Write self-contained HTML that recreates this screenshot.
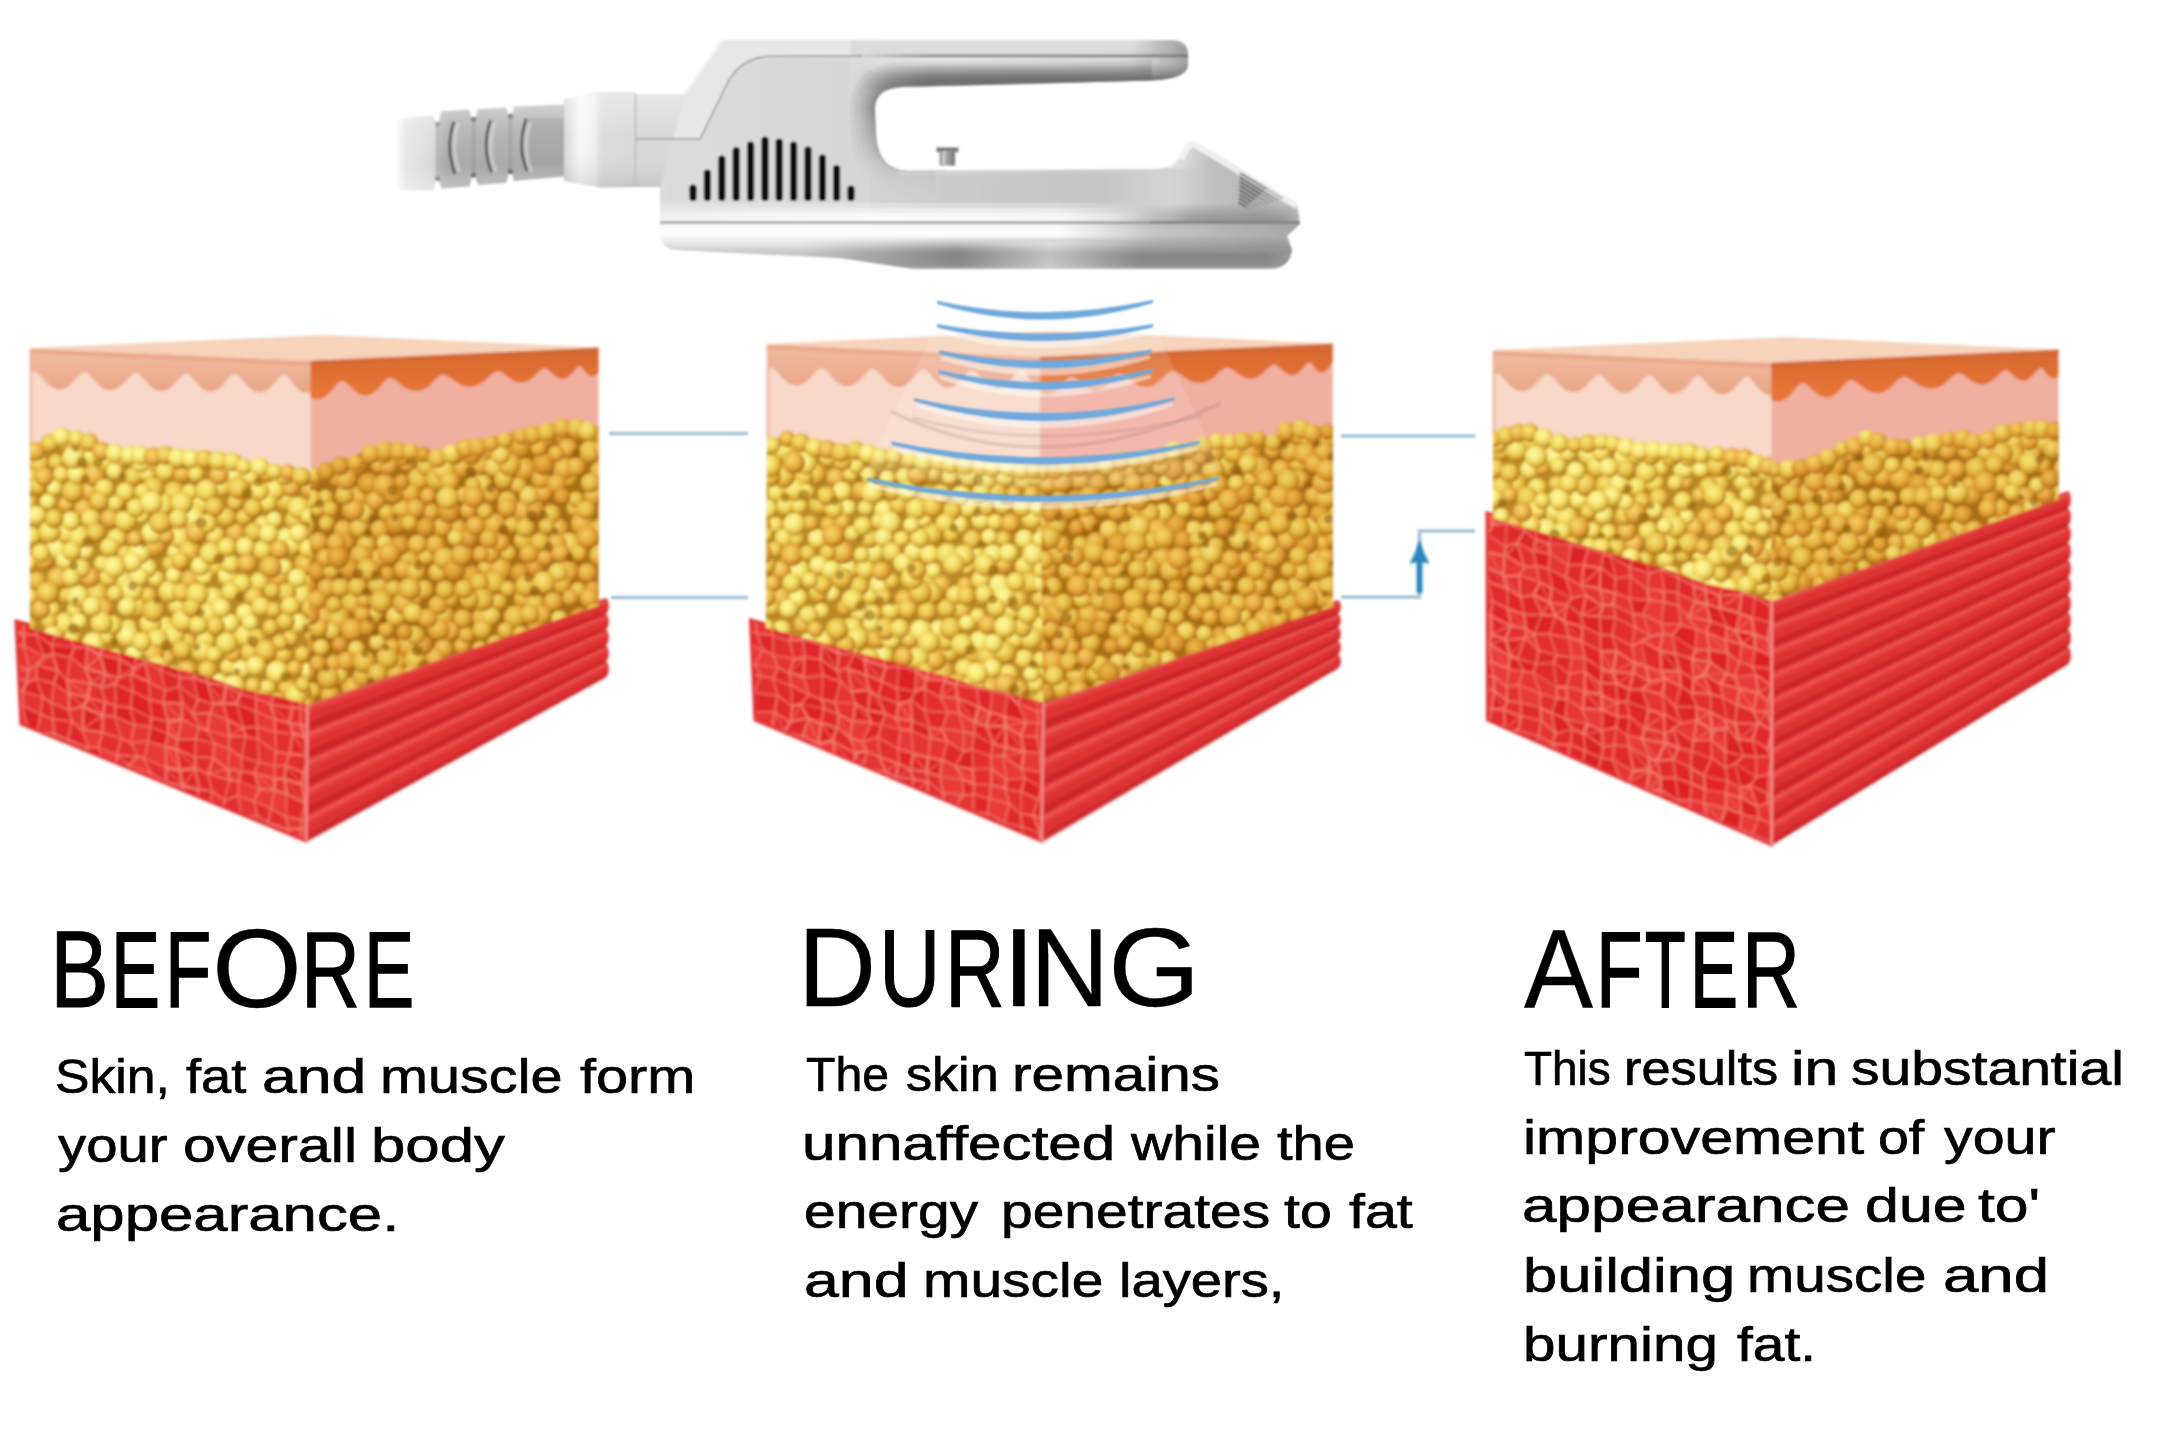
<!DOCTYPE html>
<html><head><meta charset="utf-8"><title>Before During After</title>
<style>
html,body{margin:0;padding:0;background:#fff;}
body{width:2160px;height:1440px;position:relative;overflow:hidden;font-family:"Liberation Sans",sans-serif;color:#000;}
.t{position:absolute;white-space:pre;line-height:1;transform-origin:0 0;margin:0;filter:blur(0.6px);}
.h{font-size:113px;-webkit-text-stroke:0.8px #000;height:113px;width:10px}
.h span{position:absolute;top:0;transform-origin:0 95.68px;}
.b{font-size:50px;-webkit-text-stroke:0.7px #000;height:50px;width:10px}
.b span{position:absolute;top:0;transform-origin:0 42.34px;}
</style></head><body>
<svg width="2160" height="1440" viewBox="0 0 2160 1440" style="position:absolute;left:0;top:0"><defs><radialGradient id="ga" cx="0.4" cy="0.36" r="0.64"><stop offset="0" stop-color="#fbf38e"/><stop offset="0.45" stop-color="#f3dc66"/><stop offset="0.8" stop-color="#dcae3a"/><stop offset="1" stop-color="#a8781a"/></radialGradient><radialGradient id="gb" cx="0.4" cy="0.36" r="0.64"><stop offset="0" stop-color="#f6e476"/><stop offset="0.45" stop-color="#ecc954"/><stop offset="0.8" stop-color="#d29a2c"/><stop offset="1" stop-color="#a06c14"/></radialGradient><radialGradient id="gc" cx="0.4" cy="0.36" r="0.64"><stop offset="0" stop-color="#f7da72"/><stop offset="0.45" stop-color="#ecba4c"/><stop offset="0.8" stop-color="#d4922c"/><stop offset="1" stop-color="#a06414"/></radialGradient><radialGradient id="gd" cx="0.4" cy="0.36" r="0.64"><stop offset="0" stop-color="#fdf9a6"/><stop offset="0.45" stop-color="#f7e878"/><stop offset="0.8" stop-color="#e2bc48"/><stop offset="1" stop-color="#b08420"/></radialGradient><radialGradient id="ge" cx="0.4" cy="0.36" r="0.64"><stop offset="0" stop-color="#f0c458"/><stop offset="0.45" stop-color="#e2a63c"/><stop offset="0.8" stop-color="#c68224"/><stop offset="1" stop-color="#98600f"/></radialGradient><circle id="a0" r="8.2" fill="url(#ga)"/><circle id="a1" r="9.7" fill="url(#ga)"/><circle id="a2" r="11.2" fill="url(#ga)"/><circle id="b0" r="8.2" fill="url(#gb)"/><circle id="b1" r="9.7" fill="url(#gb)"/><circle id="b2" r="11.2" fill="url(#gb)"/><circle id="c0" r="8.2" fill="url(#gc)"/><circle id="c1" r="9.7" fill="url(#gc)"/><circle id="c2" r="11.2" fill="url(#gc)"/><circle id="d0" r="8.2" fill="url(#gd)"/><circle id="d1" r="9.7" fill="url(#gd)"/><circle id="d2" r="11.2" fill="url(#gd)"/><circle id="e0" r="8.2" fill="url(#ge)"/><circle id="e1" r="9.7" fill="url(#ge)"/><circle id="e2" r="11.2" fill="url(#ge)"/>
<linearGradient id="epiR" gradientUnits="userSpaceOnUse" x1="0" y1="346" x2="0" y2="402"><stop offset="0" stop-color="#d2672f"/><stop offset="0.45" stop-color="#df6e33"/><stop offset="1" stop-color="#ea7937"/></linearGradient>
<filter id="soft" x="-2%" y="-2%" width="104%" height="104%"><feGaussianBlur stdDeviation="1.7"/></filter>
<filter id="soft2" x="-5%" y="-5%" width="110%" height="110%"><feGaussianBlur stdDeviation="1.1"/></filter>
<clipPath id="k1"><polygon points="16,621 307.5,701 306,841 21,724"/></clipPath><clipPath id="k2"><polygon points="30,348 310.5,360.5 310.5,423 30,423"/></clipPath><linearGradient id="epiL11" gradientUnits="userSpaceOnUse" x1="0" y1="348" x2="0" y2="394"><stop offset="0" stop-color="#f1c0a6"/><stop offset="0.4" stop-color="#eeb397"/><stop offset="1" stop-color="#e9a383"/></linearGradient><clipPath id="k3"><polygon points="310.5,360.5 598.5,347.5 598.5,423 310.5,423"/></clipPath><linearGradient id="epiR11" gradientUnits="userSpaceOnUse" x1="0" y1="346" x2="0" y2="402"><stop offset="0" stop-color="#d2672f"/><stop offset="0.45" stop-color="#df6e33"/><stop offset="1" stop-color="#ea7937"/></linearGradient><clipPath id="k4"><path d="M30,453C32.5,450.8 39.2,443.5 45,440C50.8,436.5 57.5,432 65,432C72.5,432 82.5,437 90,440C97.5,443 101.7,448 110,450C118.3,452 127.5,451.5 140,452C152.5,452.5 170,452 185,453C200,454 215.8,455.8 230,458C244.2,460.2 256.6,463.3 270,466C283.4,468.7 303.8,472.7 310.5,474 L310.5,705.3 L275,695.6 L245,690 L214,678.8 L185,670.9 L150,661.3 L120,653 L97,646.7 L60,636.6 L30,628.3Z"/></clipPath><clipPath id="k5"><path d="M310.5,474C315.4,472 326.6,467 340,462C353.4,457 374.8,445.5 391,444C407.2,442.5 423.8,453 437,453C450.2,453 459.2,447 470,444C480.8,441 487.3,438.3 502,435C516.7,431.7 541.9,425.5 558,424C574.1,422.5 591.8,425.7 598.5,426 L598.5,605.5 L307.5,705 Z"/></clipPath><clipPath id="k6"><polygon points="30,348 310.5,348 310.5,841 30,841"/></clipPath><clipPath id="k7"><polygon points="310.5,348 598.5,348 598.5,841 310.5,841"/></clipPath><clipPath id="k8"><polygon points="750.5,620 1043.5,699 1041.5,841 755,720"/></clipPath><clipPath id="k9"><polygon points="767,344 1040,356.5 1040,419 767,419"/></clipPath><linearGradient id="epiL22" gradientUnits="userSpaceOnUse" x1="0" y1="344" x2="0" y2="390"><stop offset="0" stop-color="#f1c0a6"/><stop offset="0.4" stop-color="#eeb397"/><stop offset="1" stop-color="#e9a383"/></linearGradient><clipPath id="k10"><polygon points="1040,356.5 1332.7,343.5 1332.7,419 1040,419"/></clipPath><linearGradient id="epiR22" gradientUnits="userSpaceOnUse" x1="0" y1="342" x2="0" y2="398"><stop offset="0" stop-color="#d2672f"/><stop offset="0.45" stop-color="#df6e33"/><stop offset="1" stop-color="#ea7937"/></linearGradient><clipPath id="k11"><path d="M767,444C769.2,442.8 775.4,438.6 780,437C784.6,435.4 789.5,434 794.5,434.5C799.5,435 804.8,438.1 810,440C815.2,441.9 817.2,444.8 826,446C834.8,447.2 850.7,446 863,447.5C875.3,449 885.5,453.1 900,455C914.5,456.9 933.3,457.7 950,459C966.7,460.3 985,461.9 1000,463C1015,464.1 1033.3,465.1 1040,465.5 L1043.5,702.5 L1011,693.7 L981,687 L950,677.3 L921,669.5 L886,660 L856,651.9 L833,645.7 L796,635.8 L766,627.7Z"/></clipPath><clipPath id="k12"><path d="M1040,465.5C1046.7,465.1 1067.8,463.9 1080,463C1092.2,462.1 1102.2,461.3 1113,460C1123.8,458.7 1135.5,456.8 1145,455C1154.5,453.2 1158.7,451.8 1170,449C1181.3,446.2 1198.7,440.3 1213,438C1227.3,435.7 1245.8,434.8 1256,435C1266.2,435.2 1268.2,440.8 1274,439C1279.8,437.2 1284.8,425.8 1291,424C1297.2,422.2 1304,427.7 1311,428C1318,428.3 1329.1,426.3 1332.7,426 L1332.7,606.8 L1043.5,703 Z"/></clipPath><clipPath id="k13"><polygon points="767,344 1040,344 1040,841 767,841"/></clipPath><clipPath id="k14"><polygon points="1040,344 1332.7,344 1332.7,841 1040,841"/></clipPath><clipPath id="k15"><polygon points="1487,513 1771.7,597 1771.7,845 1487.5,720"/></clipPath><clipPath id="k16"><polygon points="1493,350 1771.4,362.5 1771.4,425 1493,425"/></clipPath><linearGradient id="epiL33" gradientUnits="userSpaceOnUse" x1="0" y1="350" x2="0" y2="396"><stop offset="0" stop-color="#f1c0a6"/><stop offset="0.4" stop-color="#eeb397"/><stop offset="1" stop-color="#e9a383"/></linearGradient><clipPath id="k17"><polygon points="1771.4,362.5 2058.4,349.5 2058.4,425 1771.4,425"/></clipPath><linearGradient id="epiR33" gradientUnits="userSpaceOnUse" x1="0" y1="348" x2="0" y2="404"><stop offset="0" stop-color="#d2672f"/><stop offset="0.45" stop-color="#df6e33"/><stop offset="1" stop-color="#ea7937"/></linearGradient><clipPath id="k18"><path d="M1493,437C1495.5,435.7 1502.3,430.8 1508,429C1513.7,427.2 1520.8,425.3 1527,426C1533.2,426.7 1538.8,430.2 1545,433C1551.2,435.8 1555,442.2 1564,443C1573,443.8 1586,437.5 1599,438C1612,438.5 1625.2,444.2 1642,446C1658.8,447.8 1683.7,447.7 1700,449C1716.3,450.3 1728.1,451.6 1740,454C1751.9,456.4 1766.2,461.9 1771.4,463.5 L1771.4,600.4 L1737,590.3 L1707,584 L1676,572.3 L1647,563.7 L1612,553.4 L1583,545 L1560,538 L1520,526.2 L1493,518.3Z"/></clipPath><clipPath id="k19"><path d="M1771.4,463.5C1776.2,463.9 1791.6,467.1 1800,466C1808.4,464.9 1814.8,460.3 1822,457C1829.2,453.7 1835.7,449.7 1843,446C1850.3,442.3 1856.5,435 1866,435C1875.5,435 1887.2,446 1900,446C1912.8,446 1928.7,436.3 1943,435C1957.3,433.7 1974,439.9 1986,438C1998,436.1 2006,425.3 2015,423.5C2024,421.7 2032.8,426.6 2040,427C2047.2,427.4 2055.3,426.2 2058.4,426 L2058.4,499.3 L1771.7,601 Z"/></clipPath><clipPath id="k20"><polygon points="1493,350 1771.4,350 1771.4,845 1493,845"/></clipPath><clipPath id="k21"><polygon points="1771.4,350 2058.4,350 2058.4,845 1771.4,845"/></clipPath>
<linearGradient id="dBody" gradientUnits="userSpaceOnUse" x1="660" y1="0" x2="1300" y2="0"><stop offset="0" stop-color="#dcdcdc"/><stop offset="0.3" stop-color="#d6d6d6"/><stop offset="0.62" stop-color="#dedede"/><stop offset="0.8" stop-color="#e6e6e6"/><stop offset="1" stop-color="#e2e2e2"/></linearGradient>
<linearGradient id="dLow" gradientUnits="userSpaceOnUse" x1="0" y1="223" x2="0" y2="270"><stop offset="0" stop-color="#f4f4f4"/><stop offset="0.22" stop-color="#ffffff"/><stop offset="0.42" stop-color="#ececec"/><stop offset="0.62" stop-color="#d0d0d0"/><stop offset="1" stop-color="#bcbcbc"/></linearGradient>
<linearGradient id="dLowDark" gradientUnits="userSpaceOnUse" x1="0" y1="236" x2="0" y2="270"><stop offset="0" stop-color="#808080" stop-opacity="0"/><stop offset="0.5" stop-color="#787878" stop-opacity="0.85"/><stop offset="0.85" stop-color="#808080" stop-opacity="0.85"/><stop offset="1" stop-color="#989898" stop-opacity="0.5"/></linearGradient>
<linearGradient id="dLowDarkX" gradientUnits="userSpaceOnUse" x1="800" y1="0" x2="1300" y2="0"><stop offset="0" stop-color="#1a1a1a"/><stop offset="0.3" stop-color="#fff"/><stop offset="0.93" stop-color="#fff"/><stop offset="1" stop-color="#999"/></linearGradient>
<mask id="mLow" maskUnits="userSpaceOnUse" x="600" y="200" width="720" height="90"><rect x="600" y="200" width="720" height="90" fill="url(#dLowDarkX)"/></mask>
<linearGradient id="dHandle" gradientUnits="userSpaceOnUse" x1="0" y1="40" x2="0" y2="88"><stop offset="0" stop-color="#e0e0e0"/><stop offset="0.29" stop-color="#d9d9d9"/><stop offset="0.31" stop-color="#8e8e8e"/><stop offset="0.35" stop-color="#8e8e8e"/><stop offset="0.38" stop-color="#ececec"/><stop offset="0.5" stop-color="#dedede"/><stop offset="0.66" stop-color="#acacac"/><stop offset="0.83" stop-color="#747474"/><stop offset="1" stop-color="#828282"/></linearGradient>
<linearGradient id="dHandleL" gradientUnits="userSpaceOnUse" x1="850" y1="0" x2="930" y2="0"><stop offset="0" stop-color="#dcdcdc" stop-opacity="1"/><stop offset="0.3" stop-color="#dcdcdc" stop-opacity="0.75"/><stop offset="1" stop-color="#dcdcdc" stop-opacity="0"/></linearGradient>
<linearGradient id="dHandleR" gradientUnits="userSpaceOnUse" x1="1130" y1="0" x2="1190" y2="0"><stop offset="0" stop-color="#6c6c6c" stop-opacity="0"/><stop offset="0.7" stop-color="#6c6c6c" stop-opacity="0.4"/><stop offset="1" stop-color="#6c6c6c" stop-opacity="0.6"/></linearGradient>
<linearGradient id="dWall" gradientUnits="userSpaceOnUse" x1="850" y1="0" x2="877" y2="0"><stop offset="0" stop-color="#8a8a8a" stop-opacity="0"/><stop offset="0.55" stop-color="#8a8a8a" stop-opacity="0.55"/><stop offset="1" stop-color="#7a7a7a" stop-opacity="0.95"/></linearGradient>
<linearGradient id="dWallV" gradientUnits="userSpaceOnUse" x1="0" y1="60" x2="0" y2="180"><stop offset="0" stop-color="#fff"/><stop offset="0.4" stop-color="#fff"/><stop offset="0.85" stop-color="#555"/><stop offset="1" stop-color="#222"/></linearGradient>
<mask id="mWall" maskUnits="userSpaceOnUse" x="830" y="40" width="380" height="160"><rect x="830" y="40" width="380" height="160" fill="url(#dWallV)"/></mask>
<linearGradient id="dCable" gradientUnits="userSpaceOnUse" x1="0" y1="104" x2="0" y2="192"><stop offset="0" stop-color="#d2d2d2"/><stop offset="0.28" stop-color="#b9b9b9"/><stop offset="0.7" stop-color="#a9a9a9"/><stop offset="1" stop-color="#c4c4c4"/></linearGradient>
<linearGradient id="dCableFade" gradientUnits="userSpaceOnUse" x1="396" y1="0" x2="446" y2="0"><stop offset="0" stop-color="#fff" stop-opacity="0.95"/><stop offset="0.2" stop-color="#fff" stop-opacity="0.7"/><stop offset="0.75" stop-color="#fff" stop-opacity="0.55"/><stop offset="0.85" stop-color="#fff" stop-opacity="0.15"/><stop offset="1" stop-color="#fff" stop-opacity="0"/></linearGradient>
<linearGradient id="dCollar" gradientUnits="userSpaceOnUse" x1="564" y1="0" x2="636" y2="0"><stop offset="0" stop-color="#d6d6d6"/><stop offset="0.22" stop-color="#f8f8f8"/><stop offset="0.42" stop-color="#f0f0f0"/><stop offset="0.52" stop-color="#dcdcdc"/><stop offset="1" stop-color="#d8d8d8"/></linearGradient>
<linearGradient id="dCollarV" gradientUnits="userSpaceOnUse" x1="0" y1="90" x2="0" y2="190"><stop offset="0" stop-color="#fff" stop-opacity="0.4"/><stop offset="0.5" stop-color="#fff" stop-opacity="0"/><stop offset="1" stop-color="#888" stop-opacity="0.28"/></linearGradient>
<radialGradient id="dShine" gradientUnits="userSpaceOnUse" cx="1085" cy="222" r="120" gradientTransform="translate(0,222) scale(1,0.2) translate(0,-222)"><stop offset="0" stop-color="#fff" stop-opacity="0.85"/><stop offset="0.5" stop-color="#fff" stop-opacity="0.3"/><stop offset="1" stop-color="#fff" stop-opacity="0"/></radialGradient>
<linearGradient id="dBandX" gradientUnits="userSpaceOnUse" x1="660" y1="0" x2="1210" y2="0"><stop offset="0" stop-color="#fff" stop-opacity="0.5"/><stop offset="0.4" stop-color="#fff" stop-opacity="0.92"/><stop offset="0.72" stop-color="#fff" stop-opacity="0.92"/><stop offset="0.88" stop-color="#fff" stop-opacity="0.12"/><stop offset="1" stop-color="#fff" stop-opacity="0"/></linearGradient><linearGradient id="dLowR" gradientUnits="userSpaceOnUse" x1="1060" y1="0" x2="1300" y2="0"><stop offset="0" stop-color="#a0a0a0" stop-opacity="0"/><stop offset="0.4" stop-color="#9c9c9c" stop-opacity="0.6"/><stop offset="1" stop-color="#909090" stop-opacity="0.8"/></linearGradient><linearGradient id="dMidLight" gradientUnits="userSpaceOnUse" x1="960" y1="0" x2="1140" y2="0"><stop offset="0" stop-color="#fff" stop-opacity="0"/><stop offset="0.5" stop-color="#fff" stop-opacity="0.5"/><stop offset="1" stop-color="#fff" stop-opacity="0"/></linearGradient><linearGradient id="dUnder" gradientUnits="userSpaceOnUse" x1="870" y1="0" x2="1200" y2="0"><stop offset="0" stop-color="#c2c2c2" stop-opacity="0.2"/><stop offset="0.25" stop-color="#c0c0c0" stop-opacity="0.6"/><stop offset="0.7" stop-color="#b8b8b8" stop-opacity="0.7"/><stop offset="1" stop-color="#c4c4c4" stop-opacity="0.4"/></linearGradient><linearGradient id="dNoseG" gradientUnits="userSpaceOnUse" x1="1170" y1="0" x2="1300" y2="0"><stop offset="0" stop-color="#c8c8c8" stop-opacity="0"/><stop offset="0.3" stop-color="#bcbcbc" stop-opacity="0.9"/><stop offset="0.7" stop-color="#b6b6b6" stop-opacity="1"/><stop offset="1" stop-color="#c8c8c8" stop-opacity="1"/></linearGradient><linearGradient id="dNoseSh" gradientUnits="userSpaceOnUse" x1="0" y1="204" x2="0" y2="222"><stop offset="0" stop-color="#7e7e7e" stop-opacity="0"/><stop offset="0.6" stop-color="#7e7e7e" stop-opacity="0.5"/><stop offset="1" stop-color="#787878" stop-opacity="0.6"/></linearGradient><linearGradient id="dNoseShX" gradientUnits="userSpaceOnUse" x1="1120" y1="0" x2="1300" y2="0"><stop offset="0" stop-color="#000"/><stop offset="0.4" stop-color="#fff"/><stop offset="0.9" stop-color="#fff"/><stop offset="1" stop-color="#777"/></linearGradient><mask id="mNoseSh" maskUnits="userSpaceOnUse" x="1100" y="195" width="220" height="40"><rect x="1100" y="195" width="220" height="40" fill="url(#dNoseShX)"/></mask><linearGradient id="dTopShade" gradientUnits="userSpaceOnUse" x1="0" y1="168" x2="0" y2="224"><stop offset="0" stop-color="#fff" stop-opacity="0.45"/><stop offset="0.4" stop-color="#fff" stop-opacity="0"/><stop offset="1" stop-color="#000" stop-opacity="0.03"/></linearGradient>
<clipPath id="k22"><path d="M722,40 L1172,40 Q1188,41 1188,54 L1188,66 Q1186,79 1152,80.5 L903,87 Q876,88 875,108 L876,135 Q878,170 908,171 L1156,169 Q1176,168 1182,152 Q1186,140 1194,141 L1297,203 L1300,224 L1287,236 L1292,250 Q1290,268 1270,269 L914,269 L840,258 L678,250 Q661,249 660,234 L660,188 L686,92 Z"/></clipPath></defs><g filter="url(#soft)"><polygon points="16,621 307.5,701 306,841 21,724" fill="#f2776c"/><g clip-path="url(#k1)"><polygon points="10,599.7 22.1,605.4 13.8,612.1" fill="#e83a38"/><polygon points="22.7,606.3 23.6,617.1 14.5,612.9" fill="#e83a38"/><polygon points="13.7,615.6 22.8,619.5 10.7,627.8" fill="#e63434"/><polygon points="23.3,620.3 23.3,632.6 11.2,628.6" fill="#e63434"/><polygon points="10.2,631 22.2,634.9 7.9,642" fill="#e12b2d"/><polygon points="22.8,635.6 22.7,644.9 8.5,642.7" fill="#e12b2d"/><polygon points="6.8,644.2 23.5,647 28.4,668.8 10.9,661.9" fill="#e63434"/><polygon points="11.4,664.1 26.4,669.7 7.5,671.7" fill="#e63434"/><polygon points="27.1,670.4 26.1,680.4 8.1,672.5" fill="#e63434"/><polygon points="7.5,674.2 25.5,682.3 21.5,690" fill="#e12b2d"/><polygon points="6.6,674.7 20.7,690.4 6.8,690.9" fill="#e12b2d"/><polygon points="6.1,692.9 22,692.6 21.8,705.1 11.5,701.6" fill="#e32e30"/><polygon points="11.3,703.3 22.1,706.8 26.3,724.8 13.8,726.1" fill="#e83a38"/><polygon points="14.2,727.8 26.2,726.3 26.9,740.4 11.3,738" fill="#e0282a"/><polygon points="24.7,605.6 35.5,607.1 41.7,619.6 25.5,618" fill="#e12b2d"/><polygon points="25.4,619.5 41.7,620.7 35.7,633.6 25.2,633.6" fill="#e0282a"/><polygon points="25.2,635.1 35.8,635.5 43.6,655.4 25.1,645.8" fill="#e12b2d"/><polygon points="24.7,647 43.3,656.4 36,663.9 29.5,668.7" fill="#e83a38"/><polygon points="29.7,670.5 36,665.7 35.7,677.7 28.1,681.2" fill="#e83a38"/><polygon points="28.3,682.9 35.9,679.5 42,696.2 23.7,691.4" fill="#e0282a"/><polygon points="23.5,692.7 41.8,697.3 39.9,713.4 23.5,705.5" fill="#e63434"/><polygon points="23.2,706.7 39.6,714.8 36.7,730.5 27.6,724.8" fill="#dd2426"/><polygon points="27.4,726.5 36.4,732.1 36.2,745 28.4,740.4" fill="#e32e30"/><polygon points="36.9,606.9 52.2,609.5 58.1,627.3 43.3,619.5" fill="#dd2426"/><polygon points="43,621.1 57.8,628.4 51.5,643.8 37.2,634.3" fill="#dd2426"/><polygon points="36.9,635.3 50.9,645.3 52.1,653.2 44.5,655.1" fill="#dd2426"/><polygon points="44.9,657.2 51.3,655.3 38.5,663.8" fill="#e32e30"/><polygon points="51.9,655.9 56.2,669.8 39,664.4" fill="#e32e30"/><polygon points="37.2,665.5 57,671.7 52.9,682.6 37.3,678.1" fill="#e12b2d"/><polygon points="37,679.3 52.9,684.1 51.3,702.1 43.2,695.9" fill="#e12b2d"/><polygon points="43.1,697.9 51,703.9 52.6,718.2 41.3,713.5" fill="#e12b2d"/><polygon points="41.1,715.2 52.3,719.8 53.6,732.8 38,730.8" fill="#e63434"/><polygon points="39.5,733 53.1,734.9 57.8,748.7" fill="#e0282a"/><polygon points="38.8,733.5 57.1,749.2 38.5,745.1" fill="#e0282a"/><polygon points="53.5,609.5 72.2,619.6 67.8,632.5 59.4,627.2" fill="#e63434"/><polygon points="59.2,629 67.5,634.2 73.7,646.9 52.7,644.3" fill="#e32e30"/><polygon points="52.7,645.4 73.5,647.8 69.5,656.6 53.9,653.6" fill="#dd2426"/><polygon points="53.5,654.7 69.5,658 66.4,678.7 58.6,670.6" fill="#e12b2d"/><polygon points="58.4,672.4 65.8,680.1 68.1,692.4 54.7,683.2" fill="#dd2426"/><polygon points="54.1,684.3 67.7,693.8 68.2,709.1 52.6,702.5" fill="#e63434"/><polygon points="52.4,703.8 67.8,710.4 71.1,720.8 54,718.5" fill="#e0282a"/><polygon points="53.9,719.9 71,722 67.5,738.9 55.2,733" fill="#e12b2d"/><polygon points="56,735.3 66.6,740.5 66,748.6" fill="#e0282a"/><polygon points="55.7,735.7 65.7,749 60.1,749.2" fill="#e0282a"/><polygon points="73.9,620.1 85.3,615.5 82.9,631.5 69,632.8" fill="#e32e30"/><polygon points="69.1,634 82.9,633.2 86.3,646 75,646.6" fill="#dd2426"/><polygon points="75.1,648.4 86.4,647.4 84.8,667.6 71.3,657" fill="#e0282a"/><polygon points="70.8,658.2 84.3,669.1 90.1,682.8 67.6,679.1" fill="#e63434"/><polygon points="69.4,681.2 88.9,684.3 86.7,695.6" fill="#e83a38"/><polygon points="68.5,681.6 85.9,696 70.2,692.5" fill="#e83a38"/><polygon points="70.7,694.7 86.3,698.2 82,705.1" fill="#e0282a"/><polygon points="69.9,695.2 81.2,705.6 70.1,708.4" fill="#e0282a"/><polygon points="69.5,710.7 82.6,707.5 81.6,728.9 72.6,720.7" fill="#e63434"/><polygon points="72.3,722.4 81.3,730.7 87.7,746.8 68.9,739.3" fill="#e0282a"/><polygon points="69.5,741.3 85.7,747.5 68.9,749.8" fill="#e83a38"/><polygon points="86.2,748.3 81.2,756.8 69.5,750.5" fill="#e83a38"/><polygon points="86.5,615.6 103.2,625.9 104.1,642.3 84.5,632" fill="#e32e30"/><polygon points="85.7,634.5 102.7,643.3 99.6,653.1" fill="#dd2426"/><polygon points="85.1,634.6 98.9,653.2 88.5,646.1" fill="#dd2426"/><polygon points="88.1,648.8 98.8,656.3 86.7,666.6" fill="#e83a38"/><polygon points="99.5,657.4 104,672.3 87.5,667.7" fill="#e83a38"/><polygon points="87.1,670.1 103.3,674.6 92,681.8" fill="#e12b2d"/><polygon points="104,675.3 100.5,686 92.6,682.6" fill="#e12b2d"/><polygon points="91.5,684.4 100.5,688.3 104.6,701.4 89.2,697.1" fill="#e32e30"/><polygon points="90.2,699.3 103.6,702.8 102,713.3" fill="#e0282a"/><polygon points="89.3,699.5 101.1,713.5 85.2,706.5" fill="#e0282a"/><polygon points="84.5,708.8 100.6,716.1 83.8,727.7" fill="#dd2426"/><polygon points="101.4,717.1 101.3,731.2 84.5,728.8" fill="#dd2426"/><polygon points="82.9,730.6 101.9,733.4 97.6,746.5 88.9,746.7" fill="#e83a38"/><polygon points="89,748.5 97.6,748.2 105.8,766.6 83.1,758.1" fill="#dd2426"/><polygon points="104.8,626.4 112.7,628 116.5,639.7 105.2,642.2" fill="#e63434"/><polygon points="105.4,643.9 116.7,641.2 118.6,658.1 101.5,654.9" fill="#e63434"/><polygon points="101.4,656.2 118.6,659.5 118,677.1 106.3,673.2" fill="#dd2426"/><polygon points="107.1,675.4 116.9,678.4 114.2,683.1" fill="#e12b2d"/><polygon points="106.4,675.8 113.5,683.4 102.8,686.3" fill="#e12b2d"/><polygon points="102,688.3 114.8,685.2 115.1,705.1 105.9,701.3" fill="#e32e30"/><polygon points="105.9,703.1 114.8,706.6 114.1,715.7 104,714.7" fill="#e12b2d"/><polygon points="103.8,716.2 114.3,717.5 120.6,737.6 103.5,732.1" fill="#e32e30"/><polygon points="103.3,733.7 120.3,738.8 116.4,753.9 99.1,747" fill="#e32e30"/><polygon points="98.9,748.1 116.1,755.4 115.3,767.1 106.9,766.4" fill="#e83a38"/><polygon points="107.1,768.2 115.2,768.7 114.2,780.1 105,777.1" fill="#e83a38"/><polygon points="113.9,627.8 129,631.5 135.4,650.4 118.3,639.9" fill="#e32e30"/><polygon points="117.9,641.2 135.1,651.5 134.4,666.4 120.2,658.3" fill="#dd2426"/><polygon points="120.5,660.8 132.7,667.6 119.9,676" fill="#e0282a"/><polygon points="133.1,668.2 129.9,673.7 120.4,676.7" fill="#e0282a"/><polygon points="119.4,678.6 130.3,675.3 131.9,690.6 116.3,684" fill="#e12b2d"/><polygon points="115.8,685.1 131.7,692 129.8,706.7 116.4,705.2" fill="#e0282a"/><polygon points="116.4,706.7 129.6,708.3 133.4,724.1 115.8,716.3" fill="#dd2426"/><polygon points="115.4,717.4 133.3,725.4 130.8,741.8 121.7,737.4" fill="#e63434"/><polygon points="121.7,739.3 130.6,743.6 136.6,755.7 117.8,754.2" fill="#e32e30"/><polygon points="119,755.9 135.3,757.1 128.3,764.2" fill="#e12b2d"/><polygon points="118.2,756.4 127.4,764.7 117.3,766.7" fill="#e12b2d"/><polygon points="116.7,768.6 128.6,766.6 135.6,782.7 115.6,780.4" fill="#e0282a"/><polygon points="131.5,632.2 146.3,633 136.8,648.6" fill="#dd2426"/><polygon points="147.1,633.7 150,648.4 137.7,649.4" fill="#dd2426"/><polygon points="136.8,651.9 150.7,650.4 144.6,661 135.6,666.4" fill="#e32e30"/><polygon points="136,668 143.8,663.4 132.7,673.4" fill="#e0282a"/><polygon points="144.3,664 148.1,680.3 133.2,674" fill="#e0282a"/><polygon points="131.6,675.3 148.8,682.7 149.1,698.8 133.5,690.9" fill="#e0282a"/><polygon points="133.1,692.3 148.8,700.1 150.7,717.5 131.4,707.3" fill="#dd2426"/><polygon points="131.1,708.4 150.3,718.5 149.4,725.9 135,724.2" fill="#e0282a"/><polygon points="134.8,725.7 149.4,727.2 147.5,740.6 132.1,742.1" fill="#e63434"/><polygon points="132.1,743.4 147.5,742.1 143.6,757.4 137.8,755.4" fill="#e63434"/><polygon points="137.8,757.4 143.4,759.2 149.7,772.2 130.1,765.5" fill="#e83a38"/><polygon points="129.8,766.5 149.5,773.4 145.9,787.9 137.1,782.5" fill="#e63434"/><polygon points="152,650.7 166.9,658.9 160.2,668.8 146.2,661.6" fill="#dd2426"/><polygon points="145.8,662.7 159.9,670.6 164.6,689.8 150.4,681.4" fill="#e63434"/><polygon points="150.2,683.1 164.2,691.1 162.3,701.6 150.5,699" fill="#e32e30"/><polygon points="150.3,700.5 162.3,703.3 166.8,720.5 152,717.5" fill="#e0282a"/><polygon points="152.1,719 166.5,721.7 167.3,733.2 151.2,726.4" fill="#e0282a"/><polygon points="150.8,727.4 167.1,734.2 164.7,745.5 149.2,740.9" fill="#dd2426"/><polygon points="148.8,742.2 164.6,746.9 165.4,766.8 145,758" fill="#e83a38"/><polygon points="144.8,759.1 165,767.9 164.7,781.1 151.4,772.5" fill="#e32e30"/><polygon points="150.9,773.9 164.3,782.3 160.9,797.1 147.4,788.5" fill="#e0282a"/><polygon points="168.2,638.3 181.9,644.4 175.4,657.3 168.5,657.9" fill="#dd2426"/><polygon points="168.4,659.7 175.1,659.2 179.3,677.1 161.6,669.4" fill="#dd2426"/><polygon points="161.3,670.5 179,678.3 178.5,685.9 165.7,689.8" fill="#e12b2d"/><polygon points="166,691.3 178.8,687.3 181.5,702.5 163.7,701.8" fill="#e0282a"/><polygon points="165.2,703.8 180.8,704.5 180.7,717.6" fill="#e63434"/><polygon points="164.6,704.6 180.1,718.3 168.5,719.6" fill="#e63434"/><polygon points="169.2,722.7 180.8,721.3 177.4,737.1" fill="#e83a38"/><polygon points="168.6,723.3 176.8,737.7 169.2,733" fill="#e83a38"/><polygon points="168.5,734.9 177,740 175.6,747.9 166.3,745.7" fill="#e83a38"/><polygon points="166.9,748.3 175.5,750.4 178.4,767.8" fill="#e83a38"/><polygon points="166.5,749 178,768.5 167.1,766" fill="#e83a38"/><polygon points="167.9,769.3 178.5,771.7 181.1,784.3" fill="#e0282a"/><polygon points="167.3,769.7 180.6,784.8 166.9,781" fill="#e0282a"/><polygon points="166,782.8 181.7,787 182.8,799.8 162.3,797.6" fill="#e0282a"/><polygon points="183.3,644.8 195.4,649.7 197.5,664.8 176.7,658" fill="#e32e30"/><polygon points="176.4,659 197.2,665.9 192.6,677.2 180.6,677.2" fill="#e83a38"/><polygon points="180.7,678.7 192.6,678.9 197.6,698.8 180.4,686.4" fill="#e32e30"/><polygon points="179.9,687.4 197.1,699.8 192,712.1 183.3,702.7" fill="#e12b2d"/><polygon points="182.8,704.1 191.5,713.8 198.6,726.7 183.2,719.1" fill="#e12b2d"/><polygon points="182.8,720.5 198.3,727.9 195,738.3 178.8,739" fill="#e83a38"/><polygon points="178.8,740.3 194.8,739.7 194.7,756.4 177.2,748.5" fill="#e0282a"/><polygon points="178.4,750.7 193.7,757.8 194.3,766.7" fill="#e12b2d"/><polygon points="177.8,751.2 193.7,767.2 180.8,768.7" fill="#e12b2d"/><polygon points="181.2,771.7 194.2,770.2 183.7,784.3" fill="#e0282a"/><polygon points="195,771 197.8,787.7 184.5,785.1" fill="#e0282a"/><polygon points="184.4,788.2 197.6,790.6 193.5,803.7" fill="#dd2426"/><polygon points="183.8,788.6 192.8,804.2 184.8,799.5" fill="#dd2426"/><polygon points="196.9,650 213.7,658.1 207.9,666.6 198.9,664.8" fill="#e63434"/><polygon points="198.8,667.1 206.6,668.6 195,676.7" fill="#dd2426"/><polygon points="207,669.2 206,680.7 195.3,677.3" fill="#dd2426"/><polygon points="193.9,678.9 206.6,683.3 212.7,703 198.7,698.8" fill="#dd2426"/><polygon points="198.8,700.5 212.4,704.2 209.5,712.5 193.3,712.6" fill="#e32e30"/><polygon points="194.5,714.5 208.7,714.6 206.7,728.4" fill="#e12b2d"/><polygon points="194,715 206.2,728.9 199.8,726.2" fill="#e12b2d"/><polygon points="199.9,728.4 207,731.5 213.6,742.9 196.6,738.6" fill="#e12b2d"/><polygon points="196.4,739.9 213.5,744.1 212.3,757 196.1,756.6" fill="#e32e30"/><polygon points="196.1,758 212.2,758.3 207.2,772.7 196.9,768" fill="#e32e30"/><polygon points="196.5,769.4 207.2,774.5 211.6,790.4 199.8,788.5" fill="#e12b2d"/><polygon points="199.8,790.4 211.4,791.9 208.7,807.7 194.9,805.5" fill="#e0282a"/><polygon points="215.3,658.8 225.5,657.3 224.2,670.7 209.3,667.2" fill="#e32e30"/><polygon points="209.1,668.3 224,672.1 225.5,684.4 208,681.8" fill="#e32e30"/><polygon points="209.2,684.1 224.6,686.5 222.2,701.6" fill="#e12b2d"/><polygon points="208.7,684.8 221.7,702.3 213.9,702" fill="#e12b2d"/><polygon points="214.1,704.7 222.6,704.9 226.6,719 211.3,712.8" fill="#e63434"/><polygon points="210.9,714 226.4,720.3 228.5,735.8 208.6,730.2" fill="#e83a38"/><polygon points="208.5,731.3 228.2,736.9 228.5,747.8 215.3,743" fill="#e63434"/><polygon points="215,744.4 228.4,749.2 227.8,768.2 214.1,757.3" fill="#e83a38"/><polygon points="213.9,759.7 225.8,769 209.7,772.5" fill="#e63434"/><polygon points="226.5,769.9 228,779 210.4,773.4" fill="#e63434"/><polygon points="208.4,774.4 228.8,780.9 223.9,799.1 213,790.6" fill="#e32e30"/><polygon points="212.6,792.2 223.4,800.6 222.9,815.1 210.1,808.1" fill="#e63434"/><polygon points="209.8,809.4 222.4,816.4 228.6,824.7 207.8,824" fill="#e12b2d"/><polygon points="225.6,672.3 243.3,674.8 240.1,692.9 227.2,684.6" fill="#dd2426"/><polygon points="227.7,687.1 238.9,694.2 236.2,701.9" fill="#e32e30"/><polygon points="227,687.5 235.5,702.3 224.7,702.6" fill="#e32e30"/><polygon points="224,704.8 236.6,704.9 242.5,726.8 228,719" fill="#e0282a"/><polygon points="228.7,721.5 241,728 230.5,734.8" fill="#e12b2d"/><polygon points="241.8,728.7 244.2,735.6 231.2,735.5" fill="#e12b2d"/><polygon points="229.9,737.3 245,737.2 241.1,755.8 230.2,748.1" fill="#e32e30"/><polygon points="229.7,749.5 240.7,757.4 241,770.7 228.9,768.3" fill="#e83a38"/><polygon points="229.5,770.4 239.7,772.3 230.8,778.9" fill="#e32e30"/><polygon points="240.1,772.8 237.8,779.5 231.2,779.4" fill="#e32e30"/><polygon points="230,781.5 238,781.5 237.2,794.8 224.9,799.2" fill="#e32e30"/><polygon points="225.1,800.8 237.4,796.6 241.2,815.9 224.1,815.2" fill="#e32e30"/><polygon points="224.3,816.5 241.1,817.2 241.4,828.1 230.4,824.6" fill="#dd2426"/><polygon points="244.5,675.2 252.2,684.9 256,698.1 241.4,693.2" fill="#e0282a"/><polygon points="241.3,694.7 255.7,699.3 254.7,710.6 238.1,703.7" fill="#e0282a"/><polygon points="237.7,704.7 254.6,712.1 256.4,726.3 243.6,726.7" fill="#dd2426"/><polygon points="244.1,728.2 256.4,727.7 257.2,738.2 246.6,735.9" fill="#dd2426"/><polygon points="246.2,737.5 257.3,739.8 258.3,761.4 242.3,756.1" fill="#e12b2d"/><polygon points="242.2,757.6 257.9,762.7 253.5,772.1 242.4,771" fill="#e12b2d"/><polygon points="242.3,772.4 253.3,773.7 258.5,788.6 239.7,780.4" fill="#e0282a"/><polygon points="239.3,781.5 258.2,789.6 253.6,800.4 238.8,795.2" fill="#e83a38"/><polygon points="238.6,796.4 253.4,802 256.4,815.5 242.5,815.8" fill="#e63434"/><polygon points="242.7,817.4 256.5,817.1 260,839 243.1,828.4" fill="#e63434"/><polygon points="261.5,665.1 271.3,671.1 255,682.3" fill="#dd2426"/><polygon points="272,672.2 275.1,687.6 255.7,683.3" fill="#dd2426"/><polygon points="253.8,684.9 276,689.8 269.7,703.2 257.5,698.4" fill="#e83a38"/><polygon points="257.3,699.8 269.4,704.7 274,718.8 256.4,711.1" fill="#e63434"/><polygon points="256.1,712.2 273.7,719.9 274.6,731.1 258.1,726.5" fill="#e83a38"/><polygon points="257.9,727.8 274.5,732.4 275.6,751 259,738.7" fill="#e63434"/><polygon points="258.4,739.8 275.1,752.2 273.7,765 259.6,761.6" fill="#e63434"/><polygon points="259.5,763.1 273.3,766.3 274.2,777.5 255.1,772.6" fill="#e63434"/><polygon points="256.5,774.5 273.2,778.9 273,788.6" fill="#e83a38"/><polygon points="255.9,774.9 272.3,789.1 260.3,788" fill="#e83a38"/><polygon points="259.8,790.2 273.7,791.1 270.5,807.8 255.2,800.9" fill="#e83a38"/><polygon points="254.8,802.1 270.1,809.1 267.5,821.4 258,815.6" fill="#e12b2d"/><polygon points="257.6,817.1 267.6,823.3 273.1,841 261,838.9" fill="#e0282a"/><polygon points="274.1,671 288.6,675.8 287.6,687.9 277.5,688.5" fill="#e32e30"/><polygon points="277.5,690.3 287.7,689.6 291.8,707 271.2,703.6" fill="#e0282a"/><polygon points="272.8,705.7 290.7,708.7 288.5,721.3" fill="#e0282a"/><polygon points="272.1,706.1 287.8,721.8 276,718.5" fill="#e0282a"/><polygon points="275.5,720.3 288.9,724 291.5,732.4 276.3,731.3" fill="#e12b2d"/><polygon points="276,732.7 291.7,733.7 288.6,753.2 276.8,751.1" fill="#e32e30"/><polygon points="276.7,752.8 288.2,754.7 285.2,764.8 275.1,765.1" fill="#e63434"/><polygon points="275,766.6 285,766.4 283.3,777.8 275.6,777.4" fill="#e32e30"/><polygon points="276.3,779.7 283.1,780.2 285.6,792.1" fill="#e12b2d"/><polygon points="276,780.1 285.3,792.5 275.8,789.5" fill="#e12b2d"/><polygon points="275,791.5 286.2,794.9 285.3,815.8 271.9,808.1" fill="#e83a38"/><polygon points="271.6,809.6 284.7,817.1 287.7,828.6 269,822" fill="#e32e30"/><polygon points="270.5,824.4 287,830.3 290.4,844.1" fill="#e63434"/><polygon points="270,824.8 289.8,844.5 275,840.6" fill="#e63434"/><polygon points="290,676.1 303.5,681.5 299,695.7 289.3,688.3" fill="#e63434"/><polygon points="288.8,689.6 298.5,697.4 299.8,707.4 292.9,706.7" fill="#e32e30"/><polygon points="293,708.7 299.8,709.2 299.9,723.1 290.5,722.7" fill="#e32e30"/><polygon points="291.6,724.8 299.6,725.3 303,734.9" fill="#e63434"/><polygon points="291.3,725.1 302.7,735.2 293.6,732.1" fill="#e63434"/><polygon points="294,735 303.6,738.1 306.2,753.8" fill="#e0282a"/><polygon points="293.4,735.7 305.6,754.5 290.7,752.6" fill="#e0282a"/><polygon points="289.8,754.9 306.7,756.8 303.1,771.5 286.8,765.3" fill="#e32e30"/><polygon points="287.8,767.5 302,772.9 301,782.6" fill="#dd2426"/><polygon points="287,767.7 300.2,782.8 285.7,778.1" fill="#dd2426"/><polygon points="286.2,780.7 300.8,785.7 303.3,800.8" fill="#e12b2d"/><polygon points="285.6,781.1 302.7,801.1 288.4,793.4" fill="#e12b2d"/><polygon points="287.4,795.1 304,803.8 301,818.5 286.5,816" fill="#e12b2d"/><polygon points="286.5,817.4 300.6,819.9 300.8,827.8 289.2,828.6" fill="#e83a38"/><polygon points="289.9,830.7 300.2,830 292.9,844.1" fill="#e32e30"/><polygon points="300.7,830.6 300.2,842.7 293.4,844.7" fill="#e32e30"/><polygon points="305.5,682.4 319.1,680.7 301.3,694.9" fill="#e32e30"/><polygon points="319.8,681.6 321.7,701.4 302.1,695.8" fill="#e32e30"/><polygon points="300.1,697.4 322.5,703.7 314.6,715.4 301.4,708.1" fill="#e83a38"/><polygon points="301,709.1 314.1,716.8 317.6,728 301.4,723.5" fill="#e63434"/><polygon points="302.9,725.7 317,729.7 321.4,741.4" fill="#e63434"/><polygon points="302.4,726 320.9,741.7 306,736" fill="#e63434"/><polygon points="305.1,737.5 322.5,744.1 318.8,763.3 308.3,755.6" fill="#e32e30"/><polygon points="308.1,757.2 318.3,764.7 320.3,775.2 304.7,771.9" fill="#e32e30"/><polygon points="304.5,773.1 320.2,776.5 322.7,794.5 303.3,784.3" fill="#e0282a"/><polygon points="302.9,785.4 322.4,795.4 319.2,802.7 305.7,802.7" fill="#dd2426"/><polygon points="305.6,804.2 319.2,804.1 319.5,821.3 302.4,818.7" fill="#dd2426"/><polygon points="302.3,820 319.2,822.4 315.6,832 302.6,828.1" fill="#e83a38"/><polygon points="302.3,829.2 315.5,833.5 318.6,849 302,843.5" fill="#e83a38"/><polygon points="301.7,844.9 318.4,850.4 317.9,869.2 301.1,865.2" fill="#e63434"/><polygon points="321.8,680.1 334.6,687.2 336.4,702.6 324,702.6" fill="#dd2426"/><polygon points="324.1,704.4 336.3,704.1 338.4,722.5 316.1,716" fill="#e12b2d"/><polygon points="317,717.7 336.3,723.4 320,727.7" fill="#dd2426"/><polygon points="337.1,724 335.2,730.6 320.8,728.3" fill="#dd2426"/><polygon points="319,729.6 335.8,732.2 330.7,750.5 324,742.7" fill="#e83a38"/><polygon points="323.7,744.5 330.4,752.4 336.4,765.5 320,763.5" fill="#e83a38"/><polygon points="320,764.9 336.2,766.7 332.5,776.7 321.9,775.3" fill="#e32e30"/><polygon points="321.7,776.8 332.7,778.4 335.6,795.6 323.9,794.4" fill="#e32e30"/><polygon points="324.1,796.1 335.4,797.1 334.8,811.5 321,803.2" fill="#e83a38"/><polygon points="320.5,804.2 334.4,812.8 336.1,823.5 321,821.4" fill="#e12b2d"/><polygon points="320.7,822.9 336,824.8 331.8,844.7 317.3,832.6" fill="#e63434"/><polygon points="316.9,833.6 331.2,846 337.7,861.1 320.3,849.5" fill="#e63434"/><polygon points="321,851.9 336.2,861.7 329.6,865.9" fill="#e32e30"/><polygon points="320.2,852.2 328.8,866.2 319.7,868.4" fill="#e32e30"/></g><polygon points="16,621 307.5,701 306,841 21,724" fill="none" stroke="#e23434" stroke-width="3"/><polygon points="307.5,701 606,598 606,677 306,841" fill="#dd3032"/><ellipse cx="606" cy="605.9" rx="2.8" ry="7.3" fill="#dd3032"/><ellipse cx="606" cy="621.7" rx="2.8" ry="7.3" fill="#dd3032"/><ellipse cx="606" cy="637.5" rx="2.8" ry="7.3" fill="#dd3032"/><ellipse cx="606" cy="653.3" rx="2.8" ry="7.3" fill="#dd3032"/><ellipse cx="606" cy="669.1" rx="2.8" ry="7.3" fill="#dd3032"/><polygon points="307.5,704.4 606,599.9 606,602.7 307.5,709.4" fill="#ee6862" opacity="0.62"/><polygon points="307.5,709.4 606,602.7 606,605.3 307.5,713.9" fill="#e84644" opacity="0.55"/><polygon points="307.5,722.8 606,610.3 606,614.3 307.5,729.8" fill="#c02224" opacity="0.62"/><polygon points="307.5,732.4 606,615.7 606,618.5 307.5,737.4" fill="#ee6862" opacity="0.62"/><polygon points="307.5,737.4 606,618.5 606,621.1 307.5,741.9" fill="#e84644" opacity="0.55"/><polygon points="307.5,750.8 606,626.1 606,630.1 307.5,757.8" fill="#c02224" opacity="0.62"/><polygon points="307.5,760.4 606,631.5 606,634.3 307.5,765.4" fill="#ee6862" opacity="0.62"/><polygon points="307.5,765.4 606,634.3 606,636.9 307.5,769.9" fill="#e84644" opacity="0.55"/><polygon points="307.5,778.8 606,641.9 606,645.9 307.5,785.8" fill="#c02224" opacity="0.62"/><polygon points="307.5,788.4 606,647.3 606,650.1 307.5,793.4" fill="#ee6862" opacity="0.62"/><polygon points="307.5,793.4 606,650.1 606,652.7 307.5,797.9" fill="#e84644" opacity="0.55"/><polygon points="307.5,806.8 606,657.7 606,661.7 307.5,813.8" fill="#c02224" opacity="0.62"/><polygon points="307.5,816.4 606,663.1 606,665.9 307.5,821.4" fill="#ee6862" opacity="0.62"/><polygon points="307.5,821.4 606,665.9 606,668.5 307.5,825.9" fill="#e84644" opacity="0.55"/><polygon points="307.5,834.8 606,673.5 606,677.5 307.5,841.8" fill="#c02224" opacity="0.62"/><line x1="307.5" y1="701" x2="306" y2="841" stroke="#f8908a" stroke-width="2.6"/><polygon points="30,348 310.5,360.5 310.5,480 270,472 230,464 185,459 140,458 110,456 90,446 65,438 45,446 30,459" fill="#f8d8c8"/><polygon points="310.5,360.5 598.5,347.5 598.5,432 558,430 502,441 470,450 437,459 391,450 340,468 310.5,480" fill="#f0ae9f"/><g clip-path="url(#k2)"><path d="M-16,371.5 C-9.5,371.5 -3.5,389 9,389 C21.5,389 27.5,371.5 34,371.5 C40.6,371.5 46.6,389.4 59.3,389.4 C71.9,389.4 78,372.2 84.6,372.2 C91.3,372.2 97.4,390.1 110.3,390.1 C123.2,390.1 129.3,372.8 136,372.8 C142.6,372.8 148.6,390.9 161.2,390.9 C173.9,390.9 179.9,373.5 186.5,373.5 C192.8,373.5 198.6,391.6 210.8,391.6 C222.9,391.6 228.7,374.1 235,374.1 C241.4,374.1 247.2,392.3 259.5,392.3 C271.8,392.3 277.6,374.7 284,374.7 C290,374.7 295.5,393 307,393 C318.5,393 324,375 330,375 C336,375 341.5,393 353,393 C364.5,393 370,375 376,375 L376,341 L-50,328 L-16,371.5 Z" fill="url(#epiL11)"/></g><g clip-path="url(#k3)"><path d="M292.5,383 C298.9,383 304.9,399.4 317.2,399.4 C329.6,399.4 335.6,381 342,381 C348.2,381 354,395.4 366,395.4 C378,395.4 383.8,378 390,378 C396.9,378 403.2,391.2 416.5,391.2 C429.8,391.2 436.1,374.7 443,374.7 C450.1,374.7 456.8,386.7 470.5,386.7 C484.2,386.7 490.9,371.3 498,371.3 C504.1,371.3 509.8,382.4 521.5,382.4 C533.2,382.4 538.9,368.3 545,368.3 C549.5,368.3 553.8,379 562.5,379 C571.2,379 575.5,366.2 580,366.2 C583.2,366.2 586.2,376.5 592.5,376.5 C598.8,376.5 601.8,365 605,365 C608.3,365 611.4,376 617.8,376 C624.1,376 627.2,365 630.5,365 L630.5,326 L230.5,341 L292.5,383 Z" fill="url(#epiR11)"/></g><polygon points="30,348 324.5,335 598.5,347.5 310.5,360.5" fill="#f6d3b9"/><polyline points="30,351 310.5,364" fill="none" stroke="#e6a184" stroke-width="4" opacity="0.75"/><polyline points="310.5,363.5 598.5,349.5" fill="none" stroke="#d2642f" stroke-width="3" opacity="0.75"/><line x1="31" y1="349" x2="31" y2="453" stroke="#ecb39a" stroke-width="3" opacity="0.8"/><path d="M30,453C32.5,450.8 39.2,443.5 45,440C50.8,436.5 57.5,432 65,432C72.5,432 82.5,437 90,440C97.5,443 101.7,448 110,450C118.3,452 127.5,451.5 140,452C152.5,452.5 170,452 185,453C200,454 215.8,455.8 230,458C244.2,460.2 256.6,463.3 270,466C283.4,468.7 303.8,472.7 310.5,474 L310.5,705.3 L275,695.6 L245,690 L214,678.8 L185,670.9 L150,661.3 L120,653 L97,646.7 L60,636.6 L30,628.3Z" fill="#ba8a26"/><path d="M310.5,474C315.4,472 326.6,467 340,462C353.4,457 374.8,445.5 391,444C407.2,442.5 423.8,453 437,453C450.2,453 459.2,447 470,444C480.8,441 487.3,438.3 502,435C516.7,431.7 541.9,425.5 558,424C574.1,422.5 591.8,425.7 598.5,426 L598.5,605.5 L307.5,705 Z" fill="#a26c14"/><g clip-path="url(#k4)"><use href="#a1" x="123.9" y="581.1"/><use href="#b2" x="174.1" y="492.8"/><use href="#b1" x="133.5" y="476.7"/><use href="#a2" x="213.2" y="598.5"/><use href="#b1" x="39.6" y="463.9"/><use href="#c1" x="83.6" y="508.8"/><use href="#d0" x="85.7" y="551.4"/><use href="#d2" x="57.1" y="549"/><use href="#a0" x="105.9" y="637.1"/><use href="#b1" x="215.8" y="566.7"/><use href="#a1" x="165.1" y="626.5"/><use href="#a2" x="201.7" y="502.4"/><use href="#a1" x="259.5" y="581.9"/><use href="#d0" x="121.5" y="457.4"/><use href="#a0" x="141.4" y="516.1"/><use href="#a1" x="262.3" y="550.1"/><use href="#b0" x="188.1" y="641.9"/><use href="#d1" x="286" y="537.5"/><use href="#a1" x="108.5" y="577.1"/><use href="#a0" x="267.5" y="687.6"/><use href="#b1" x="316.4" y="592.7"/><use href="#c1" x="235.8" y="533.2"/><use href="#b2" x="286.7" y="500.8"/><use href="#a1" x="125.4" y="492.1"/><use href="#a0" x="228.4" y="666.9"/><use href="#b2" x="137.3" y="606.8"/><use href="#a0" x="128.8" y="627.6"/><use href="#a1" x="163.2" y="449"/><use href="#b0" x="56.3" y="462.2"/><use href="#a0" x="263.1" y="523.8"/><use href="#a2" x="301.6" y="594.8"/><use href="#d1" x="245.4" y="613.2"/><use href="#a1" x="89.9" y="457.8"/><use href="#b1" x="283.6" y="654.3"/><use href="#c1" x="44.1" y="560.5"/><use href="#c1" x="261.7" y="459.9"/><use href="#d1" x="233.7" y="473.9"/><use href="#c0" x="66.1" y="504.6"/><use href="#c2" x="279.1" y="575.9"/><use href="#a0" x="74.8" y="609.9"/><use href="#b0" x="148.6" y="595.3"/><use href="#a0" x="156.2" y="579"/><use href="#c1" x="190" y="579.9"/><use href="#a1" x="221.6" y="486.9"/><use href="#c2" x="58.1" y="578.4"/><use href="#d1" x="240.9" y="669.3"/><use href="#a1" x="116.7" y="538.2"/><use href="#b1" x="27.7" y="503"/><use href="#a2" x="65.1" y="623.8"/><use href="#a1" x="90.7" y="518.7"/><use href="#a2" x="173.4" y="636.4"/><use href="#d2" x="132.1" y="590.6"/><use href="#b1" x="253.8" y="597"/><use href="#a1" x="31.6" y="536.2"/><use href="#a2" x="162.8" y="504.7"/><use href="#b2" x="97.5" y="594.2"/><use href="#d1" x="298.5" y="623.3"/><use href="#c1" x="90.1" y="491.1"/><use href="#a1" x="261.1" y="606.8"/><use href="#c1" x="211.9" y="460.5"/><use href="#a1" x="109.6" y="547.1"/><use href="#a1" x="315.1" y="625.2"/><use href="#d1" x="177" y="552.5"/><use href="#a2" x="180.2" y="537.8"/><use href="#a2" x="244.8" y="636.2"/><use href="#b1" x="250.1" y="652.7"/><use href="#a1" x="86.9" y="432.8"/><use href="#d1" x="227.6" y="576.3"/><use href="#b1" x="309.1" y="700.9"/><use href="#d0" x="250.1" y="622.6"/><use href="#c1" x="110.3" y="518.6"/><use href="#b0" x="125.4" y="553.8"/><use href="#d2" x="193" y="517.8"/><use href="#a2" x="66.6" y="532.9"/><use href="#d0" x="47.9" y="501.7"/><use href="#a2" x="274.9" y="489.4"/><use href="#d1" x="147.3" y="471.6"/><use href="#d1" x="147.1" y="568.3"/><use href="#c2" x="154.7" y="546"/><use href="#b0" x="31.7" y="476.6"/><use href="#d1" x="65.4" y="560.4"/><use href="#c1" x="90.3" y="577.6"/><use href="#b1" x="294.5" y="520.2"/><use href="#a2" x="125.8" y="520.8"/><use href="#c1" x="290.5" y="487.3"/><use href="#b2" x="72.7" y="491.8"/><use href="#a2" x="150.5" y="624.1"/><use href="#d0" x="316.7" y="532"/><use href="#b0" x="176.5" y="668.3"/><use href="#d2" x="139.7" y="553"/><use href="#a1" x="40.9" y="553.2"/><use href="#d0" x="79.1" y="446.1"/><use href="#b0" x="290.2" y="638.7"/><use href="#a0" x="51.9" y="609.5"/><use href="#a0" x="70.8" y="433.5"/><use href="#d2" x="152.2" y="533.1"/><use href="#c0" x="167" y="658.3"/><use href="#a1" x="292" y="545.6"/><use href="#c2" x="24.5" y="487.3"/><use href="#d0" x="54.3" y="487.9"/><use href="#a0" x="190" y="492.1"/><use href="#c2" x="94.6" y="475.3"/><use href="#d0" x="204.5" y="576.8"/><use href="#b1" x="27.5" y="626.3"/><use href="#c0" x="135.2" y="538.8"/><use href="#c0" x="233.2" y="654.3"/><use href="#a0" x="312.8" y="579.8"/><use href="#a1" x="205.7" y="640.7"/><use href="#d0" x="308.7" y="670.8"/><use href="#c0" x="166.1" y="536.2"/><use href="#c1" x="287.8" y="688.1"/><use href="#a2" x="49.7" y="531.8"/><use href="#a2" x="79.2" y="536.8"/><use href="#a1" x="267.8" y="502.7"/><use href="#b1" x="254" y="532.2"/><use href="#c0" x="312.8" y="636"/><use href="#a2" x="295.8" y="696.3"/><use href="#a2" x="226.9" y="643.3"/><use href="#b1" x="238.7" y="458.3"/><use href="#a1" x="241.9" y="583.4"/><use href="#b0" x="67" y="595.6"/><use href="#d1" x="47.8" y="442.6"/><use href="#a2" x="206.8" y="490.7"/><use href="#b0" x="28.1" y="447.5"/><use href="#b2" x="189.2" y="551.5"/><use href="#a2" x="209" y="613.6"/><use href="#d1" x="229.9" y="623.4"/><use href="#d0" x="284.2" y="567.1"/><use href="#a2" x="157.6" y="640.1"/><use href="#a0" x="61" y="474.5"/><use href="#c0" x="146.9" y="447.5"/><use href="#c2" x="153" y="654.6"/><use href="#a1" x="177.9" y="605.9"/><use href="#b1" x="37.8" y="486"/><use href="#d1" x="70.5" y="521.1"/><use href="#d1" x="245" y="546.7"/><use href="#b1" x="67.3" y="442.2"/><use href="#b1" x="285.4" y="621.1"/><use href="#c1" x="267.3" y="472.7"/><use href="#b2" x="153.6" y="611"/><use href="#a2" x="202.5" y="651.1"/><use href="#b0" x="270.7" y="627.4"/><use href="#b0" x="253.2" y="685.8"/><use href="#b2" x="160.3" y="522.9"/><use href="#a0" x="115.5" y="503.5"/><use href="#a2" x="298.8" y="508.2"/><use href="#c1" x="181.9" y="473.5"/><use href="#b1" x="215.3" y="626.1"/><use href="#b1" x="207.4" y="670.1"/><use href="#a1" x="230.3" y="564.3"/><use href="#a2" x="169.6" y="591.6"/><use href="#d1" x="139.2" y="576.7"/><use href="#c0" x="194.5" y="455.9"/><use href="#d0" x="219.7" y="681.5"/><use href="#a2" x="157.4" y="667.1"/><use href="#a0" x="196.1" y="474"/><use href="#a1" x="214.9" y="535.8"/><use href="#b0" x="273.7" y="610.2"/><use href="#b2" x="153.5" y="488.3"/><use href="#d2" x="233.5" y="686.4"/><use href="#b0" x="280.2" y="642.7"/><use href="#b1" x="286.8" y="592.4"/><use href="#a1" x="29" y="595.7"/><use href="#b1" x="256.6" y="638.3"/><use href="#a1" x="104.6" y="488.6"/><use href="#a0" x="102.1" y="563.8"/><use href="#d1" x="298.9" y="533.6"/><use href="#d1" x="221.4" y="608.1"/><use href="#d1" x="134.6" y="654.4"/><use href="#a1" x="80.9" y="568.8"/><use href="#b1" x="181.6" y="592.5"/><use href="#c2" x="305.7" y="564.4"/><use href="#c2" x="196.2" y="532.6"/><use href="#b0" x="302.6" y="654.4"/><use href="#d2" x="127.7" y="635.8"/><use href="#d1" x="141.1" y="463"/><use href="#a1" x="230.7" y="591.9"/><use href="#a0" x="115" y="593.5"/><use href="#a2" x="104.5" y="460.3"/><use href="#c1" x="219" y="475.4"/><use href="#b0" x="244" y="517.5"/><use href="#b1" x="54" y="518.7"/><use href="#a1" x="112.8" y="625.1"/><use href="#a0" x="142.7" y="491.7"/><use href="#d0" x="114.4" y="471.3"/><use href="#d0" x="114.7" y="657.3"/><use href="#c1" x="43.9" y="477"/><use href="#b1" x="57.8" y="433.1"/><use href="#a1" x="317.1" y="503.7"/><use href="#a2" x="156" y="460.8"/><use href="#b1" x="182.3" y="650.2"/><use href="#a0" x="316.9" y="568"/><use href="#d1" x="76.8" y="474.1"/><use href="#d1" x="200.3" y="566.1"/><use href="#a1" x="142.3" y="665.4"/><use href="#a2" x="182.6" y="620.8"/><use href="#b1" x="226.4" y="517.8"/><use href="#b2" x="266" y="651.1"/><use href="#c2" x="270.6" y="567.1"/><use href="#a1" x="318.1" y="652.7"/><use href="#d2" x="277.3" y="671.9"/><use href="#a0" x="72.2" y="637.9"/><use href="#b0" x="303.4" y="684.7"/><use href="#b2" x="262" y="700.8"/><use href="#c0" x="294.7" y="668.3"/><use href="#a0" x="308.5" y="516.4"/><use href="#a2" x="197.4" y="594.3"/><use href="#a1" x="71.5" y="551.1"/><use href="#a2" x="210.7" y="553.7"/><use href="#c1" x="310.8" y="489.4"/><use href="#b0" x="170.2" y="564.1"/><use href="#b0" x="49.3" y="621.9"/><use href="#b1" x="277.1" y="702.1"/><use href="#d0" x="274.3" y="519.7"/><use href="#b1" x="311.4" y="608.3"/><use href="#d1" x="268.6" y="534"/><use href="#d2" x="73.4" y="457.7"/><use href="#d1" x="36.4" y="515.7"/><use href="#a1" x="135.8" y="507.9"/><use href="#d1" x="297.3" y="578.1"/><use href="#a1" x="290.4" y="606.3"/><use href="#d1" x="255.7" y="665.9"/><use href="#b0" x="272.1" y="590.9"/><use href="#d2" x="77.8" y="596.5"/><use href="#b1" x="191.8" y="607.9"/><use href="#d1" x="132.5" y="562.2"/><use href="#b2" x="304.2" y="474.6"/><use href="#c1" x="103.8" y="608.1"/><use href="#a2" x="101.7" y="623.1"/><use href="#a0" x="98.7" y="651.6"/><use href="#d2" x="226.5" y="456.1"/><use href="#d0" x="173.7" y="575.8"/><use href="#c1" x="187.4" y="670.1"/><use href="#d1" x="52.6" y="635.8"/><use href="#b1" x="180.3" y="560.6"/><use href="#d2" x="93.5" y="643.4"/><use href="#a1" x="198.6" y="625.1"/><use href="#a2" x="284.8" y="474"/><use href="#b1" x="95.8" y="532.6"/><use href="#a1" x="141.8" y="641.8"/><use href="#a1" x="250" y="477.2"/><use href="#a0" x="28.9" y="562.6"/><use href="#a0" x="214.1" y="654.6"/><use href="#b1" x="214.5" y="507"/><use href="#d0" x="79.1" y="621.4"/><use href="#b0" x="235.4" y="502.6"/><use href="#a0" x="97.7" y="441.4"/><use href="#a2" x="182" y="503.3"/><use href="#c1" x="177.1" y="459.9"/><use href="#a1" x="227" y="547.3"/><use href="#d2" x="151.4" y="502.7"/><use href="#a1" x="165.3" y="471.4"/><use href="#c1" x="247.3" y="563.5"/><use href="#b1" x="99.3" y="501.1"/><use href="#b1" x="253" y="508.2"/><use href="#a1" x="71.3" y="577.7"/><use href="#a1" x="308.6" y="548.8"/><use href="#a1" x="207.3" y="523.7"/><use href="#b0" x="220.3" y="449"/><use href="#c1" x="40.9" y="609.4"/><use href="#c1" x="279.7" y="549.1"/><use href="#a1" x="259.3" y="491.4"/><use href="#d2" x="114.3" y="567.2"/><use href="#c1" x="37" y="581.4"/><use href="#b2" x="238.6" y="488.2"/><use href="#d1" x="92" y="606.6"/><use href="#b2" x="48" y="593.2"/><use href="#d1" x="127.3" y="607.1"/><use href="#a1" x="178.4" y="518.8"/><circle cx="132.4" cy="586.1" r="4.6" fill="#96660f" opacity="0.6"/><circle cx="114.4" cy="642.1" r="3.6" fill="#96660f" opacity="0.6"/><circle cx="196.6" cy="646.9" r="3.6" fill="#96660f" opacity="0.6"/><circle cx="236.9" cy="671.9" r="3.6" fill="#96660f" opacity="0.6"/><circle cx="98.4" cy="462.8" r="4.6" fill="#96660f" opacity="0.6"/><circle cx="157.1" cy="600.3" r="3.6" fill="#96660f" opacity="0.6"/><circle cx="73.6" cy="628.8" r="5.6" fill="#96660f" opacity="0.6"/><circle cx="307" cy="628.3" r="4.6" fill="#96660f" opacity="0.6"/><circle cx="253.3" cy="641.2" r="5.6" fill="#96660f" opacity="0.6"/><circle cx="201.5" cy="522.8" r="5.6" fill="#96660f" opacity="0.6"/><circle cx="73.9" cy="565.4" r="4.6" fill="#96660f" opacity="0.6"/><circle cx="185" cy="673.3" r="3.6" fill="#96660f" opacity="0.6"/><circle cx="175.5" cy="663.3" r="3.6" fill="#96660f" opacity="0.6"/><circle cx="143.7" cy="543.8" r="3.6" fill="#96660f" opacity="0.6"/><circle cx="87.7" cy="541.8" r="5.6" fill="#96660f" opacity="0.6"/><circle cx="75.5" cy="600.6" r="3.6" fill="#96660f" opacity="0.6"/><circle cx="166.1" cy="645.1" r="5.6" fill="#96660f" opacity="0.6"/><circle cx="75.8" cy="447.2" r="4.6" fill="#96660f" opacity="0.6"/><circle cx="124" cy="508.5" r="3.6" fill="#96660f" opacity="0.6"/><circle cx="203" cy="460.9" r="3.6" fill="#96660f" opacity="0.6"/><circle cx="288.7" cy="647.7" r="3.6" fill="#96660f" opacity="0.6"/><circle cx="143.1" cy="659.4" r="4.6" fill="#96660f" opacity="0.6"/><circle cx="239.2" cy="596.9" r="4.6" fill="#96660f" opacity="0.6"/><circle cx="122.9" cy="476.3" r="3.6" fill="#96660f" opacity="0.6"/><circle cx="85.3" cy="479.1" r="4.6" fill="#96660f" opacity="0.6"/><circle cx="285.8" cy="676.9" r="5.6" fill="#96660f" opacity="0.6"/><circle cx="219.2" cy="558.7" r="5.6" fill="#96660f" opacity="0.6"/><circle cx="81.9" cy="462.7" r="5.6" fill="#96660f" opacity="0.6"/><circle cx="200.3" cy="612.9" r="4.6" fill="#96660f" opacity="0.6"/><circle cx="195.9" cy="675.1" r="4.6" fill="#96660f" opacity="0.6"/><circle cx="258.5" cy="482.2" r="4.6" fill="#96660f" opacity="0.6"/><circle cx="185.6" cy="464.9" r="4.6" fill="#96660f" opacity="0.6"/><circle cx="317.1" cy="553.8" r="4.6" fill="#96660f" opacity="0.6"/><circle cx="247.1" cy="493.2" r="5.6" fill="#96660f" opacity="0.6"/></g><g clip-path="url(#k5)"><use href="#c2" x="408.8" y="645.5"/><use href="#b1" x="366.3" y="544.5"/><use href="#b0" x="426" y="557.2"/><use href="#c2" x="352.8" y="688.2"/><use href="#c1" x="587.2" y="572.8"/><use href="#a1" x="338.4" y="675"/><use href="#b0" x="574.6" y="508.4"/><use href="#b0" x="374.4" y="615.8"/><use href="#b2" x="443" y="616.1"/><use href="#c1" x="558.8" y="528.5"/><use href="#b0" x="485.7" y="568.4"/><use href="#b1" x="303" y="482.2"/><use href="#c1" x="553.3" y="601.7"/><use href="#c1" x="379.7" y="529.5"/><use href="#a1" x="481.9" y="483.7"/><use href="#c0" x="379.1" y="465.2"/><use href="#e1" x="485.8" y="452.8"/><use href="#c1" x="343.5" y="529.8"/><use href="#c2" x="500.7" y="569.4"/><use href="#b2" x="352.2" y="602.7"/><use href="#a2" x="605.8" y="602"/><use href="#b0" x="386.9" y="512.6"/><use href="#b1" x="448.8" y="598.5"/><use href="#a2" x="569.2" y="543.9"/><use href="#b1" x="305.5" y="672.9"/><use href="#b2" x="600.5" y="555.2"/><use href="#c0" x="397.9" y="661.8"/><use href="#c1" x="523.4" y="599.1"/><use href="#c2" x="494.9" y="524.7"/><use href="#b1" x="551.1" y="514.2"/><use href="#c1" x="379.1" y="558.1"/><use href="#c2" x="324.3" y="617.8"/><use href="#c1" x="605.4" y="426.1"/><use href="#c0" x="458.6" y="528.1"/><use href="#c2" x="357.6" y="498"/><use href="#c1" x="330.1" y="695.3"/><use href="#c1" x="388.4" y="465.2"/><use href="#c2" x="524.6" y="469.3"/><use href="#b0" x="480.3" y="649.1"/><use href="#b0" x="530.2" y="434"/><use href="#c1" x="599.7" y="471"/><use href="#b0" x="576" y="499.8"/><use href="#c0" x="362.2" y="614"/><use href="#b1" x="438.1" y="572.4"/><use href="#b1" x="535" y="603.7"/><use href="#c0" x="407.6" y="463.6"/><use href="#c1" x="327" y="588"/><use href="#b1" x="432.1" y="455.8"/><use href="#b2" x="418.7" y="479.1"/><use href="#c0" x="462" y="646"/><use href="#b0" x="508.4" y="553.5"/><use href="#e1" x="472.1" y="575.2"/><use href="#c1" x="443.5" y="648.8"/><use href="#c0" x="428.1" y="495.8"/><use href="#c1" x="543" y="492.7"/><use href="#b2" x="338.8" y="618.6"/><use href="#b1" x="359.3" y="528.2"/><use href="#c1" x="435.4" y="544.6"/><use href="#c0" x="414.6" y="598.5"/><use href="#c0" x="333.7" y="663"/><use href="#b0" x="333.7" y="604.8"/><use href="#a0" x="384.6" y="543.1"/><use href="#c1" x="490.3" y="553.8"/><use href="#c1" x="409.8" y="560.5"/><use href="#a0" x="332" y="631.1"/><use href="#b2" x="515.1" y="616.9"/><use href="#c2" x="567.6" y="571.6"/><use href="#b1" x="567.3" y="477.9"/><use href="#c1" x="541.6" y="614.9"/><use href="#c0" x="466.5" y="634.7"/><use href="#b2" x="415.3" y="660.3"/><use href="#a0" x="317.9" y="508"/><use href="#b0" x="325.6" y="497.7"/><use href="#c1" x="435.2" y="658.2"/><use href="#b2" x="379" y="584.9"/><use href="#b1" x="418.4" y="452.7"/><use href="#c2" x="352" y="629.7"/><use href="#c2" x="462.1" y="466.8"/><use href="#b0" x="464.2" y="495.2"/><use href="#e1" x="423.1" y="645.4"/><use href="#c1" x="562" y="584.5"/><use href="#b2" x="444.4" y="558.8"/><use href="#c0" x="480.8" y="554.2"/><use href="#b1" x="573.1" y="422.6"/><use href="#a1" x="364" y="513.5"/><use href="#e1" x="399.9" y="545.3"/><use href="#e2" x="454.2" y="570.2"/><use href="#b1" x="533.3" y="422.7"/><use href="#b0" x="393.6" y="588.2"/><use href="#c2" x="461.8" y="555"/><use href="#c2" x="582" y="524"/><use href="#c2" x="523.7" y="511.1"/><use href="#b1" x="507.5" y="500.8"/><use href="#c2" x="599.5" y="530.3"/><use href="#b2" x="494.5" y="582.4"/><use href="#b0" x="518.6" y="485.6"/><use href="#b1" x="383.5" y="454.5"/><use href="#e1" x="534.5" y="568"/><use href="#e1" x="536.3" y="630.6"/><use href="#b0" x="578.3" y="590.1"/><use href="#c1" x="411" y="493.1"/><use href="#e1" x="307.2" y="587"/><use href="#c1" x="438" y="605.4"/><use href="#c2" x="513.1" y="439.7"/><use href="#b0" x="508" y="589"/><use href="#c0" x="321.6" y="468.3"/><use href="#c0" x="337.1" y="478.2"/><use href="#c0" x="468.2" y="510.7"/><use href="#c1" x="450.3" y="630.9"/><use href="#c1" x="499.9" y="542.5"/><use href="#c0" x="363.9" y="599.9"/><use href="#a1" x="395.9" y="616.2"/><use href="#e1" x="520" y="572.8"/><use href="#b1" x="305.5" y="556.9"/><use href="#c2" x="392.4" y="440.3"/><use href="#b0" x="578.9" y="553"/><use href="#e0" x="401.8" y="482.2"/><use href="#c2" x="564.1" y="468.9"/><use href="#b1" x="401.8" y="509.5"/><use href="#a1" x="310.9" y="498.8"/><use href="#e1" x="316.9" y="571.3"/><use href="#b0" x="505.6" y="630.5"/><use href="#b2" x="590.2" y="451.8"/><use href="#b1" x="523.5" y="540.6"/><use href="#c1" x="442" y="527.6"/><use href="#c1" x="557" y="543.1"/><use href="#a0" x="377.5" y="642.4"/><use href="#e0" x="307.4" y="703.7"/><use href="#c0" x="545" y="557.5"/><use href="#c1" x="481.5" y="618.1"/><use href="#b1" x="426.2" y="466.9"/><use href="#b0" x="313.1" y="690.8"/><use href="#a1" x="490.7" y="615.5"/><use href="#e1" x="535.2" y="509.9"/><use href="#e0" x="387.4" y="574"/><use href="#b1" x="529.9" y="614.1"/><use href="#a1" x="304.9" y="525.8"/><use href="#c1" x="346.1" y="661.1"/><use href="#c1" x="396.5" y="673.9"/><use href="#b0" x="512" y="525.3"/><use href="#b0" x="411.6" y="673.1"/><use href="#b1" x="482.2" y="629.6"/><use href="#b1" x="525.3" y="528.3"/><use href="#b1" x="424.2" y="589.7"/><use href="#b2" x="328.5" y="678.1"/><use href="#c0" x="491.3" y="494.7"/><use href="#c1" x="317" y="599.8"/><use href="#b0" x="331.4" y="570.9"/><use href="#e2" x="519.8" y="448.2"/><use href="#b0" x="473.1" y="485.3"/><use href="#c1" x="541" y="479.1"/><use href="#e0" x="593.4" y="589.1"/><use href="#b1" x="318.4" y="627.9"/><use href="#e1" x="559.5" y="435.3"/><use href="#b2" x="526.3" y="586.2"/><use href="#c0" x="570.4" y="597.6"/><use href="#c0" x="431.4" y="511.9"/><use href="#e2" x="580.3" y="619.3"/><use href="#c2" x="545.8" y="436.1"/><use href="#b1" x="340.5" y="587.7"/><use href="#e2" x="543.7" y="464.2"/><use href="#b1" x="401.9" y="456"/><use href="#a1" x="558" y="572.4"/><use href="#c2" x="403.6" y="603.5"/><use href="#c1" x="597.7" y="432.9"/><use href="#c2" x="438.6" y="629.1"/><use href="#c2" x="361.1" y="555.7"/><use href="#b2" x="437.1" y="479.6"/><use href="#c1" x="567.6" y="448.1"/><use href="#e1" x="468.8" y="538.3"/><use href="#c1" x="489" y="538.8"/><use href="#c1" x="480.2" y="465.7"/><use href="#e1" x="310.3" y="615.4"/><use href="#b1" x="445.2" y="590.2"/><use href="#e2" x="368.8" y="483.9"/><use href="#c1" x="593.4" y="495.8"/><use href="#c1" x="589.5" y="598.2"/><use href="#e0" x="339.8" y="644.7"/><use href="#c1" x="556.6" y="483.7"/><use href="#a1" x="412.9" y="613"/><use href="#c2" x="303.7" y="647"/><use href="#c1" x="403.7" y="569.4"/><use href="#e2" x="349.3" y="568.7"/><use href="#e2" x="449.2" y="512"/><use href="#b0" x="498.8" y="601.9"/><use href="#c1" x="318.4" y="542"/><use href="#c0" x="556.2" y="453.4"/><use href="#c1" x="475.5" y="525.6"/><use href="#c1" x="325.4" y="558.1"/><use href="#a1" x="595.1" y="613.8"/><use href="#a1" x="529" y="495.8"/><use href="#e0" x="562.1" y="496.6"/><use href="#c2" x="389" y="553.4"/><use href="#c1" x="507.1" y="507.8"/><use href="#a0" x="321.1" y="647.4"/><use href="#e1" x="425.9" y="527.3"/><use href="#a0" x="356.3" y="648.9"/><use href="#a0" x="455.7" y="537.9"/><use href="#a1" x="494.2" y="467.1"/><use href="#b1" x="490.4" y="437.3"/><use href="#a2" x="443.9" y="470"/><use href="#c2" x="586" y="423.5"/><use href="#b1" x="449.6" y="481.4"/><use href="#c1" x="362.3" y="677.1"/><use href="#b1" x="503.9" y="479.6"/><use href="#c1" x="375.5" y="500.7"/><use href="#b1" x="415.2" y="635.5"/><use href="#b1" x="586" y="510"/><use href="#b1" x="415.9" y="572"/><use href="#c2" x="353.3" y="509.5"/><use href="#b2" x="368" y="570.1"/><use href="#b1" x="479.4" y="582.6"/><use href="#e0" x="577" y="432.9"/><use href="#b2" x="509.7" y="465.1"/><use href="#e0" x="346.9" y="542.5"/><use href="#b0" x="369.9" y="453.6"/><use href="#b1" x="417.7" y="544.4"/><use href="#c1" x="560.7" y="552.8"/><use href="#b2" x="482.7" y="600.1"/><use href="#b2" x="381.1" y="601.7"/><use href="#a1" x="500.6" y="455.1"/><use href="#c0" x="538.8" y="448.1"/><use href="#e1" x="301.5" y="690.9"/><use href="#e1" x="312.1" y="480"/><use href="#c2" x="384.5" y="485.5"/><use href="#b0" x="485.1" y="511.5"/><use href="#b0" x="326.7" y="523.4"/><use href="#c0" x="392" y="646.6"/><use href="#e1" x="471.8" y="455.4"/><use href="#c1" x="415.4" y="508.5"/><use href="#c2" x="473.8" y="496.7"/><use href="#e0" x="366.9" y="627.9"/><use href="#b2" x="409.8" y="588.9"/><use href="#a2" x="447.5" y="498.2"/><use href="#a0" x="559.3" y="618.8"/><use href="#e1" x="393.3" y="494.8"/><use href="#c1" x="427.7" y="618.3"/><use href="#c2" x="587.7" y="537.5"/><use href="#b1" x="540.2" y="542.1"/><use href="#e2" x="396.4" y="523.7"/><use href="#e1" x="357.3" y="465.7"/><use href="#c1" x="529.1" y="553.7"/><use href="#c1" x="462.8" y="618.9"/><use href="#b1" x="469.5" y="599.6"/><use href="#b0" x="495.3" y="643.3"/><use href="#c0" x="317.8" y="663.3"/><use href="#b0" x="409.5" y="523.2"/><use href="#b1" x="464.1" y="589.1"/><use href="#c1" x="576.1" y="466.9"/><use href="#a2" x="544" y="582.6"/><use href="#b0" x="330" y="508.9"/><use href="#c0" x="601.3" y="448.5"/><use href="#b1" x="357.5" y="587.1"/><use href="#c1" x="336.5" y="542.9"/><use href="#b0" x="520.8" y="634.1"/><use href="#c1" x="556.8" y="421"/><use href="#c1" x="454.4" y="455.1"/><use href="#e2" x="337.9" y="557.5"/><use href="#e0" x="404.5" y="632.2"/><use href="#c1" x="351.7" y="450.5"/><use href="#b2" x="364.2" y="662"/><use href="#c0" x="386.5" y="629.4"/><use href="#b2" x="387.7" y="658.2"/><use href="#b0" x="341.2" y="465.1"/><use href="#b1" x="344.6" y="495.1"/><use href="#b2" x="518.3" y="425.8"/><use href="#b0" x="546.7" y="526.4"/><use href="#b1" x="590.4" y="482.9"/><use href="#b1" x="377.5" y="673.2"/><use href="#c2" x="345.9" y="478.8"/><circle cx="417.3" cy="650.5" r="5.6" fill="#86540c" opacity="0.6"/><circle cx="382.9" cy="620.8" r="3.6" fill="#86540c" opacity="0.6"/><circle cx="490.4" cy="488.7" r="4.6" fill="#86540c" opacity="0.6"/><circle cx="395.4" cy="517.6" r="3.6" fill="#86540c" opacity="0.6"/><circle cx="503.4" cy="529.7" r="5.6" fill="#86540c" opacity="0.6"/><circle cx="338.6" cy="700.3" r="4.6" fill="#86540c" opacity="0.6"/><circle cx="370.7" cy="619" r="3.6" fill="#86540c" opacity="0.6"/><circle cx="470.5" cy="651" r="3.6" fill="#86540c" opacity="0.6"/><circle cx="367.8" cy="533.2" r="4.6" fill="#86540c" opacity="0.6"/><circle cx="418.3" cy="565.5" r="4.6" fill="#86540c" opacity="0.6"/><circle cx="423.8" cy="665.3" r="5.6" fill="#86540c" opacity="0.6"/><circle cx="470.6" cy="471.8" r="5.6" fill="#86540c" opacity="0.6"/><circle cx="372.5" cy="518.5" r="4.6" fill="#86540c" opacity="0.6"/><circle cx="532.2" cy="516.1" r="5.6" fill="#86540c" opacity="0.6"/><circle cx="544.8" cy="635.6" r="4.6" fill="#86540c" opacity="0.6"/><circle cx="330.1" cy="473.3" r="3.6" fill="#86540c" opacity="0.6"/><circle cx="528.5" cy="577.8" r="4.6" fill="#86540c" opacity="0.6"/><circle cx="319.4" cy="503.8" r="4.6" fill="#86540c" opacity="0.6"/><circle cx="386" cy="647.4" r="3.6" fill="#86540c" opacity="0.6"/><circle cx="543.7" cy="514.9" r="4.6" fill="#86540c" opacity="0.6"/><circle cx="420.1" cy="678.1" r="3.6" fill="#86540c" opacity="0.6"/><circle cx="339.9" cy="575.9" r="3.6" fill="#86540c" opacity="0.6"/><circle cx="534.8" cy="591.2" r="5.6" fill="#86540c" opacity="0.6"/><circle cx="410.4" cy="461" r="4.6" fill="#86540c" opacity="0.6"/><circle cx="576.1" cy="453.1" r="4.6" fill="#86540c" opacity="0.6"/><circle cx="601.9" cy="500.8" r="4.6" fill="#86540c" opacity="0.6"/><circle cx="357.8" cy="573.7" r="5.6" fill="#86540c" opacity="0.6"/><circle cx="603.6" cy="618.8" r="4.6" fill="#86540c" opacity="0.6"/><circle cx="364.8" cy="653.9" r="3.6" fill="#86540c" opacity="0.6"/><circle cx="370.8" cy="682.1" r="4.6" fill="#86540c" opacity="0.6"/><circle cx="376.5" cy="575.1" r="5.6" fill="#86540c" opacity="0.6"/><circle cx="569.2" cy="557.8" r="4.6" fill="#86540c" opacity="0.6"/><circle cx="393" cy="490.5" r="5.6" fill="#86540c" opacity="0.6"/><circle cx="375.4" cy="632.9" r="3.6" fill="#86540c" opacity="0.6"/><circle cx="548.7" cy="547.1" r="4.6" fill="#86540c" opacity="0.6"/><circle cx="326.3" cy="668.3" r="3.6" fill="#86540c" opacity="0.6"/><circle cx="366" cy="592.1" r="4.6" fill="#86540c" opacity="0.6"/><circle cx="360.2" cy="455.5" r="4.6" fill="#86540c" opacity="0.6"/><circle cx="555.2" cy="531.4" r="3.6" fill="#86540c" opacity="0.6"/></g><g clip-path="url(#k6)"><use href="#c1" x="35.4" y="451.4"/><use href="#b1" x="49.8" y="443.1"/><use href="#d1" x="61.7" y="436.7"/><use href="#a0" x="76.6" y="438.5"/><use href="#b1" x="88.8" y="442.1"/><use href="#c1" x="101.6" y="451"/><use href="#d1" x="115.1" y="453.3"/><use href="#d1" x="129.4" y="455.2"/><use href="#d1" x="140.7" y="455.3"/><use href="#c1" x="153.5" y="456.6"/><use href="#b1" x="165.2" y="455.1"/><use href="#d1" x="177.8" y="457.7"/><use href="#d1" x="190.9" y="458.7"/><use href="#b1" x="204.4" y="459.2"/><use href="#a1" x="218.4" y="460.5"/><use href="#a1" x="232.2" y="461.7"/><use href="#a0" x="243.9" y="466.5"/><use href="#d1" x="259.7" y="466.5"/><use href="#a0" x="274.4" y="471.3"/><use href="#c0" x="287.7" y="472.1"/><use href="#b1" x="301.2" y="476.4"/></g><g clip-path="url(#k7)"><use href="#b0" x="314.1" y="475.3"/><use href="#e1" x="326.1" y="471.6"/><use href="#e1" x="340.2" y="466"/><use href="#c0" x="355.4" y="462.5"/><use href="#c1" x="370.5" y="454.1"/><use href="#c1" x="384.8" y="450.8"/><use href="#c1" x="398.6" y="451.1"/><use href="#b0" x="410.4" y="451.4"/><use href="#e0" x="423" y="454.3"/><use href="#b1" x="437.2" y="458.3"/><use href="#a1" x="451.8" y="453.8"/><use href="#c1" x="465.4" y="448.5"/><use href="#c1" x="477.7" y="447.1"/><use href="#c0" x="490.9" y="443.5"/><use href="#b0" x="505.1" y="440"/><use href="#c0" x="521" y="436.1"/><use href="#c1" x="532.8" y="434.7"/><use href="#b1" x="547.1" y="431.8"/><use href="#c1" x="561.9" y="427.9"/><use href="#b1" x="576.6" y="428.3"/><use href="#a1" x="587.9" y="431.3"/></g><path d="M310.5,474C315.4,472 326.6,467 340,462C353.4,457 374.8,445.5 391,444C407.2,442.5 423.8,453 437,453C450.2,453 459.2,447 470,444C480.8,441 487.3,438.3 502,435C516.7,431.7 541.9,425.5 558,424C574.1,422.5 591.8,425.7 598.5,426 L598.5,605.5 L307.5,705 Z" fill="#d27a1a" opacity="0.13"/></g><g filter="url(#soft)"><polygon points="750.5,620 1043.5,699 1041.5,841 755,720" fill="#f2776c"/><g clip-path="url(#k8)"><polygon points="747.5,595.3 759.4,602.7 755.8,618.8 739.5,614.8" fill="#e83a38"/><polygon points="739.4,616 755.3,620.1 756.1,633 741.1,623.2" fill="#e83a38"/><polygon points="740.7,624 755.9,634.3 762,648.9 745.2,641.3" fill="#e12b2d"/><polygon points="745,642.8 761.7,650 754.9,663.7 747.5,656.4" fill="#e83a38"/><polygon points="747.1,657.9 754.5,665.5 759.3,674.9 747.9,672.7" fill="#e0282a"/><polygon points="747.6,674.4 759.3,676.4 754,691.8 744.6,692.9" fill="#e0282a"/><polygon points="745.3,695.3 753.4,694.5 753.3,709.5" fill="#e12b2d"/><polygon points="744.9,695.9 753,710.1 745.6,708" fill="#e12b2d"/><polygon points="745.4,710.1 753.5,712.7 757.9,724 745.9,716.6" fill="#e83a38"/><polygon points="746,718.9 756.7,725.7 747.5,735.6" fill="#e83a38"/><polygon points="757.3,726.6 756.8,739.7 748,736.6" fill="#e83a38"/><polygon points="760.8,603.1 774.7,606.1 769.8,622.9 757.1,619.1" fill="#e32e30"/><polygon points="757,620.5 769.3,624.5 771.8,634.2 757.6,633.1" fill="#e63434"/><polygon points="757.5,634.5 772,635.7 772.6,654.1 763.2,648.8" fill="#e0282a"/><polygon points="763.1,650.6 772.3,655.7 777.3,667.4 756.2,664.3" fill="#e83a38"/><polygon points="756.1,665.3 777.2,668.4 772.4,677.6 760.9,675.1" fill="#e63434"/><polygon points="760.6,676.6 772.4,679.1 776.9,695.1 755.3,692.3" fill="#e32e30"/><polygon points="755.1,693.6 776.7,696.3 773.7,711.3 755,711.3" fill="#e0282a"/><polygon points="755.1,712.5 773.6,712.7 771.7,726.3 759.3,724.1" fill="#e63434"/><polygon points="759.2,725.7 771.6,727.8 770.4,738.6 758.4,740.6" fill="#dd2426"/><polygon points="777.6,607.3 791.8,610.7 791.3,623.2" fill="#e32e30"/><polygon points="776.7,607.9 790.3,623.8 772.2,622.7" fill="#e32e30"/><polygon points="771.1,624.5 791.8,625.8 789,640.1 773.6,634.4" fill="#dd2426"/><polygon points="773.3,635.7 788.9,641.6 793.3,658.2 773.9,654.4" fill="#e32e30"/><polygon points="773.9,655.7 793.1,659.4 788.7,672.1 779,667.4" fill="#e63434"/><polygon points="778.7,669 788.3,673.5 790.1,684.7 774.1,678.2" fill="#e12b2d"/><polygon points="773.7,679.2 790,686.2 791.6,704.8 778.5,695.2" fill="#e12b2d"/><polygon points="778.1,696.7 791.1,706 790,720.9 775.4,711.7" fill="#e12b2d"/><polygon points="776,714.1 788.6,722 784.4,729.7" fill="#e12b2d"/><polygon points="775.3,714.4 783.7,729.9 773.9,726.2" fill="#e12b2d"/><polygon points="773.1,727.9 784.3,732.5 790,746.6 772.2,739" fill="#e12b2d"/><polygon points="793.8,626.9 806.1,627.8 791.4,639" fill="#e83a38"/><polygon points="806.5,628.3 802.1,638.6 791.8,639.6" fill="#e83a38"/><polygon points="790.5,641.6 802.4,640.9 804,656.1 794.4,658" fill="#e32e30"/><polygon points="794.7,660.4 803.1,658.5 790.9,671.2" fill="#dd2426"/><polygon points="803.5,659.2 802.5,675.1 791.3,671.9" fill="#dd2426"/><polygon points="790,673.8 802.8,677.7 808.2,694 791.8,685.1" fill="#e83a38"/><polygon points="791.4,686.4 807.9,695.1 800.4,703 792.7,704.8" fill="#e0282a"/><polygon points="793.1,707 799.7,705.7 791.6,719.7" fill="#e32e30"/><polygon points="800.3,706.2 806.3,717.3 792.2,720.2" fill="#e32e30"/><polygon points="791.3,722.5 807.4,718.9 801.7,735.5 786,731.4" fill="#e12b2d"/><polygon points="785.8,732.6 801.5,737.1 803.3,753.8 791.5,746.6" fill="#e83a38"/><polygon points="803.1,611 823.1,619.9 816.1,630.8 809.1,625.9" fill="#e12b2d"/><polygon points="808.8,627.6 815.7,632.5 820.7,643.7 803.9,639.5" fill="#e83a38"/><polygon points="803.7,640.7 820.6,645 819.7,658.7 805.5,656.2" fill="#e0282a"/><polygon points="805.4,657.8 819.6,660.3 822.1,674.8 804.3,676.2" fill="#e0282a"/><polygon points="804.3,677.7 822.3,676.3 821.2,698.8 809.5,693.9" fill="#e32e30"/><polygon points="809.5,695.7 820.7,699.9 822.8,708.2 801.8,703.8" fill="#dd2426"/><polygon points="801.6,704.6 822.7,709.2 820.2,721.8 809,717.5" fill="#dd2426"/><polygon points="809.5,720.5 819.5,724.1 818.2,741.5" fill="#e83a38"/><polygon points="808.8,721 817.5,742 804.1,735.4" fill="#e83a38"/><polygon points="803,737.1 818.1,744.7 822.5,752.7 804.7,754" fill="#dd2426"/><polygon points="824.8,621 834.1,620 818.4,630.3" fill="#e83a38"/><polygon points="834.4,620.5 832.7,631.9 818.8,630.8" fill="#e83a38"/><polygon points="818.9,633.4 832.8,634.9 837.3,651" fill="#e12b2d"/><polygon points="818.4,633.8 836.8,651.4 822.8,643.8" fill="#e12b2d"/><polygon points="823.4,646.8 837.4,654.2 836.7,668.7" fill="#dd2426"/><polygon points="822.7,647 835.9,669 822.1,659.1" fill="#dd2426"/><polygon points="821,660.3 836.8,671.5 839.6,681.1 823.9,675" fill="#dd2426"/><polygon points="823.4,676.4 839.5,682.5 834.7,701.3 822.4,698.9" fill="#e0282a"/><polygon points="823.7,701 833.9,703.2 836.8,712.4" fill="#dd2426"/><polygon points="823.3,701.2 836.4,712.7 825.1,708.2" fill="#dd2426"/><polygon points="824.3,709.7 837.5,714.6 836.8,726.8 821.8,722.2" fill="#e12b2d"/><polygon points="822.5,724.4 835.7,728.5 832,738.6" fill="#dd2426"/><polygon points="821.8,725.1 831.2,739.2 820.3,742.5" fill="#dd2426"/><polygon points="821.1,745.2 831.9,742.3 833.5,756.3" fill="#e63434"/><polygon points="820.8,745.7 833.2,756.7 824.4,752.3" fill="#e63434"/><polygon points="824.1,755.2 833.2,759.5 821,771.3" fill="#e0282a"/><polygon points="833.7,760.6 834.9,778.8 821.5,772.5" fill="#e0282a"/><polygon points="836.6,619.7 846.2,629.2 852.6,643.7 835,633.1" fill="#e12b2d"/><polygon points="834.6,634.2 852.2,644.7 853.7,653.2 839.8,652.7" fill="#e32e30"/><polygon points="839.7,654.4 853.7,654.5 847.1,667.2 838.4,670.6" fill="#e32e30"/><polygon points="838.5,672.2 847.2,669.2 851,690.9 841.1,681.2" fill="#e32e30"/><polygon points="840.8,682.9 850.6,692.3 854.5,702.7 836,701.7" fill="#e63434"/><polygon points="836,702.9 854.4,704 852,720.4 839.3,713.6" fill="#e63434"/><polygon points="839.9,716.3 851,722.1 849.2,735.5" fill="#e63434"/><polygon points="839.4,716.6 848.6,735.8 838.9,727.2" fill="#e63434"/><polygon points="837.9,728.6 848.9,738.4 854.9,752.1 833.9,740.5" fill="#e12b2d"/><polygon points="835.4,743.1 853.6,753.3 853.6,766.4" fill="#e12b2d"/><polygon points="834.6,743.3 852.8,766.6 836.6,757.7" fill="#e12b2d"/><polygon points="835.5,759.2 854.2,769.3 852.1,778.8 836.9,780.2" fill="#e83a38"/><polygon points="848,629.2 864.7,626.6 865.7,643 853.7,643.6" fill="#e12b2d"/><polygon points="854,645.2 865.7,644.5 863.6,658.9 855.4,653.3" fill="#e0282a"/><polygon points="854.8,654.8 863.2,660.5 865.6,674 848.5,667.8" fill="#dd2426"/><polygon points="849.8,670.2 864.8,675.9 868,688.7" fill="#e32e30"/><polygon points="849.3,670.9 867.4,689.3 852.7,689.9" fill="#e32e30"/><polygon points="852.4,692.4 869.1,691.6 866.9,710.1 856.1,702.8" fill="#dd2426"/><polygon points="856.9,705.4 866.2,711.7 869.6,721" fill="#dd2426"/><polygon points="856.3,705.8 869.1,721.4 854.3,720" fill="#dd2426"/><polygon points="853.2,722.1 870.3,723.5 862.4,740.4 850.8,737.5" fill="#e83a38"/><polygon points="851.9,739.5 861.8,742.4 865.4,749.9" fill="#e83a38"/><polygon points="851.6,739.9 865.1,750.3 856.2,751.3" fill="#e83a38"/><polygon points="856.9,754.2 865.9,752.8 862.9,764.1" fill="#e0282a"/><polygon points="856.4,754.9 862.5,764.8 856,767.3" fill="#e0282a"/><polygon points="855.9,769.8 863.1,767 864.6,780.3 853.7,778.8" fill="#e32e30"/><polygon points="867.6,645.4 879,649.1 865.7,658.3" fill="#e63434"/><polygon points="879.8,650 884.5,665.1 866.5,659.3" fill="#e63434"/><polygon points="866.4,661.8 884.3,667.5 881,679.4" fill="#e12b2d"/><polygon points="865.6,662.1 880.2,679.7 867.7,674.1" fill="#e12b2d"/><polygon points="866.8,675.7 881.2,682.2 878,695.7 870.6,690.1" fill="#e0282a"/><polygon points="871.3,693 877.9,698.1 883.7,711.6" fill="#dd2426"/><polygon points="870.8,693.6 883.3,712.1 868.9,709.6" fill="#dd2426"/><polygon points="868.2,711.6 884.4,714.4 880.6,723.9 872,722.2" fill="#dd2426"/><polygon points="871.5,723.9 880.4,725.5 877.3,736.7 863.5,740.7" fill="#e0282a"/><polygon points="863.7,742 877.4,738.4 878.7,756 867.9,750.6" fill="#e63434"/><polygon points="867.7,752.2 878.5,757.5 884.3,771 864.5,765.7" fill="#e63434"/><polygon points="865.9,768.1 883.2,772.7 881,787.7" fill="#e12b2d"/><polygon points="865.1,768.4 880.3,788 866.8,780.5" fill="#e12b2d"/><polygon points="883.7,632.3 897.3,642.5 882.7,646.7" fill="#e83a38"/><polygon points="897.8,643.4 895.4,651 883.3,647.6" fill="#e83a38"/><polygon points="881.7,648.9 895.8,653.2 897.8,665.7 886.8,665.9" fill="#dd2426"/><polygon points="886.8,667.8 897.9,667.2 896.7,687.4 883,681.1" fill="#e12b2d"/><polygon points="882.7,682.6 896.2,688.9 897.8,702.6 879.3,696.3" fill="#e0282a"/><polygon points="879.1,697.4 897.6,703.9 895.3,717.7 885.9,713.1" fill="#e0282a"/><polygon points="885.9,714.8 894.9,719.1 899.8,728.8 882.2,724.5" fill="#e63434"/><polygon points="881.9,725.6 899.7,729.9 897.7,747.6 879,737.3" fill="#e32e30"/><polygon points="878.6,738.4 897.3,748.8 898,762.6 880.2,756.3" fill="#e32e30"/><polygon points="881.1,758.4 896.4,763.9 886.1,770.1" fill="#e32e30"/><polygon points="897.1,764.7 894.8,775.9 886.7,770.9" fill="#e32e30"/><polygon points="885.8,773.6 894,778.6 883.7,788.4" fill="#e63434"/><polygon points="894.4,779.6 895.5,793.8 884.1,789.3" fill="#e63434"/><polygon points="901.1,643.5 913.5,640.3 898.3,651.1" fill="#e12b2d"/><polygon points="914.1,640.8 913.1,654.8 898.9,651.6" fill="#e12b2d"/><polygon points="897.3,653.1 913.6,657 915.3,670 899.4,665.9" fill="#e12b2d"/><polygon points="899.1,667.3 915.3,671.4 914.6,690.5 897.9,687.7" fill="#dd2426"/><polygon points="897.9,689.1 914.2,691.8 910.2,699.7 899.2,702.6" fill="#dd2426"/><polygon points="900.2,704.8 910,702.2 911.1,718.7" fill="#e83a38"/><polygon points="899.6,705.5 910.5,719.4 897.4,717.4" fill="#e83a38"/><polygon points="897.9,719.7 910.7,721.7 909.9,728.8" fill="#e0282a"/><polygon points="897.5,720 909.5,729.1 901.5,728.3" fill="#e0282a"/><polygon points="901,730.4 910.8,731.3 912.5,752.7 899,747.8" fill="#e83a38"/><polygon points="898.9,749.4 912.1,754.2 909.9,768.7 899.5,762.8" fill="#e0282a"/><polygon points="899.6,765.1 908.4,770.2 897.2,776.2" fill="#e12b2d"/><polygon points="909,770.8 911.9,777.8 897.8,776.8" fill="#e12b2d"/><polygon points="896.3,778.4 912.8,779.5 909.2,794.4 897.3,794.8" fill="#e0282a"/><polygon points="916.1,658.4 928.2,661.2 925.4,677.4" fill="#e63434"/><polygon points="915.6,658.8 924.9,677.8 917.2,669.9" fill="#e63434"/><polygon points="917.1,672.8 924.7,680.5 923.9,686.7" fill="#e63434"/><polygon points="916.7,673.2 923.5,687.1 916.1,689.5" fill="#e63434"/><polygon points="915.7,692.3 924.3,689.4 924.6,709.6 912,700.1" fill="#dd2426"/><polygon points="911.6,701.3 924.2,711.2 928.7,727.3 913.1,720.3" fill="#e12b2d"/><polygon points="913.1,721.7 928.3,728.3 929.4,737.7 912.3,730.2" fill="#dd2426"/><polygon points="911.9,731.2 929.3,739 927.8,756.2 913.7,752.9" fill="#e63434"/><polygon points="914.7,755.4 926.8,758.2 925.4,770.5" fill="#e0282a"/><polygon points="914,755.9 924.7,771 912,768.5" fill="#e0282a"/><polygon points="911.2,770.2 925.6,773.2 927.3,781.1 914.5,778.4" fill="#e32e30"/><polygon points="914.5,780.5 926.1,782.8 911.6,793.6" fill="#e0282a"/><polygon points="926.6,783.7 926.3,799.8 912.2,794.5" fill="#e0282a"/><polygon points="929.3,649 944.2,648.6 948,670.4 930.7,659.5" fill="#dd2426"/><polygon points="930.8,662 946,671.3 928,678.4" fill="#e83a38"/><polygon points="946.5,672.2 942.8,679.5 928.5,679.2" fill="#e83a38"/><polygon points="926.9,680.8 943.2,681.2 940,696.5 925.9,688.3" fill="#e0282a"/><polygon points="925.5,689.4 939.8,698 946.9,712 925.8,709.9" fill="#e32e30"/><polygon points="925.8,711.2 946.9,713.2 941.9,728 930.1,727.3" fill="#e12b2d"/><polygon points="930.8,729.2 940.9,729.9 931.5,737.1" fill="#e63434"/><polygon points="941.6,730.4 945.5,740.3 932.2,737.7" fill="#e63434"/><polygon points="930.7,739.3 946.4,742.1 942,759.1 929.1,756.4" fill="#e63434"/><polygon points="929.4,758.7 940.5,761.1 928,771" fill="#dd2426"/><polygon points="941,761.9 939.3,774.9 928.5,771.8" fill="#dd2426"/><polygon points="927.3,773.5 939.4,777.2 942.2,792 929.2,781.6" fill="#e32e30"/><polygon points="928.7,782.6 941.8,793.2 943.3,801.9 928.4,801.1" fill="#e32e30"/><polygon points="928.2,802.6 943.3,803.3 939.4,815.8 926.4,819.2" fill="#e12b2d"/><polygon points="945.4,648.6 957.5,656.8 961.4,669.1 949.1,670.3" fill="#e63434"/><polygon points="949.6,672.4 960.1,671 945.9,679.4" fill="#e0282a"/><polygon points="960.3,671.5 955.5,683 946.2,679.9" fill="#e0282a"/><polygon points="944.9,682.4 954.3,685.7 942.1,695.5" fill="#e12b2d"/><polygon points="954.8,686.3 956,696.7 942.7,696.2" fill="#e12b2d"/><polygon points="941.4,698 956.8,698.7 958.2,712.1 948.2,711.7" fill="#e83a38"/><polygon points="948.3,713.6 958.4,713.7 962.9,730.7 943.4,728.2" fill="#e63434"/><polygon points="943.4,729.5 962.8,732.1 963,750.3 948.2,741.1" fill="#e83a38"/><polygon points="947.6,742.5 962.7,751.5 955.2,764.9 943.4,759.6" fill="#e12b2d"/><polygon points="943.1,760.9 954.7,766.6 962,779.4 941.2,776" fill="#e83a38"/><polygon points="941.1,777.2 961.9,780.5 962.7,794.6 943.7,792.3" fill="#e83a38"/><polygon points="944.5,794 961,795.8 945.7,801.5" fill="#e32e30"/><polygon points="961.5,796.2 955,804.2 946.2,802" fill="#e32e30"/><polygon points="944.6,803.6 955,806.4 957.7,827.4 941.1,816.2" fill="#e63434"/><polygon points="963.8,671.5 973.6,672.6 975.5,686" fill="#e12b2d"/><polygon points="963,672 974.8,686.6 958.1,683.7" fill="#e12b2d"/><polygon points="956.9,685.3 976.1,688.8 978.4,705.7 958.4,697.6" fill="#e32e30"/><polygon points="959.7,700.1 977.1,707.1 973.8,720.8" fill="#e0282a"/><polygon points="958.9,700.4 973,721.1 960.5,712.3" fill="#e0282a"/><polygon points="959.6,713.7 973.8,723.7 973.5,733.2 964.3,730.6" fill="#e83a38"/><polygon points="964.1,732.4 973.4,734.9 971.6,748.4 964.1,750.2" fill="#e83a38"/><polygon points="964,752.2 971.5,750.2 972.5,768.3 956.4,765.4" fill="#dd2426"/><polygon points="957.7,767.5 971.6,770.3 972.7,782.5" fill="#e83a38"/><polygon points="957.4,767.9 972.3,782.9 963.6,778.8" fill="#e83a38"/><polygon points="963.4,780.9 973.3,785.3 972.7,793.4 964.2,794.4" fill="#e0282a"/><polygon points="964,796.2 972.7,794.9 973.1,811.8 956.6,805.3" fill="#e63434"/><polygon points="957.1,807.6 971.6,813.7 959.4,826" fill="#e0282a"/><polygon points="972.5,814.6 977.3,826.7 960.4,826.9" fill="#e0282a"/><polygon points="975.3,672.1 986.1,678.4 991,690.2 977.7,687.4" fill="#e12b2d"/><polygon points="977.5,689.1 991.1,691.8 989.8,711.2 979.7,705.6" fill="#e0282a"/><polygon points="979.7,708.3 988.3,712.9 976.4,721.7" fill="#e83a38"/><polygon points="988.6,713.7 985.7,724.5 976.7,722.4" fill="#e83a38"/><polygon points="975.5,724.2 985.8,727 992,743.2 975.1,733.8" fill="#e0282a"/><polygon points="974.7,734.9 991.7,744.1 990.2,755.2 973,749" fill="#e0282a"/><polygon points="972.7,750.1 989.9,756.5 990.4,767.9 973.8,768.4" fill="#e32e30"/><polygon points="973.9,769.8 990.4,769.3 990.4,784.3 974.9,784" fill="#e32e30"/><polygon points="975,785.3 990.2,785.5 988.6,797.5 974.4,793.7" fill="#e32e30"/><polygon points="974.1,795 988.5,798.9 987.2,812.6 974.4,811.9" fill="#e0282a"/><polygon points="974.5,813.4 987.3,814.3 990.7,830.7 979.8,827" fill="#e12b2d"/><polygon points="995.4,662.9 1006.4,669.8 1007.6,682.8 987.8,677.2" fill="#e32e30"/><polygon points="987.7,678.2 1007.2,683.9 1006.5,693.7 992.7,690.4" fill="#e32e30"/><polygon points="992.3,691.9 1006.5,695.1 1004.3,715.4 991,711.4" fill="#e63434"/><polygon points="991.3,713.6 1002.5,717 988.2,724.7" fill="#e0282a"/><polygon points="1003.1,717.5 1003.7,724.7 988.8,725.2" fill="#e0282a"/><polygon points="988.2,727.5 1003.5,727.2 993.5,741.6" fill="#dd2426"/><polygon points="1004.3,728 1004.6,746 994.3,742.5" fill="#dd2426"/><polygon points="993.3,744.8 1004.8,748.3 1002.1,755.2 991.7,755.4" fill="#e63434"/><polygon points="991.5,756.8 1002.3,756.9 1005.9,778.5 992.1,768" fill="#e83a38"/><polygon points="992.9,770.7 1004.8,779.5 1004.3,786.9" fill="#e12b2d"/><polygon points="992.3,770.9 1003.7,787.2 992.6,783.9" fill="#e12b2d"/><polygon points="991.8,785.8 1004.7,789.6 1008.2,803.2 990.3,797.8" fill="#e83a38"/><polygon points="990,799.1 1008,804.4 1004.1,822 988.8,813" fill="#e83a38"/><polygon points="988.5,814.2 1003.8,823.5 1009.1,841.4 992.3,831" fill="#dd2426"/><polygon points="1008.1,670.2 1019.2,674.3 1025.6,685.7 1009.1,682.9" fill="#e0282a"/><polygon points="1009.6,684.9 1024,687 1009,693.3" fill="#e0282a"/><polygon points="1024.4,687.8 1017.7,701.8 1009.4,694.1" fill="#e0282a"/><polygon points="1007.7,695.3 1017.4,704.7 1025.6,721.3 1005.6,715.7" fill="#dd2426"/><polygon points="1006.4,717.6 1023.6,722.2 1007.2,725" fill="#e83a38"/><polygon points="1024.3,723 1020.2,733.9 1007.9,725.8" fill="#e83a38"/><polygon points="1007.3,728 1019.8,736.5 1022.8,749.6" fill="#e12b2d"/><polygon points="1006.7,728.5 1022.2,750 1007.3,746.5" fill="#e12b2d"/><polygon points="1007.1,749.1 1021.8,752.5 1004.8,755.5" fill="#e32e30"/><polygon points="1022.5,753.3 1020.7,767.2 1005.5,756.4" fill="#e32e30"/><polygon points="1003.4,756.8 1020.9,769.5 1023.7,777.8 1007.2,778.7" fill="#e83a38"/><polygon points="1007.4,780 1023.7,779 1020.6,791 1006.4,788.5" fill="#e12b2d"/><polygon points="1006.2,789.7 1020.7,792.5 1020.4,812.9 1009.8,803.3" fill="#e32e30"/><polygon points="1009.4,804.9 1019.9,814.2 1021.2,826.1 1005.5,822.4" fill="#e12b2d"/><polygon points="1005.4,823.6 1021.1,827.6 1023.7,838.5 1010.2,841.3" fill="#e12b2d"/><polygon points="1021.9,675 1039.1,680.1 1027.6,685" fill="#e83a38"/><polygon points="1039.8,680.9 1037,691.5 1028.3,685.8" fill="#e83a38"/><polygon points="1026.7,687.3 1037.1,693.8 1037.3,710.6 1019,703.4" fill="#e63434"/><polygon points="1018.8,704.6 1036.9,711.9 1037.6,722.7 1026.8,721.2" fill="#e83a38"/><polygon points="1026.8,723 1037.6,724.1 1035.9,736.1 1022.1,735.2" fill="#e63434"/><polygon points="1022,736.4 1035.9,737.7 1039.1,752.2 1025.1,751.3" fill="#e12b2d"/><polygon points="1025,752.9 1039.2,753.6 1040.5,771.2 1022.8,768.6" fill="#e83a38"/><polygon points="1022.8,769.9 1040.3,772.5 1041,786.6 1025.6,778.2" fill="#e12b2d"/><polygon points="1025.2,779.3 1040.7,787.6 1037.5,798 1022.4,791.5" fill="#dd2426"/><polygon points="1021.9,792.7 1037.3,799.4 1032.6,814.7 1021.5,813" fill="#e32e30"/><polygon points="1021.6,814.6 1032.5,816.6 1039.1,832.8 1022.8,826.3" fill="#e0282a"/><polygon points="1022.7,827.6 1038.8,833.8 1039.1,842.1 1025.5,838.6" fill="#e0282a"/><polygon points="1025.1,840 1039.1,843.4 1038.6,859.5 1021.5,856.6" fill="#e32e30"/><polygon points="1042,680.7 1051.4,680.2 1048.3,690.6 1038.7,692.4" fill="#e63434"/><polygon points="1038.5,694 1048.4,692.4 1049.6,707 1038.4,710.5" fill="#e12b2d"/><polygon points="1038.7,712 1049.8,708.6 1052.4,721.8 1039.1,722.7" fill="#e12b2d"/><polygon points="1039.1,724.3 1052.4,723.1 1048.6,736.4 1037.3,736.2" fill="#e0282a"/><polygon points="1037.2,737.7 1048.8,738.2 1054.6,761.6 1040.7,752.1" fill="#e63434"/><polygon points="1040.5,753.8 1054.2,762.8 1054.6,773 1042,771.2" fill="#dd2426"/><polygon points="1041.8,772.9 1054.5,774.5 1049.3,789.2 1042.3,786.6" fill="#e0282a"/><polygon points="1042.1,788.4 1048.8,790.9 1048.9,798.5 1039,798.2" fill="#dd2426"/><polygon points="1038.6,799.8 1049,800.1 1052.5,822.1 1034,815.1" fill="#e0282a"/><polygon points="1034.9,817.4 1050.9,823.5 1040.7,831.6" fill="#e12b2d"/><polygon points="1051.6,824.4 1050.3,836.3 1041.4,832.5" fill="#e12b2d"/><polygon points="1040.4,834.4 1050.4,838.6 1051,853.5 1040.9,842.6" fill="#e32e30"/><polygon points="1040.3,843.7 1050.5,854.9 1054.6,869.1 1040.1,859.9" fill="#dd2426"/><polygon points="1052.7,680.4 1064.9,684.3 1068.3,701.1 1049.9,691.3" fill="#e12b2d"/><polygon points="1049.5,692.3 1067.9,702.1 1065.4,714.4 1051.3,707.3" fill="#e63434"/><polygon points="1051,708.5 1065,715.7 1065.8,726.5 1054.1,721.8" fill="#e0282a"/><polygon points="1054.1,724.2 1064.5,728.2 1051,735.9" fill="#e83a38"/><polygon points="1065.1,729.3 1066.7,746.7 1051.6,737" fill="#e83a38"/><polygon points="1049.8,738.1 1067.1,749.3 1068.2,759.8 1055.6,761.5" fill="#e32e30"/><polygon points="1055.9,763.2 1068.2,761.3 1065.4,774.4 1056.1,773.1" fill="#e32e30"/><polygon points="1055.8,774.8 1065.3,776 1066.8,789.6 1050.4,789.6" fill="#e0282a"/><polygon points="1050.5,790.9 1066.7,791 1066,804.5 1050.6,798.9" fill="#dd2426"/><polygon points="1050.2,800.1 1066,806 1066,823.9 1053.6,822" fill="#e63434"/><polygon points="1054.2,824.4 1064.8,826 1052.8,836.2" fill="#e0282a"/><polygon points="1065.4,826.7 1068,839.2 1053.4,836.9" fill="#e0282a"/><polygon points="1052.8,839.4 1067.4,841.8 1053,852.6" fill="#dd2426"/><polygon points="1068.2,842.6 1070.7,855.8 1053.9,853.4" fill="#dd2426"/><polygon points="1052.3,855.1 1071.4,857.8 1064.5,867.6 1055.8,869.2" fill="#e12b2d"/></g><polygon points="750.5,620 1043.5,699 1041.5,841 755,720" fill="none" stroke="#e23434" stroke-width="3"/><polygon points="1043.5,699 1338,600 1338,668 1041.5,841" fill="#dd3032"/><ellipse cx="1338" cy="606.8" rx="2.8" ry="6.3" fill="#dd3032"/><ellipse cx="1338" cy="620.4" rx="2.8" ry="6.3" fill="#dd3032"/><ellipse cx="1338" cy="634" rx="2.8" ry="6.3" fill="#dd3032"/><ellipse cx="1338" cy="647.6" rx="2.8" ry="6.3" fill="#dd3032"/><ellipse cx="1338" cy="661.2" rx="2.8" ry="6.3" fill="#dd3032"/><polygon points="1043.5,702.4 1338,601.6 1338,604.1 1043.5,707.5" fill="#ee6862" opacity="0.62"/><polygon points="1043.5,707.5 1338,604.1 1338,606.3 1043.5,712.1" fill="#e84644" opacity="0.55"/><polygon points="1043.5,721.2 1338,610.6 1338,614 1043.5,728.3" fill="#c02224" opacity="0.62"/><polygon points="1043.5,730.8 1338,615.2 1338,617.7 1043.5,735.9" fill="#ee6862" opacity="0.62"/><polygon points="1043.5,735.9 1338,617.7 1338,619.9 1043.5,740.5" fill="#e84644" opacity="0.55"/><polygon points="1043.5,749.6 1338,624.2 1338,627.6 1043.5,756.7" fill="#c02224" opacity="0.62"/><polygon points="1043.5,759.2 1338,628.8 1338,631.3 1043.5,764.3" fill="#ee6862" opacity="0.62"/><polygon points="1043.5,764.3 1338,631.3 1338,633.5 1043.5,768.9" fill="#e84644" opacity="0.55"/><polygon points="1043.5,778 1338,637.8 1338,641.2 1043.5,785.1" fill="#c02224" opacity="0.62"/><polygon points="1043.5,787.6 1338,642.4 1338,644.9 1043.5,792.7" fill="#ee6862" opacity="0.62"/><polygon points="1043.5,792.7 1338,644.9 1338,647.1 1043.5,797.3" fill="#e84644" opacity="0.55"/><polygon points="1043.5,806.4 1338,651.4 1338,654.8 1043.5,813.5" fill="#c02224" opacity="0.62"/><polygon points="1043.5,816 1338,656 1338,658.5 1043.5,821.1" fill="#ee6862" opacity="0.62"/><polygon points="1043.5,821.1 1338,658.5 1338,660.7 1043.5,825.7" fill="#e84644" opacity="0.55"/><polygon points="1043.5,834.8 1338,665 1338,668.4 1043.5,841.9" fill="#c02224" opacity="0.62"/><line x1="1043.5" y1="699" x2="1041.5" y2="841" stroke="#f8908a" stroke-width="2.6"/><polygon points="767,344 1040,356.5 1040,471.5 1000,469 950,465 900,461 863,453.5 826,452 810,446 794.5,440.5 780,443 767,450" fill="#f8d8c8"/><polygon points="1040,356.5 1332.7,343.5 1332.7,432 1311,434 1291,430 1274,445 1256,441 1213,444 1170,455 1145,461 1113,466 1080,469 1040,471.5" fill="#f0ae9f"/><g clip-path="url(#k9)"><path d="M721,367.5 C727.5,367.5 733.5,385 746,385 C758.5,385 764.5,367.6 771,367.6 C777.6,367.6 783.6,385.4 796.3,385.4 C809,385.4 815,368.2 821.6,368.2 C828.3,368.2 834.5,386.2 847.3,386.2 C860.1,386.2 866.3,368.9 873,368.9 C879.6,368.9 885.6,386.9 898.2,386.9 C910.9,386.9 916.9,369.5 923.5,369.5 C929.8,369.5 935.6,387.6 947.8,387.6 C959.9,387.6 965.7,370.1 972,370.1 C978.4,370.1 984.2,388.4 996.5,388.4 C1008.8,388.4 1014.6,370.8 1021,370.8 C1027,370.8 1032.5,389 1044,389 C1055.5,389 1061,371 1067,371 C1073,371 1078.5,389 1090,389 C1101.5,389 1107,371 1113,371 L1113,337 L687,324 L721,367.5 Z" fill="url(#epiL22)"/></g><g clip-path="url(#k10)"><path d="M1022,379 C1028.4,379 1034.4,395.4 1046.8,395.4 C1059.1,395.4 1065.1,377.1 1071.5,377.1 C1077.7,377.1 1083.5,391.4 1095.5,391.4 C1107.5,391.4 1113.3,374.1 1119.5,374.1 C1126.4,374.1 1132.8,387.3 1146,387.3 C1159.2,387.3 1165.6,370.9 1172.5,370.9 C1179.7,370.9 1186.2,382.9 1200,382.9 C1213.8,382.9 1220.3,367.5 1227.5,367.5 C1233.6,367.5 1239.2,378.7 1251,378.7 C1262.8,378.7 1268.4,364.6 1274.5,364.6 C1279,364.6 1283.2,375.3 1292,375.3 C1300.8,375.3 1305,362.4 1309.5,362.4 C1312.8,362.4 1315.8,372.9 1322,372.9 C1328.2,372.9 1331.2,361 1334.5,361 C1337.8,361 1340.9,372 1347.2,372 C1353.6,372 1356.7,361 1360,361 L1360,322 L960,337 L1022,379 Z" fill="url(#epiR22)"/></g><polygon points="767,344 1054,331 1332.7,343.5 1040,356.5" fill="#f6d3b9"/><polyline points="767,347 1040,360" fill="none" stroke="#e6a184" stroke-width="4" opacity="0.75"/><polyline points="1040,359.5 1332.7,345.5" fill="none" stroke="#d2642f" stroke-width="3" opacity="0.75"/><line x1="768" y1="345" x2="768" y2="444" stroke="#ecb39a" stroke-width="3" opacity="0.8"/><path d="M767,444C769.2,442.8 775.4,438.6 780,437C784.6,435.4 789.5,434 794.5,434.5C799.5,435 804.8,438.1 810,440C815.2,441.9 817.2,444.8 826,446C834.8,447.2 850.7,446 863,447.5C875.3,449 885.5,453.1 900,455C914.5,456.9 933.3,457.7 950,459C966.7,460.3 985,461.9 1000,463C1015,464.1 1033.3,465.1 1040,465.5 L1043.5,702.5 L1011,693.7 L981,687 L950,677.3 L921,669.5 L886,660 L856,651.9 L833,645.7 L796,635.8 L766,627.7Z" fill="#ba8a26"/><path d="M1040,465.5C1046.7,465.1 1067.8,463.9 1080,463C1092.2,462.1 1102.2,461.3 1113,460C1123.8,458.7 1135.5,456.8 1145,455C1154.5,453.2 1158.7,451.8 1170,449C1181.3,446.2 1198.7,440.3 1213,438C1227.3,435.7 1245.8,434.8 1256,435C1266.2,435.2 1268.2,440.8 1274,439C1279.8,437.2 1284.8,425.8 1291,424C1297.2,422.2 1304,427.7 1311,428C1318,428.3 1329.1,426.3 1332.7,426 L1332.7,606.8 L1043.5,703 Z" fill="#a26c14"/><g clip-path="url(#k11)"><use href="#d2" x="861" y="610.4"/><use href="#b0" x="930" y="578.5"/><use href="#b0" x="909.7" y="639.8"/><use href="#d0" x="831.5" y="593.6"/><use href="#c1" x="802.9" y="624.4"/><use href="#b1" x="1041.2" y="598.1"/><use href="#a1" x="1044.4" y="525.6"/><use href="#d2" x="873.6" y="552.1"/><use href="#a1" x="776.5" y="492.8"/><use href="#d1" x="794.6" y="435.8"/><use href="#d0" x="933.2" y="570.6"/><use href="#a1" x="1015.6" y="639.1"/><use href="#d1" x="981.1" y="519.9"/><use href="#b2" x="815.1" y="474.4"/><use href="#b1" x="928.8" y="495.6"/><use href="#d1" x="883.9" y="510.2"/><use href="#a1" x="1041.9" y="625.9"/><use href="#c2" x="943.1" y="672.7"/><use href="#a1" x="785.9" y="506.1"/><use href="#b1" x="804.1" y="477.2"/><use href="#a0" x="1047.7" y="494.1"/><use href="#b1" x="898.8" y="505.2"/><use href="#a2" x="1032.6" y="518.2"/><use href="#b1" x="949.7" y="652.9"/><use href="#d0" x="887.3" y="478.7"/><use href="#d2" x="798.6" y="571.1"/><use href="#d1" x="913.7" y="551.7"/><use href="#a2" x="1010.9" y="609.5"/><use href="#b0" x="986.6" y="508.3"/><use href="#a1" x="1026.1" y="699.8"/><use href="#d2" x="881.9" y="655.6"/><use href="#c0" x="828.6" y="524.9"/><use href="#b2" x="996.3" y="494.7"/><use href="#a1" x="1024.7" y="566.3"/><use href="#a0" x="775.7" y="525.1"/><use href="#d1" x="939.1" y="629.7"/><use href="#c0" x="1014" y="494.2"/><use href="#a0" x="978" y="466.3"/><use href="#d1" x="848" y="569.1"/><use href="#b2" x="932.3" y="534.3"/><use href="#a1" x="871" y="595.2"/><use href="#c0" x="965.3" y="585.3"/><use href="#b1" x="869.3" y="538.9"/><use href="#d1" x="958.6" y="525"/><use href="#c1" x="781.4" y="597.6"/><use href="#d2" x="999.4" y="585.8"/><use href="#c1" x="761" y="525.4"/><use href="#a2" x="852.2" y="629"/><use href="#d1" x="968.7" y="507.9"/><use href="#a0" x="821.6" y="611.1"/><use href="#d1" x="1024.5" y="539.3"/><use href="#b0" x="1003.5" y="539.3"/><use href="#d2" x="880.6" y="585"/><use href="#a0" x="799.1" y="506"/><use href="#c1" x="1003.9" y="564.5"/><use href="#c1" x="835.9" y="477.8"/><use href="#a1" x="1048.4" y="670.4"/><use href="#c1" x="973.8" y="654.9"/><use href="#d2" x="920.8" y="630.7"/><use href="#b0" x="891.2" y="461.7"/><use href="#b0" x="772.3" y="608.3"/><use href="#c2" x="866" y="450.6"/><use href="#b2" x="1044.8" y="639.4"/><use href="#a1" x="865.6" y="569.5"/><use href="#c1" x="920" y="448.7"/><use href="#c1" x="781.4" y="570.2"/><use href="#b2" x="1017.1" y="600.2"/><use href="#a1" x="1008.4" y="674"/><use href="#a0" x="977.9" y="616.2"/><use href="#d1" x="929.5" y="554.5"/><use href="#a1" x="940.8" y="463.2"/><use href="#a1" x="781.8" y="629.7"/><use href="#a2" x="969.5" y="475.6"/><use href="#a2" x="1031.2" y="638"/><use href="#d0" x="923.9" y="519.3"/><use href="#a0" x="879.4" y="521.2"/><use href="#d1" x="842" y="491.3"/><use href="#a1" x="976.8" y="552.9"/><use href="#a1" x="808.7" y="615.1"/><use href="#d1" x="1004.8" y="475.8"/><use href="#a2" x="795.3" y="489.9"/><use href="#b1" x="1024" y="481.3"/><use href="#b1" x="818.4" y="593.3"/><use href="#d0" x="808" y="641"/><use href="#a1" x="980.7" y="580.2"/><use href="#c0" x="1031.5" y="494.4"/><use href="#d1" x="817.5" y="538.7"/><use href="#a0" x="1035.8" y="684.5"/><use href="#d2" x="1004.3" y="596.9"/><use href="#b1" x="961.3" y="610"/><use href="#c1" x="941.6" y="585"/><use href="#a0" x="967" y="566.7"/><use href="#d2" x="980.1" y="642.1"/><use href="#a1" x="784.3" y="538.1"/><use href="#b0" x="774.6" y="550"/><use href="#a0" x="865.8" y="508.3"/><use href="#a0" x="851.2" y="473.7"/><use href="#a1" x="964.4" y="668.8"/><use href="#d1" x="993.1" y="554.1"/><use href="#d1" x="798" y="598.4"/><use href="#a0" x="873.1" y="613"/><use href="#c2" x="876.5" y="638.1"/><use href="#b0" x="891.6" y="581.5"/><use href="#a1" x="960.2" y="461.4"/><use href="#d0" x="868" y="475.4"/><use href="#a2" x="857.5" y="638.2"/><use href="#b0" x="892.7" y="492.2"/><use href="#d2" x="1033.5" y="554.5"/><use href="#b1" x="765.9" y="565.5"/><use href="#c0" x="845.1" y="607.8"/><use href="#b1" x="1022.5" y="627.8"/><use href="#b2" x="820" y="504.1"/><use href="#a0" x="766.7" y="627.3"/><use href="#b2" x="1044.2" y="700.9"/><use href="#d2" x="847.4" y="654.1"/><use href="#b2" x="932.1" y="593.5"/><use href="#c1" x="987.8" y="625.2"/><use href="#d0" x="848" y="508"/><use href="#c1" x="861.6" y="490.6"/><use href="#a1" x="1036.7" y="476.4"/><use href="#c2" x="1017.9" y="690.6"/><use href="#b1" x="946" y="641.3"/><use href="#b2" x="957.1" y="685.3"/><use href="#a2" x="784.4" y="449.8"/><use href="#c2" x="809.6" y="432.9"/><use href="#b2" x="987.5" y="656.5"/><use href="#b2" x="783.6" y="476.8"/><use href="#c0" x="842.6" y="522.2"/><use href="#a1" x="1024.6" y="659.2"/><use href="#b1" x="946.8" y="608.8"/><use href="#c2" x="842.7" y="552.9"/><use href="#a1" x="985.9" y="481"/><use href="#d2" x="889.7" y="522.6"/><use href="#d1" x="999.1" y="462.5"/><use href="#c2" x="990" y="688.2"/><use href="#d1" x="1008.6" y="553.1"/><use href="#a0" x="852.5" y="533.7"/><use href="#d1" x="961.3" y="495.3"/><use href="#a1" x="905.2" y="477.2"/><use href="#a0" x="855.9" y="466.2"/><use href="#b2" x="1005.6" y="652.9"/><use href="#b1" x="859.6" y="586.1"/><use href="#a1" x="834" y="508.6"/><use href="#d0" x="1040.7" y="539.3"/><use href="#a2" x="984.9" y="564.7"/><use href="#b0" x="796.6" y="539.3"/><use href="#b2" x="1031.3" y="583"/><use href="#b1" x="842.2" y="461.3"/><use href="#a2" x="838.2" y="444.6"/><use href="#a2" x="916.7" y="508.9"/><use href="#c1" x="904.3" y="599.3"/><use href="#b0" x="933.9" y="473.8"/><use href="#a0" x="950" y="476.8"/><use href="#c0" x="772.6" y="583.6"/><use href="#d1" x="883.5" y="537.7"/><use href="#b1" x="952" y="510.6"/><use href="#a0" x="861.6" y="554.9"/><use href="#a0" x="901.6" y="539.1"/><use href="#a0" x="801.5" y="450.5"/><use href="#a1" x="879.6" y="459.5"/><use href="#a1" x="945.2" y="523.2"/><use href="#c0" x="1012.2" y="699.7"/><use href="#a1" x="955.6" y="595.1"/><use href="#a1" x="891.1" y="610.6"/><use href="#a2" x="868.9" y="659.4"/><use href="#c0" x="761.3" y="463.7"/><use href="#b2" x="932.8" y="506.7"/><use href="#c0" x="810.5" y="523.1"/><use href="#b1" x="772.9" y="436.6"/><use href="#b2" x="769.5" y="475.9"/><use href="#d2" x="805.3" y="463.4"/><use href="#d1" x="1042.3" y="582.8"/><use href="#b1" x="822.3" y="584.7"/><use href="#b0" x="827.7" y="552.7"/><use href="#d2" x="849.2" y="446.4"/><use href="#d2" x="1005.3" y="627"/><use href="#c2" x="1005.5" y="684.3"/><use href="#b2" x="950.8" y="628.5"/><use href="#b1" x="927.3" y="611.6"/><use href="#d1" x="906.9" y="491.6"/><use href="#a1" x="824.5" y="640.1"/><use href="#d1" x="1003.3" y="504.2"/><use href="#c1" x="881.1" y="571.2"/><use href="#c1" x="845.8" y="644.7"/><use href="#d0" x="871.2" y="623.8"/><use href="#a1" x="862.8" y="526.2"/><use href="#b1" x="907.8" y="609.6"/><use href="#d1" x="992.1" y="668.3"/><use href="#c2" x="917.6" y="474"/><use href="#a2" x="947.4" y="554.5"/><use href="#d1" x="788.7" y="608.7"/><use href="#c2" x="791.8" y="555"/><use href="#b1" x="972.5" y="539.8"/><use href="#a0" x="764.7" y="534.8"/><use href="#d2" x="1050.1" y="611.9"/><use href="#d1" x="993.1" y="643.4"/><use href="#a1" x="1015.3" y="465.5"/><use href="#d1" x="1049.2" y="549.2"/><use href="#d1" x="891" y="639.5"/><use href="#d1" x="767.5" y="508.9"/><use href="#a2" x="852.7" y="600.5"/><use href="#a0" x="1041.1" y="660"/><use href="#a1" x="940.8" y="494.4"/><use href="#a1" x="1027.6" y="614.7"/><use href="#c0" x="815.6" y="629.3"/><use href="#c2" x="934.7" y="659.8"/><use href="#b2" x="837.3" y="629.5"/><use href="#d2" x="974.2" y="684.6"/><use href="#a1" x="984.3" y="594.6"/><use href="#d0" x="967.2" y="623"/><use href="#b1" x="880.8" y="445.5"/><use href="#d0" x="989.4" y="537"/><use href="#b0" x="808" y="553.3"/><use href="#d1" x="818.8" y="565.2"/><use href="#a0" x="827.8" y="458.2"/><use href="#c1" x="816.4" y="444.5"/><use href="#a0" x="1041.2" y="570.2"/><use href="#d0" x="924" y="465.7"/><use href="#a2" x="963.7" y="556"/><use href="#b0" x="908.5" y="671.6"/><use href="#a1" x="791.8" y="583.1"/><use href="#a1" x="759.3" y="489.7"/><use href="#a2" x="1032.4" y="465.1"/><use href="#a1" x="981.5" y="492.7"/><use href="#d1" x="831.2" y="569.9"/><use href="#a2" x="928.7" y="642.3"/><use href="#b1" x="966.5" y="596.1"/><use href="#a0" x="995.2" y="522.3"/><use href="#a2" x="918" y="657.9"/><use href="#b0" x="925.2" y="671.5"/><use href="#c2" x="833.2" y="535.8"/><use href="#d2" x="794.3" y="524.3"/><use href="#a2" x="962.1" y="644.8"/><use href="#b0" x="951.5" y="534.8"/><use href="#a1" x="939.2" y="451.2"/><use href="#a2" x="770.3" y="466"/><use href="#a2" x="953.8" y="564.2"/><use href="#b2" x="884.9" y="629.1"/><use href="#b1" x="764.6" y="444.8"/><use href="#b1" x="765.9" y="597.4"/><use href="#b1" x="826.4" y="496"/><use href="#a1" x="919.8" y="538.4"/><use href="#b2" x="920.5" y="593.1"/><use href="#a1" x="1015.8" y="582"/><use href="#b2" x="841.9" y="578.4"/><use href="#c1" x="903.7" y="656.8"/><use href="#a1" x="1022.4" y="507.2"/><use href="#c1" x="1010.6" y="523.3"/><use href="#b0" x="883.7" y="597.2"/><use href="#d2" x="977" y="673.6"/><use href="#a1" x="996.3" y="607.8"/><use href="#a1" x="892" y="552.3"/><use href="#b2" x="910.1" y="458.6"/><use href="#c1" x="1043" y="463.4"/><use href="#d2" x="872.6" y="492.3"/><use href="#a0" x="809.8" y="580.2"/><use href="#d1" x="903.1" y="563.3"/><use href="#a2" x="912.1" y="578.2"/><use href="#b1" x="916.7" y="570.1"/><use href="#d0" x="1031.5" y="674"/><use href="#d0" x="911.3" y="525.2"/><use href="#c2" x="793.7" y="462.4"/><use href="#d0" x="1037.7" y="508.3"/><use href="#c2" x="761.2" y="553.6"/><use href="#a0" x="806.5" y="491.9"/><use href="#a1" x="899.8" y="628.6"/><circle cx="869.5" cy="615.4" r="5.6" fill="#96660f" opacity="0.6"/><circle cx="785" cy="497.8" r="4.6" fill="#96660f" opacity="0.6"/><circle cx="1050.4" cy="630.9" r="4.6" fill="#96660f" opacity="0.6"/><circle cx="895.8" cy="483.7" r="3.6" fill="#96660f" opacity="0.6"/><circle cx="1004.8" cy="499.7" r="5.6" fill="#96660f" opacity="0.6"/><circle cx="879.5" cy="600.2" r="4.6" fill="#96660f" opacity="0.6"/><circle cx="977.2" cy="512.9" r="4.6" fill="#96660f" opacity="0.6"/><circle cx="1056.9" cy="675.4" r="4.6" fill="#96660f" opacity="0.6"/><circle cx="928.5" cy="453.7" r="4.6" fill="#96660f" opacity="0.6"/><circle cx="978" cy="480.6" r="5.6" fill="#96660f" opacity="0.6"/><circle cx="803.8" cy="494.9" r="5.6" fill="#96660f" opacity="0.6"/><circle cx="1012.8" cy="601.9" r="5.6" fill="#96660f" opacity="0.6"/><circle cx="859.7" cy="478.7" r="3.6" fill="#96660f" opacity="0.6"/><circle cx="876.5" cy="480.4" r="3.6" fill="#96660f" opacity="0.6"/><circle cx="775.2" cy="632.3" r="3.6" fill="#96660f" opacity="0.6"/><circle cx="1026.4" cy="695.6" r="5.6" fill="#96660f" opacity="0.6"/><circle cx="1033.1" cy="664.2" r="4.6" fill="#96660f" opacity="0.6"/><circle cx="861" cy="538.7" r="3.6" fill="#96660f" opacity="0.6"/><circle cx="993.4" cy="569.7" r="5.6" fill="#96660f" opacity="0.6"/><circle cx="958.5" cy="481.8" r="3.6" fill="#96660f" opacity="0.6"/><circle cx="953.7" cy="528.2" r="4.6" fill="#96660f" opacity="0.6"/><circle cx="781.4" cy="441.6" r="4.6" fill="#96660f" opacity="0.6"/><circle cx="1014" cy="689.3" r="5.6" fill="#96660f" opacity="0.6"/><circle cx="879.7" cy="628.8" r="3.6" fill="#96660f" opacity="0.6"/><circle cx="981" cy="544.8" r="4.6" fill="#96660f" opacity="0.6"/><circle cx="861.2" cy="605.5" r="5.6" fill="#96660f" opacity="0.6"/><circle cx="992.8" cy="599.6" r="4.6" fill="#96660f" opacity="0.6"/><circle cx="1049.7" cy="575.2" r="3.6" fill="#96660f" opacity="0.6"/><circle cx="839.7" cy="574.9" r="4.6" fill="#96660f" opacity="0.6"/><circle cx="970.6" cy="649.8" r="5.6" fill="#96660f" opacity="0.6"/><circle cx="834.9" cy="501" r="4.6" fill="#96660f" opacity="0.6"/><circle cx="892.2" cy="602.2" r="3.6" fill="#96660f" opacity="0.6"/><circle cx="911.6" cy="568.3" r="4.6" fill="#96660f" opacity="0.6"/><circle cx="815" cy="496.9" r="3.6" fill="#96660f" opacity="0.6"/></g><g clip-path="url(#k12)"><use href="#b2" x="1227.7" y="464.9"/><use href="#c0" x="1196.5" y="612.3"/><use href="#b1" x="1068.1" y="570.7"/><use href="#c0" x="1059.4" y="498.4"/><use href="#b0" x="1084.8" y="568.5"/><use href="#c1" x="1143.3" y="585.5"/><use href="#c2" x="1161.9" y="558.1"/><use href="#b1" x="1340.7" y="569.3"/><use href="#c2" x="1289.2" y="603.2"/><use href="#c0" x="1199.2" y="510.4"/><use href="#c0" x="1210.5" y="617.7"/><use href="#e0" x="1111.6" y="646.2"/><use href="#b1" x="1124.4" y="496.8"/><use href="#b2" x="1249.8" y="514.8"/><use href="#c1" x="1050.5" y="629.2"/><use href="#c0" x="1230.8" y="440.5"/><use href="#b2" x="1077.1" y="675.1"/><use href="#b1" x="1134.2" y="628.3"/><use href="#b2" x="1233.9" y="452.9"/><use href="#b1" x="1121.4" y="582.5"/><use href="#c0" x="1246" y="439.3"/><use href="#c1" x="1269.2" y="605.7"/><use href="#c1" x="1047.7" y="569.5"/><use href="#b1" x="1065.5" y="635.2"/><use href="#b2" x="1313.2" y="527.8"/><use href="#b0" x="1251.3" y="479.1"/><use href="#c1" x="1042.9" y="523.5"/><use href="#c1" x="1049.3" y="603.2"/><use href="#c0" x="1316.1" y="589"/><use href="#c1" x="1038.1" y="676.3"/><use href="#c2" x="1088.6" y="615.7"/><use href="#e1" x="1076.5" y="499.2"/><use href="#a1" x="1186.2" y="631.5"/><use href="#b1" x="1298.9" y="463.2"/><use href="#b0" x="1080.8" y="544.4"/><use href="#c1" x="1087.8" y="522.9"/><use href="#b1" x="1217.1" y="509.4"/><use href="#c0" x="1099.2" y="574"/><use href="#c1" x="1314.4" y="495.4"/><use href="#b1" x="1210.8" y="642.3"/><use href="#a0" x="1243.2" y="616.1"/><use href="#b1" x="1040.7" y="616.2"/><use href="#a0" x="1118" y="661.6"/><use href="#e0" x="1267.7" y="575.1"/><use href="#c1" x="1068.9" y="510.3"/><use href="#c1" x="1178.9" y="496.9"/><use href="#c2" x="1250.5" y="450.9"/><use href="#c0" x="1322.8" y="543.3"/><use href="#c1" x="1214.7" y="452.7"/><use href="#c1" x="1299.7" y="479.7"/><use href="#c1" x="1095.7" y="542"/><use href="#b1" x="1296.1" y="586.4"/><use href="#b2" x="1326.3" y="497.3"/><use href="#b1" x="1302" y="572.2"/><use href="#c0" x="1180.9" y="481.5"/><use href="#b1" x="1257.8" y="440.1"/><use href="#b2" x="1139.3" y="675.1"/><use href="#c1" x="1324.2" y="598"/><use href="#b1" x="1281.1" y="589"/><use href="#c1" x="1290.5" y="452.3"/><use href="#a0" x="1271.3" y="631.1"/><use href="#c0" x="1245.9" y="559.5"/><use href="#c0" x="1272.5" y="450.5"/><use href="#c2" x="1059" y="553.6"/><use href="#b1" x="1237.6" y="603.7"/><use href="#b1" x="1061.5" y="689"/><use href="#c2" x="1264.8" y="620.4"/><use href="#b2" x="1213.3" y="470.5"/><use href="#e0" x="1220" y="634.9"/><use href="#c1" x="1102" y="507.8"/><use href="#a1" x="1193.9" y="530.5"/><use href="#c0" x="1071.6" y="646.9"/><use href="#c1" x="1116.9" y="511.5"/><use href="#c0" x="1190.1" y="467.5"/><use href="#a1" x="1167.1" y="660.2"/><use href="#a1" x="1082.7" y="598.4"/><use href="#b0" x="1155.9" y="586.9"/><use href="#c1" x="1104.9" y="614.5"/><use href="#a0" x="1166.5" y="483.3"/><use href="#e2" x="1176.1" y="525.1"/><use href="#c1" x="1281.2" y="469.3"/><use href="#b1" x="1143.5" y="464"/><use href="#e1" x="1110.2" y="466.9"/><use href="#b2" x="1207.1" y="438.3"/><use href="#e0" x="1076.9" y="527.5"/><use href="#e2" x="1173.5" y="469.2"/><use href="#c0" x="1154.2" y="599.2"/><use href="#c2" x="1232.2" y="568.1"/><use href="#b2" x="1288" y="480.8"/><use href="#c1" x="1080.5" y="479.7"/><use href="#b0" x="1126.3" y="529.4"/><use href="#c2" x="1057.8" y="612.5"/><use href="#c1" x="1298.6" y="435"/><use href="#b1" x="1136.3" y="509.4"/><use href="#a1" x="1163.3" y="512.9"/><use href="#c1" x="1109.6" y="499.3"/><use href="#b1" x="1327.9" y="585.9"/><use href="#c2" x="1181.3" y="602.4"/><use href="#b0" x="1308.2" y="438.9"/><use href="#c1" x="1208.2" y="492.9"/><use href="#c1" x="1067.1" y="455.9"/><use href="#b1" x="1070.8" y="617.6"/><use href="#e1" x="1243.8" y="530.2"/><use href="#b1" x="1260.3" y="494.1"/><use href="#b2" x="1270.3" y="508.5"/><use href="#c0" x="1061.7" y="544.2"/><use href="#c1" x="1039.4" y="647.6"/><use href="#b1" x="1052.9" y="586.8"/><use href="#b2" x="1094.1" y="552.5"/><use href="#c0" x="1260.1" y="586.9"/><use href="#c1" x="1315.1" y="558.5"/><use href="#c0" x="1297.5" y="615.9"/><use href="#e1" x="1149.5" y="483.1"/><use href="#c1" x="1230.8" y="559.6"/><use href="#c2" x="1052.7" y="661.5"/><use href="#b2" x="1220.7" y="599.8"/><use href="#b1" x="1150.5" y="513.3"/><use href="#c0" x="1301" y="511.3"/><use href="#c2" x="1157.9" y="530.4"/><use href="#b1" x="1069.3" y="662.1"/><use href="#c1" x="1339.8" y="449"/><use href="#b2" x="1133.8" y="599.9"/><use href="#b0" x="1038.4" y="500"/><use href="#b1" x="1264.1" y="529.6"/><use href="#a2" x="1138.9" y="526.8"/><use href="#e1" x="1183" y="539.9"/><use href="#c2" x="1282.9" y="511.2"/><use href="#b2" x="1048.6" y="482.7"/><use href="#c0" x="1122.7" y="616.7"/><use href="#b0" x="1123.8" y="557.5"/><use href="#a1" x="1109" y="529.8"/><use href="#c1" x="1079" y="690.6"/><use href="#e2" x="1166.7" y="634.1"/><use href="#c1" x="1091.5" y="587.2"/><use href="#e0" x="1175.9" y="586.5"/><use href="#b1" x="1306.1" y="425.5"/><use href="#c1" x="1286.8" y="540.6"/><use href="#c2" x="1279.9" y="496.5"/><use href="#e2" x="1196.4" y="649"/><use href="#b2" x="1148.6" y="567.5"/><use href="#c0" x="1225.6" y="586.6"/><use href="#c2" x="1073.3" y="556.4"/><use href="#a2" x="1135.4" y="661.8"/><use href="#a2" x="1235.6" y="634.5"/><use href="#c1" x="1220.8" y="572.5"/><use href="#b1" x="1063.5" y="603.3"/><use href="#c2" x="1323.4" y="482.9"/><use href="#b1" x="1115.7" y="569.4"/><use href="#c0" x="1288.9" y="570.2"/><use href="#c2" x="1078" y="585.8"/><use href="#b1" x="1336.3" y="605.4"/><use href="#c2" x="1305.1" y="453.6"/><use href="#b1" x="1057.5" y="524.9"/><use href="#b2" x="1090.4" y="465.5"/><use href="#c1" x="1279.3" y="619.6"/><use href="#e2" x="1307" y="543"/><use href="#c2" x="1259.5" y="467.5"/><use href="#a0" x="1204.2" y="633.7"/><use href="#b1" x="1153.9" y="541.2"/><use href="#c1" x="1263.7" y="554.7"/><use href="#b1" x="1160.8" y="465.5"/><use href="#e1" x="1223.7" y="527.6"/><use href="#b1" x="1328" y="437.8"/><use href="#c1" x="1158.2" y="492.9"/><use href="#b1" x="1118.3" y="631.2"/><use href="#c1" x="1038.3" y="470.3"/><use href="#c1" x="1235.5" y="508.8"/><use href="#b2" x="1139.3" y="619.2"/><use href="#c1" x="1037.7" y="586.1"/><use href="#c1" x="1122.6" y="677.9"/><use href="#c1" x="1217.9" y="484.6"/><use href="#b1" x="1255.9" y="570.1"/><use href="#c1" x="1314.6" y="619.8"/><use href="#b1" x="1182.5" y="447.7"/><use href="#b0" x="1094.9" y="674.5"/><use href="#c2" x="1201.1" y="453.5"/><use href="#c1" x="1119.9" y="454.6"/><use href="#c2" x="1254.8" y="541.7"/><use href="#a0" x="1208" y="530.2"/><use href="#b1" x="1099.8" y="664.9"/><use href="#b0" x="1216" y="545.5"/><use href="#b1" x="1091.1" y="642.9"/><use href="#e1" x="1195.7" y="498.1"/><use href="#a1" x="1248" y="464.1"/><use href="#b1" x="1222.9" y="643.7"/><use href="#b1" x="1204.3" y="602.3"/><use href="#c1" x="1254.1" y="602.7"/><use href="#c0" x="1164.1" y="452.1"/><use href="#c1" x="1197.6" y="483.4"/><use href="#c0" x="1210.9" y="582.8"/><use href="#c1" x="1181.1" y="569.1"/><use href="#e0" x="1035" y="662.5"/><use href="#b2" x="1101.5" y="600.2"/><use href="#e2" x="1118.5" y="543.6"/><use href="#b0" x="1176.4" y="617.6"/><use href="#b2" x="1171.1" y="570.3"/><use href="#c2" x="1059.5" y="466.3"/><use href="#e2" x="1243.5" y="493.2"/><use href="#e2" x="1109" y="672.7"/><use href="#b1" x="1298.8" y="556.2"/><use href="#e1" x="1098" y="483.4"/><use href="#c1" x="1077" y="467.4"/><use href="#a0" x="1183.7" y="509.7"/><use href="#e1" x="1050.9" y="512.5"/><use href="#b1" x="1246.9" y="586.5"/><use href="#b1" x="1128.9" y="468.6"/><use href="#c0" x="1116.7" y="479"/><use href="#c0" x="1060.2" y="643.9"/><use href="#b0" x="1196.7" y="554.1"/><use href="#e1" x="1175.7" y="643.5"/><use href="#e1" x="1275.1" y="440.2"/><use href="#c1" x="1314.4" y="463.9"/><use href="#a0" x="1236.2" y="483.2"/><use href="#b0" x="1336.9" y="513.8"/><use href="#b1" x="1254.5" y="627.8"/><use href="#c2" x="1229" y="500.2"/><use href="#c2" x="1230.5" y="615.5"/><use href="#b1" x="1196.9" y="584.3"/><use href="#b1" x="1043.8" y="560.2"/><use href="#a0" x="1159" y="615.1"/><use href="#b2" x="1163.9" y="537.6"/><use href="#c0" x="1152.9" y="450.7"/><use href="#c2" x="1178.4" y="558.4"/><use href="#b2" x="1298.8" y="528.5"/><use href="#b0" x="1139.4" y="649.6"/><use href="#e1" x="1085.2" y="627.9"/><use href="#c2" x="1138.7" y="499.6"/><use href="#a2" x="1100" y="453.3"/><use href="#c2" x="1306.6" y="598.1"/><use href="#a1" x="1054.4" y="675.8"/><use href="#e1" x="1045.2" y="692.9"/><use href="#a1" x="1238.9" y="539.6"/><use href="#b1" x="1171.2" y="599"/><use href="#e0" x="1162" y="644.1"/><use href="#c2" x="1274.2" y="556.5"/><use href="#c2" x="1061.4" y="481.4"/><use href="#c0" x="1141.7" y="555.3"/><use href="#b2" x="1280" y="523"/><use href="#e1" x="1319.8" y="514.2"/><use href="#c1" x="1133.5" y="483.4"/><use href="#e2" x="1112.6" y="603.4"/><use href="#b2" x="1049.5" y="538.1"/><use href="#b0" x="1084.6" y="508.4"/><use href="#b0" x="1328.3" y="613.7"/><use href="#e0" x="1100.7" y="627.8"/><use href="#c1" x="1325.7" y="558.2"/><use href="#c0" x="1125.2" y="642.3"/><use href="#e1" x="1294.1" y="498.8"/><use href="#b0" x="1106.8" y="584.2"/><use href="#c1" x="1086.2" y="657.6"/><use href="#a2" x="1211.1" y="553.2"/><use href="#b0" x="1283" y="425.2"/><use href="#c1" x="1336.3" y="537.8"/><use href="#c1" x="1266.3" y="479"/><use href="#b1" x="1101.3" y="689.9"/><use href="#b1" x="1152.5" y="658.7"/><use href="#b2" x="1154.1" y="628"/><use href="#b1" x="1137.5" y="569.4"/><use href="#c2" x="1089.3" y="497.5"/><use href="#c1" x="1324.1" y="451.6"/><use href="#c2" x="1327.2" y="470.1"/><use href="#b2" x="1135.4" y="543.1"/><use href="#b1" x="1035.5" y="543"/><use href="#c1" x="1111.1" y="557.8"/><use href="#b2" x="1328.5" y="523.6"/><use href="#b1" x="1200" y="567.4"/><use href="#b0" x="1197.4" y="539.4"/><use href="#e2" x="1134.6" y="448.8"/><use href="#b2" x="1320.3" y="568.2"/><use href="#a1" x="1267.7" y="544.3"/><circle cx="1236.2" cy="469.9" r="5.6" fill="#86540c" opacity="0.6"/><circle cx="1349.2" cy="574.3" r="4.6" fill="#86540c" opacity="0.6"/><circle cx="1059" cy="634.2" r="4.6" fill="#86540c" opacity="0.6"/><circle cx="1277.7" cy="610.7" r="4.6" fill="#86540c" opacity="0.6"/><circle cx="1324.6" cy="594" r="3.6" fill="#86540c" opacity="0.6"/><circle cx="1096.3" cy="527.9" r="4.6" fill="#86540c" opacity="0.6"/><circle cx="1126.5" cy="666.6" r="3.6" fill="#86540c" opacity="0.6"/><circle cx="1308.2" cy="484.7" r="4.6" fill="#86540c" opacity="0.6"/><circle cx="1147.8" cy="680.1" r="5.6" fill="#86540c" opacity="0.6"/><circle cx="1067.5" cy="558.6" r="5.6" fill="#86540c" opacity="0.6"/><circle cx="1202.4" cy="535.5" r="4.6" fill="#86540c" opacity="0.6"/><circle cx="1113.4" cy="619.5" r="4.6" fill="#86540c" opacity="0.6"/><circle cx="1085.4" cy="532.5" r="3.6" fill="#86540c" opacity="0.6"/><circle cx="1066.3" cy="617.5" r="5.6" fill="#86540c" opacity="0.6"/><circle cx="1316.7" cy="443.9" r="3.6" fill="#86540c" opacity="0.6"/><circle cx="1070.2" cy="549.2" r="3.6" fill="#86540c" opacity="0.6"/><circle cx="1158" cy="488.1" r="4.6" fill="#86540c" opacity="0.6"/><circle cx="1077.8" cy="667.1" r="4.6" fill="#86540c" opacity="0.6"/><circle cx="1291.4" cy="516.2" r="5.6" fill="#86540c" opacity="0.6"/><circle cx="1100" cy="592.2" r="4.6" fill="#86540c" opacity="0.6"/><circle cx="1234.1" cy="591.6" r="3.6" fill="#86540c" opacity="0.6"/><circle cx="1124.2" cy="574.4" r="4.6" fill="#86540c" opacity="0.6"/><circle cx="1287.8" cy="624.6" r="4.6" fill="#86540c" opacity="0.6"/><circle cx="1232.2" cy="532.6" r="4.6" fill="#86540c" opacity="0.6"/><circle cx="1046.2" cy="591.1" r="4.6" fill="#86540c" opacity="0.6"/><circle cx="1209.6" cy="458.5" r="5.6" fill="#86540c" opacity="0.6"/><circle cx="1204.2" cy="503.1" r="4.6" fill="#86540c" opacity="0.6"/><circle cx="1219.4" cy="587.8" r="3.6" fill="#86540c" opacity="0.6"/><circle cx="1068" cy="471.3" r="5.6" fill="#86540c" opacity="0.6"/><circle cx="1059.4" cy="517.5" r="4.6" fill="#86540c" opacity="0.6"/><circle cx="1283.6" cy="445.2" r="4.6" fill="#86540c" opacity="0.6"/><circle cx="1205.4" cy="589.3" r="4.6" fill="#86540c" opacity="0.6"/><circle cx="1147.9" cy="654.6" r="3.6" fill="#86540c" opacity="0.6"/><circle cx="1247.4" cy="544.6" r="4.6" fill="#86540c" opacity="0.6"/><circle cx="1328.3" cy="519.2" r="4.6" fill="#86540c" opacity="0.6"/><circle cx="1334.2" cy="563.2" r="4.6" fill="#86540c" opacity="0.6"/><circle cx="1344.8" cy="542.8" r="4.6" fill="#86540c" opacity="0.6"/><circle cx="1332.6" cy="456.6" r="4.6" fill="#86540c" opacity="0.6"/><circle cx="1205.9" cy="544.4" r="3.6" fill="#86540c" opacity="0.6"/></g><g clip-path="url(#k13)"><use href="#a0" x="772.3" y="445.3"/><use href="#c0" x="787.2" y="438.7"/><use href="#b1" x="800.4" y="442.4"/><use href="#a1" x="814.5" y="447.5"/><use href="#c1" x="827.5" y="449.4"/><use href="#b1" x="840.9" y="452.5"/><use href="#b1" x="855.7" y="450.4"/><use href="#d1" x="868" y="453.5"/><use href="#a1" x="880.1" y="456.6"/><use href="#a0" x="894" y="456.5"/><use href="#a0" x="909.7" y="459.3"/><use href="#d1" x="923.3" y="461.1"/><use href="#a1" x="939.2" y="461.4"/><use href="#a1" x="950.6" y="463.9"/><use href="#a1" x="965.5" y="465.4"/><use href="#a1" x="980.5" y="466.7"/><use href="#a1" x="992.7" y="467.6"/><use href="#d1" x="1008.1" y="467.3"/><use href="#a1" x="1021.7" y="470"/><use href="#b1" x="1034.3" y="469.8"/></g><g clip-path="url(#k14)"><use href="#b1" x="1042.5" y="471.1"/><use href="#c1" x="1054.8" y="469.9"/><use href="#a1" x="1066.5" y="466.6"/><use href="#c1" x="1081.3" y="465.7"/><use href="#b0" x="1092.4" y="466.1"/><use href="#a1" x="1106.5" y="465.2"/><use href="#c1" x="1120.8" y="461.6"/><use href="#b0" x="1135" y="461"/><use href="#b1" x="1146.7" y="459.1"/><use href="#c0" x="1159.5" y="457.1"/><use href="#a1" x="1173.9" y="450.7"/><use href="#c0" x="1189.7" y="449.6"/><use href="#b1" x="1203.4" y="445.5"/><use href="#a0" x="1216.9" y="441.4"/><use href="#a0" x="1229.8" y="442.1"/><use href="#b1" x="1242.4" y="441.2"/><use href="#c0" x="1258" y="438.4"/><use href="#b0" x="1273" y="442.7"/><use href="#c1" x="1286" y="431.1"/><use href="#b1" x="1301.2" y="429.2"/><use href="#c1" x="1312.2" y="433.1"/><use href="#e0" x="1327.5" y="431.6"/></g><path d="M1040,465.5C1046.7,465.1 1067.8,463.9 1080,463C1092.2,462.1 1102.2,461.3 1113,460C1123.8,458.7 1135.5,456.8 1145,455C1154.5,453.2 1158.7,451.8 1170,449C1181.3,446.2 1198.7,440.3 1213,438C1227.3,435.7 1245.8,434.8 1256,435C1266.2,435.2 1268.2,440.8 1274,439C1279.8,437.2 1284.8,425.8 1291,424C1297.2,422.2 1304,427.7 1311,428C1318,428.3 1329.1,426.3 1332.7,426 L1332.7,606.8 L1043.5,703 Z" fill="#d27a1a" opacity="0.13"/></g><g filter="url(#soft)"><polygon points="1487,513 1771.7,597 1771.7,845 1487.5,720" fill="#f2776c"/><g clip-path="url(#k15)"><polygon points="1476.8,490.3 1487.6,489.1 1486.4,509.3 1479.1,501.6" fill="#e32e30"/><polygon points="1479.7,504.6 1486.1,511.5 1491.7,522.7" fill="#e0282a"/><polygon points="1479.4,505.1 1491.3,523.2 1478.3,521.6" fill="#e0282a"/><polygon points="1478.8,524.3 1491.5,525.6 1486.9,533.2" fill="#dd2426"/><polygon points="1478.2,524.6 1486.3,533.5 1480.3,531.9" fill="#dd2426"/><polygon points="1480.3,534.7 1486.7,536.4 1486.7,549.6" fill="#e12b2d"/><polygon points="1479.8,535.3 1486.3,550.3 1478,550" fill="#e12b2d"/><polygon points="1477.8,553.2 1486,553.5 1476.6,567.6" fill="#e32e30"/><polygon points="1486.4,554.1 1485.9,565.6 1477,568.2" fill="#e32e30"/><polygon points="1476.3,570.6 1486.3,567.8 1487.6,581.3 1476.5,579.9" fill="#e32e30"/><polygon points="1476.4,581.5 1487.8,583 1491.8,600.4 1480.1,598.1" fill="#e12b2d"/><polygon points="1480.1,600 1491.5,601.8 1490.1,614.5 1474.7,609.5" fill="#e12b2d"/><polygon points="1475.1,611.4 1488.6,616 1476.9,622.3" fill="#e63434"/><polygon points="1489.4,617 1490.2,632.8 1477.7,623.3" fill="#e63434"/><polygon points="1476,624.4 1490.3,635.1 1488.5,642.4 1477.1,644.7" fill="#e12b2d"/><polygon points="1477.2,646.4 1488.7,644.1 1490.1,661.2 1475.5,660.8" fill="#dd2426"/><polygon points="1475.7,662.2 1490.1,662.8 1492.8,675.2 1480.1,674.9" fill="#e32e30"/><polygon points="1481.3,677.1 1492.3,677.1 1493.1,688.8" fill="#e32e30"/><polygon points="1480.7,677.5 1492.4,689.2 1478.9,685.9" fill="#e32e30"/><polygon points="1477.7,687.5 1493.6,691.4 1490.8,708.4 1472.2,707.7" fill="#e83a38"/><polygon points="1472.3,708.9 1490.5,709.9 1488.7,727.4 1474.5,717.2" fill="#e0282a"/><polygon points="1475,719.6 1487.4,728.7 1479.8,737.2" fill="#e63434"/><polygon points="1488.1,729.5 1491.3,737.1 1480.6,738.1" fill="#e63434"/><polygon points="1488.7,489.1 1505.8,495.8 1509.3,517.2 1487.6,509.8" fill="#e12b2d"/><polygon points="1488.8,511.8 1507.3,518.1 1494.4,523.3" fill="#e83a38"/><polygon points="1508.1,518.6 1505.1,523.1 1495.2,523.9" fill="#e83a38"/><polygon points="1493.8,525.8 1505.6,524.6 1505.1,545.3 1488.6,534.7" fill="#e12b2d"/><polygon points="1488.2,535.8 1504.5,546.4 1504.1,554.4 1488.4,551.5" fill="#e63434"/><polygon points="1489.5,553.9 1503.3,556.5 1502.5,573.2" fill="#e83a38"/><polygon points="1488.8,554.3 1501.8,573.6 1488.5,566.2" fill="#e83a38"/><polygon points="1489.1,569 1502.1,576.3 1505.8,586.5" fill="#e0282a"/><polygon points="1488.5,569.2 1505.3,586.8 1489.9,581.3" fill="#e0282a"/><polygon points="1488.9,582.9 1506.8,589.2 1507.1,607.6 1493.2,600.5" fill="#e12b2d"/><polygon points="1493,602.1 1506.7,609 1510.1,624.7 1491.8,615" fill="#e0282a"/><polygon points="1492.2,617.4 1508.2,625.8 1492.9,633.1" fill="#e0282a"/><polygon points="1508.8,626.8 1505,637.8 1493.5,634.1" fill="#e0282a"/><polygon points="1492.5,636.2 1503.8,639.9 1491,642.8" fill="#dd2426"/><polygon points="1504.6,640.8 1508.7,654.8 1491.8,643.7" fill="#dd2426"/><polygon points="1491.5,645.7 1508.5,656.8 1507.4,666.9" fill="#e83a38"/><polygon points="1490.7,645.9 1506.7,667.1 1492.4,661.1" fill="#e83a38"/><polygon points="1491.5,662.8 1507.9,669.7 1506.1,685.6 1494.6,675.5" fill="#e83a38"/><polygon points="1495.2,678.2 1505.2,687 1506.5,698.6" fill="#e12b2d"/><polygon points="1494.7,678.4 1506.1,698.8 1495.9,690.2" fill="#e12b2d"/><polygon points="1495.7,692.9 1506,701.2 1503.2,707.8" fill="#dd2426"/><polygon points="1495.1,693.2 1502.6,708.1 1492.8,707.9" fill="#dd2426"/><polygon points="1491.9,710.2 1503.4,710.6 1503.8,729 1490,727.5" fill="#e32e30"/><polygon points="1490.9,729.3 1502.6,730.8 1494,736.9" fill="#e12b2d"/><polygon points="1503.3,731.4 1505.7,741.3 1494.7,737.5" fill="#e12b2d"/><polygon points="1507,496 1516.9,505.4 1520.6,520 1510.4,517.1" fill="#e83a38"/><polygon points="1510.7,518.7 1520.2,521.3 1524.1,529.7 1507.4,523.7" fill="#e83a38"/><polygon points="1506.9,524.7 1523.9,530.8 1517.2,541.8 1506.2,545.4" fill="#e12b2d"/><polygon points="1506.8,547.1 1516.4,544.3 1506.4,554" fill="#dd2426"/><polygon points="1517.1,545.1 1522.9,565 1507.2,554.9" fill="#dd2426"/><polygon points="1505.4,556 1523.5,567.4 1518.8,574.3 1504.4,575.2" fill="#e63434"/><polygon points="1505.7,577.4 1518.3,576.8 1519.5,594.6" fill="#e32e30"/><polygon points="1505.2,577.9 1519,595.1 1508.8,587.8" fill="#e32e30"/><polygon points="1508.1,589.5 1520,597.9 1523.6,613.5 1508.4,607.8" fill="#e0282a"/><polygon points="1509.7,610.4 1522.8,615.3 1524.8,627.2" fill="#e32e30"/><polygon points="1509.2,610.8 1524.2,627.7 1512,624.3" fill="#e32e30"/><polygon points="1511.5,626.4 1525.3,629.8 1524.2,637.3 1506.8,638.9" fill="#e32e30"/><polygon points="1507.6,640.8 1523,639.4 1511.3,654.4" fill="#dd2426"/><polygon points="1523.5,640.1 1517.2,656.9 1511.7,655.2" fill="#dd2426"/><polygon points="1511,657.7 1517,659.8 1522.3,670.4 1509.6,668.5" fill="#dd2426"/><polygon points="1509.4,670.1 1522.3,671.7 1518,684.4 1507.3,685.7" fill="#e83a38"/><polygon points="1507.3,687.3 1518,686.2 1519.9,702 1508.3,700.3" fill="#e32e30"/><polygon points="1508.4,701.9 1519.6,703.4 1520.8,715.2 1505,709.5" fill="#e32e30"/><polygon points="1505.3,711.7 1519.3,716.8 1505.7,727.8" fill="#e0282a"/><polygon points="1519.8,717.6 1517.2,729 1506.3,728.6" fill="#e0282a"/><polygon points="1505.2,730.6 1517.4,731.2 1517.9,744.3 1507.9,741.9" fill="#e32e30"/><polygon points="1518.3,505.2 1533,504.6 1535.4,518.6 1521.8,520.1" fill="#e12b2d"/><polygon points="1522,521.6 1535.6,520.1 1535.2,539 1525.8,529.8" fill="#e12b2d"/><polygon points="1525.2,531.4 1534.7,540.1 1532.5,550.2 1518.8,542.5" fill="#e0282a"/><polygon points="1518.4,543.5 1532.3,551.9 1535.7,565.3 1524.9,566.3" fill="#e32e30"/><polygon points="1525.3,568 1535.7,566.8 1538.8,581.2 1520.5,574.8" fill="#e83a38"/><polygon points="1520.1,575.9 1538.6,582.4 1532.7,594.1 1521.4,596.4" fill="#e32e30"/><polygon points="1521.6,597.9 1533,596 1541.1,614.1 1524.8,613.5" fill="#e0282a"/><polygon points="1524.9,615.2 1541.1,615.4 1533.7,632.7 1527,628.6" fill="#dd2426"/><polygon points="1527.1,630.9 1532.8,634.5 1526.5,637.3" fill="#e83a38"/><polygon points="1533.3,635.3 1537.5,648.4 1527,638.2" fill="#e83a38"/><polygon points="1525.4,638.8 1537.8,650.7 1535.4,662.9 1518.4,658.3" fill="#e12b2d"/><polygon points="1518.3,659.5 1535,664.1 1532.6,672.5 1523.8,670.3" fill="#dd2426"/><polygon points="1523.6,672 1532.7,674.1 1539.5,692.6 1519.5,684.8" fill="#e63434"/><polygon points="1519.3,686 1539.2,693.7 1539.4,706.9 1521.4,702.3" fill="#e83a38"/><polygon points="1521.3,703.5 1539.2,708.1 1540.2,719.8 1522.5,715.5" fill="#e12b2d"/><polygon points="1522.2,716.8 1540,721 1538,735.6 1519.1,730.1" fill="#e32e30"/><polygon points="1518.8,731.3 1537.7,736.9 1534.3,756.2 1519.6,744.8" fill="#dd2426"/><polygon points="1534.3,504.5 1556.1,515 1551.8,524.6 1537.2,518.9" fill="#dd2426"/><polygon points="1536.7,520.2 1551.6,526 1548.8,542.4 1536.5,539.2" fill="#e0282a"/><polygon points="1536.8,541.3 1547.2,544 1534.7,549.9" fill="#e12b2d"/><polygon points="1547.8,544.5 1548.4,552.7 1535.2,550.5" fill="#e12b2d"/><polygon points="1533.7,551.8 1549,554.6 1548.1,567.8 1537.1,565.3" fill="#dd2426"/><polygon points="1537.1,566.9 1548.2,569.5 1551.4,587.1 1540.2,581.2" fill="#e32e30"/><polygon points="1540.9,584 1550.4,588.7 1549.1,600.1" fill="#dd2426"/><polygon points="1540.1,584.3 1548.4,600.4 1535.2,594.5" fill="#dd2426"/><polygon points="1535,596.9 1548.3,603.3 1542.3,612.6" fill="#e12b2d"/><polygon points="1549.2,604.1 1553.8,615.1 1543.1,613.4" fill="#e12b2d"/><polygon points="1542.2,615.8 1554.6,617.1 1549.2,633.2 1534.8,633" fill="#dd2426"/><polygon points="1534.8,634.4 1549.2,635.1 1556,654.7 1539.5,649.7" fill="#e32e30"/><polygon points="1539.6,651.2 1555.7,655.7 1552.7,661.9 1536.9,663.3" fill="#e0282a"/><polygon points="1536.7,664.5 1552.9,663.2 1555.8,686.2 1534.3,673.1" fill="#e12b2d"/><polygon points="1534,674 1555.4,687.1 1555.9,697.6 1541,692.7" fill="#e63434"/><polygon points="1540.8,694.2 1555.7,698.8 1551.5,712 1541,707.1" fill="#e32e30"/><polygon points="1541.8,709.8 1551,714.3 1554.4,730.6" fill="#e32e30"/><polygon points="1541.4,710.1 1554,730.8 1542.5,720.2" fill="#e32e30"/><polygon points="1541.4,721.5 1554.6,733.3 1552.4,742.6 1539.6,736" fill="#e63434"/><polygon points="1539.1,737.3 1552.1,744.1 1550.7,758 1535.5,756.4" fill="#e83a38"/><polygon points="1557.7,515.9 1566,518.8 1571.8,534.9 1553.5,525.2" fill="#dd2426"/><polygon points="1553.1,526.2 1571.4,535.8 1570.5,543.9 1550.2,542.9" fill="#e0282a"/><polygon points="1550.1,544 1570.4,545.1 1567.5,564 1550.9,553.7" fill="#e83a38"/><polygon points="1550.4,554.8 1567,565 1565.6,576.9 1549.7,568.4" fill="#e63434"/><polygon points="1549.3,569.5 1565.3,578.5 1571.2,597.2 1552.8,587.4" fill="#dd2426"/><polygon points="1552.6,588.8 1570.9,598.1 1566.4,603.9 1551,602" fill="#e32e30"/><polygon points="1551.7,603.8 1565.2,605.7 1556.2,614.6" fill="#e63434"/><polygon points="1565.8,606.4 1563.5,619.3 1556.8,615.4" fill="#e63434"/><polygon points="1555.7,617.4 1563.6,621.9 1568.2,636.9 1550.5,633.6" fill="#e12b2d"/><polygon points="1550.4,634.9 1568.3,638.5 1570.8,656.5 1557.2,654.5" fill="#e32e30"/><polygon points="1557.4,656.2 1570.6,657.8 1569.1,673 1554.7,662.4" fill="#e0282a"/><polygon points="1554.1,663.3 1568.7,674.3 1566.4,686 1556.9,686.1" fill="#e12b2d"/><polygon points="1557.6,688.2 1565.5,688.2 1557.8,696.7" fill="#e32e30"/><polygon points="1565.9,688.6 1566,697.9 1558.2,697.2" fill="#e32e30"/><polygon points="1557.1,699.3 1566.4,700 1564.5,717.7 1552.8,712.4" fill="#dd2426"/><polygon points="1552.6,713.7 1564.3,719.5 1571.3,728.8 1556.2,732.4" fill="#dd2426"/><polygon points="1556.6,733.9 1571.4,730 1569.7,743.9 1553.8,743" fill="#e12b2d"/><polygon points="1554.9,745.1 1568.9,745.9 1566.6,759.4" fill="#e0282a"/><polygon points="1554.2,745.6 1565.9,760 1552.8,757.7" fill="#e0282a"/><polygon points="1567.5,518.7 1583.6,523.1 1584.7,533.2 1573,534.8" fill="#dd2426"/><polygon points="1573.3,536.3 1584.9,534.6 1587.7,547.9 1572.2,544.1" fill="#e63434"/><polygon points="1571.8,545.5 1587.6,549.2 1582.8,564 1568.8,564.2" fill="#dd2426"/><polygon points="1568.7,565.7 1582.6,565.6 1580.6,584.6 1567.1,577.3" fill="#e12b2d"/><polygon points="1566.9,578.6 1580.2,586.1 1585.1,594.3 1572.4,597.1" fill="#e63434"/><polygon points="1572.6,598.8 1585.2,595.5 1580.7,614.1 1568.2,604.5" fill="#e0282a"/><polygon points="1567.6,605.6 1580,615.3 1582.1,625.7 1565.1,620.7" fill="#e0282a"/><polygon points="1566.4,622.9 1581.2,627.4 1580.8,639.7" fill="#e0282a"/><polygon points="1565.8,623.3 1580.3,640.1 1570,636.4" fill="#e0282a"/><polygon points="1569.5,638.5 1581.5,642.8 1584.1,657.3 1572,656.4" fill="#e83a38"/><polygon points="1572.1,658.1 1584.1,658.9 1584.1,670.7 1570.3,673.1" fill="#e83a38"/><polygon points="1570.3,674.6 1584.2,672.1 1583.7,690.6 1567.8,686.4" fill="#e63434"/><polygon points="1567.6,687.8 1583.4,692 1581.8,708.1 1568.1,698.9" fill="#e63434"/><polygon points="1567.7,700.1 1581.4,709.5 1587.2,723.5 1565.9,718.1" fill="#e63434"/><polygon points="1567.5,720 1585.8,724.6 1582,732" fill="#dd2426"/><polygon points="1566.9,720.2 1581.4,732.2 1573.2,728.6" fill="#dd2426"/><polygon points="1572.7,730.2 1582.5,734.6 1584.6,750.1 1571.4,744" fill="#e0282a"/><polygon points="1570.9,745.6 1584.2,751.5 1580.5,766.5 1568.6,761.1" fill="#e0282a"/><polygon points="1568.3,762.5 1580.2,768.3 1580.8,783.2 1572.7,778.6" fill="#e32e30"/><polygon points="1585.3,523.1 1602.9,524.8 1601.2,538.7 1586.5,533.4" fill="#e63434"/><polygon points="1586.3,534.6 1601,540 1602.9,553.1 1589.3,548" fill="#e12b2d"/><polygon points="1589,549.5 1602.6,554.4 1600.4,567 1584.3,564.4" fill="#e32e30"/><polygon points="1584.6,566.7 1598.7,569.1 1582.7,583.3" fill="#e0282a"/><polygon points="1599.4,570.1 1598.7,587.2 1583.4,584.3" fill="#e0282a"/><polygon points="1581.9,586.1 1599.2,589.7 1602.6,605 1587,594.7" fill="#e63434"/><polygon points="1586.9,597 1600.7,605.9 1583,613.4" fill="#e0282a"/><polygon points="1601.3,606.8 1598.7,615.6 1583.6,614.2" fill="#e0282a"/><polygon points="1581.8,615.8 1599.1,617.5 1600,634.1 1583.8,626.1" fill="#dd2426"/><polygon points="1583.4,627.3 1599.7,635.3 1599.9,650.1 1583.1,641.6" fill="#e32e30"/><polygon points="1582.8,642.8 1599.6,651.4 1601.2,668 1585.8,657.7" fill="#e0282a"/><polygon points="1585.4,659 1600.7,669.1 1600.1,682.6 1585.9,671.2" fill="#dd2426"/><polygon points="1586.7,673.7 1599,683.7 1600.3,692.6" fill="#e0282a"/><polygon points="1586,674 1599.6,692.9 1585.9,690.2" fill="#e0282a"/><polygon points="1586.4,693.2 1600.2,695.8 1600.8,708.2" fill="#e12b2d"/><polygon points="1585.6,693.7 1600,708.8 1584.1,707.7" fill="#e12b2d"/><polygon points="1583.1,709.7 1601.5,711 1601.9,729.7 1588.7,723.5" fill="#e83a38"/><polygon points="1588.9,725.7 1600.2,730.8 1585.2,733.3" fill="#dd2426"/><polygon points="1600.8,731.7 1601.7,744.5 1585.8,734.2" fill="#dd2426"/><polygon points="1583.8,734.6 1602.1,746.6 1600.6,756.9 1586.1,750.6" fill="#dd2426"/><polygon points="1585.6,751.9 1600.3,758.1 1597,772.5 1581.9,767" fill="#dd2426"/><polygon points="1581.6,768.3 1596.7,774 1602.3,787.3 1582.1,783.5" fill="#dd2426"/><polygon points="1604.2,525.2 1614.5,532.9 1612.3,545.8 1602.8,539" fill="#dd2426"/><polygon points="1602.4,540.4 1611.7,547.2 1610.4,555.4 1604.2,553.1" fill="#e63434"/><polygon points="1603.9,554.9 1610.4,557.3 1614.9,577.3 1601.9,567.3" fill="#dd2426"/><polygon points="1601.5,568.7 1614.5,578.7 1614.4,592.1 1600.8,588.4" fill="#e0282a"/><polygon points="1601.9,590.7 1613.5,593.9 1612.6,603.3" fill="#e63434"/><polygon points="1601.4,591.2 1612.1,603.8 1604.1,604.2" fill="#e63434"/><polygon points="1604,606.6 1613,606 1614.4,617 1600.8,616.3" fill="#e32e30"/><polygon points="1600.6,617.7 1614.5,618.5 1611.7,634.7 1601.3,634.1" fill="#dd2426"/><polygon points="1601.4,635.7 1611.7,636.5 1615.6,650.2 1601.2,650.2" fill="#e0282a"/><polygon points="1602.3,652.7 1615,652.6 1611.9,669.9" fill="#e63434"/><polygon points="1601.7,653.4 1611.3,670.6 1602.8,667.5" fill="#e63434"/><polygon points="1603.4,670.5 1611.6,673.6 1614.8,682.2" fill="#dd2426"/><polygon points="1602.9,670.9 1614.4,682.6 1602.1,682.2" fill="#dd2426"/><polygon points="1601.4,684.2 1615.6,684.6 1617,701.7 1602.7,694.3" fill="#e0282a"/><polygon points="1603,696.5 1615.4,702.9 1603.7,708.9" fill="#e83a38"/><polygon points="1616.1,703.8 1616.6,715 1604.4,709.7" fill="#e83a38"/><polygon points="1602.9,711.1 1617,717.2 1615.3,726.6 1603.2,729.7" fill="#dd2426"/><polygon points="1603.2,731.3 1615.5,728.2 1613.7,744.2 1603.7,745.7" fill="#e32e30"/><polygon points="1603.8,747.4 1613.6,745.9 1612.2,759 1602.1,757" fill="#e32e30"/><polygon points="1601.9,758.6 1612.1,760.7 1617.7,775.1 1598.4,772.8" fill="#dd2426"/><polygon points="1598.4,774.1 1617.6,776.3 1611,789.2 1603.7,787.1" fill="#dd2426"/><polygon points="1616.5,533.9 1625.9,534.2 1614.3,545.2" fill="#e32e30"/><polygon points="1626.7,535.2 1632.7,552.9 1615.1,546.1" fill="#e32e30"/><polygon points="1613.4,547.5 1633.5,555.1 1629,566.3 1611.9,556.4" fill="#e0282a"/><polygon points="1611.5,557.2 1628.6,567.5 1629.6,575.8 1616,577.4" fill="#e32e30"/><polygon points="1616.1,579.1 1629.8,577.3 1629.1,597.5 1615.7,592.3" fill="#e12b2d"/><polygon points="1615.6,593.8 1628.7,599 1632.4,613.4 1614.7,605" fill="#e63434"/><polygon points="1614.4,606 1632,614.4 1634.3,626.3 1616.2,617.5" fill="#e32e30"/><polygon points="1615.7,618.6 1634,627.5 1631.8,644.9 1613.2,635.2" fill="#e32e30"/><polygon points="1612.9,636.4 1631.4,646.2 1633.8,661.6 1617.4,650.6" fill="#e32e30"/><polygon points="1617.5,653.2 1631.8,662.6 1614.5,670.7" fill="#e32e30"/><polygon points="1632.5,663.5 1632.3,671.8 1615.2,671.6" fill="#e32e30"/><polygon points="1614.5,673.6 1631.5,673.9 1617.8,682.4" fill="#e0282a"/><polygon points="1632.2,674.5 1628.5,687.8 1618.5,683.1" fill="#e0282a"/><polygon points="1616.9,684.8 1628.5,690.2 1626.5,700.6 1618.2,701.6" fill="#dd2426"/><polygon points="1618.2,703.3 1626.5,702.5 1628.6,716 1618.5,715.8" fill="#e12b2d"/><polygon points="1618.5,717.6 1628.6,717.6 1627.2,734.9 1617,726.9" fill="#dd2426"/><polygon points="1616.5,728.3 1626.7,736.3 1628,745.5 1615.1,744.4" fill="#e32e30"/><polygon points="1615,745.9 1628.2,747.1 1632.6,770.4 1613.7,759.4" fill="#e12b2d"/><polygon points="1613.4,760.7 1632.2,771.4 1627.5,781.8 1619.4,775.1" fill="#e63434"/><polygon points="1618.8,776.8 1627,783.2 1626.1,792.8 1612.4,789.7" fill="#e32e30"/><polygon points="1629.4,534.7 1647,540.9 1635.3,552.5" fill="#e63434"/><polygon points="1647.6,541.5 1642.7,549.1 1635.9,553.2" fill="#e63434"/><polygon points="1635.2,555.8 1643.1,551 1648.6,572.5 1630.5,566.6" fill="#dd2426"/><polygon points="1630.3,567.9 1648.3,573.7 1646.8,588.6 1631.5,576.5" fill="#e63434"/><polygon points="1631,577.4 1646.3,589.7 1648.1,599.6 1630.4,597.8" fill="#e32e30"/><polygon points="1630.4,599.1 1648,600.9 1642.6,613.5 1633.7,613.3" fill="#dd2426"/><polygon points="1633.7,615 1642.8,615.4 1649.2,635.3 1635.8,626.4" fill="#e83a38"/><polygon points="1635.4,628 1648.8,636.3 1641,640.1 1633.1,645" fill="#e63434"/><polygon points="1633,646.7 1641.2,642.1 1645,665.1 1634.9,661.4" fill="#e83a38"/><polygon points="1636.1,664.2 1644.5,667.3 1648.1,679.8" fill="#e32e30"/><polygon points="1635.6,664.4 1647.6,680.1 1635.5,672.6" fill="#e32e30"/><polygon points="1634.4,673.8 1648.4,682.2 1641.5,688.6 1630.3,689" fill="#e12b2d"/><polygon points="1630.1,690.4 1641.5,690.4 1647.8,708.4 1628,701.1" fill="#dd2426"/><polygon points="1627.7,702.3 1647.6,709.5 1643.9,727.2 1630.3,716.4" fill="#e0282a"/><polygon points="1629.8,717.7 1643.3,728.4 1641,737.6 1628.4,735.3" fill="#e12b2d"/><polygon points="1628.4,736.6 1640.9,739.3 1648.8,757.5 1629.8,746.1" fill="#e83a38"/><polygon points="1631.1,748.5 1647.7,758.6 1647.9,767.8" fill="#e12b2d"/><polygon points="1630.4,749.1 1647.3,768.3 1634.3,769.3" fill="#e12b2d"/><polygon points="1634.3,772.5 1647.3,771.1 1630,781.5" fill="#e32e30"/><polygon points="1647.8,771.9 1645.4,788.9 1630.5,782.3" fill="#e32e30"/><polygon points="1628.7,783.6 1645.5,791.1 1642,799.5 1627.7,793.4" fill="#e32e30"/><polygon points="1650.1,541 1663.3,541.1 1665.4,562.5 1644.5,549.9" fill="#e12b2d"/><polygon points="1644.1,550.9 1665,563.4 1660.5,568.9 1649.8,572.4" fill="#e0282a"/><polygon points="1650,574.1 1660.8,570.5 1663.4,590.2 1648.1,588.7" fill="#e63434"/><polygon points="1648.9,590.6 1662,591.9 1650.2,599" fill="#e63434"/><polygon points="1662.6,592.3 1662.4,600.7 1650.9,599.5" fill="#e63434"/><polygon points="1649.4,601.3 1663,602.5 1660.8,622.3 1644.1,614" fill="#e83a38"/><polygon points="1643.8,615.2 1660.4,623.8 1662.8,633 1650.3,635.2" fill="#e83a38"/><polygon points="1650.7,637 1661.3,634.6 1643.7,640.5" fill="#e63434"/><polygon points="1661.7,635.2 1658.8,648.7 1644.1,641.1" fill="#e63434"/><polygon points="1642,641.9 1659.1,651.3 1660.6,670.5 1646.1,665.2" fill="#e12b2d"/><polygon points="1647.7,667.5 1659.8,672 1663.6,677.8" fill="#e83a38"/><polygon points="1647.3,667.9 1663.1,678.2 1650.6,680.5" fill="#e83a38"/><polygon points="1650.6,682.9 1663.1,680.2 1644.3,688.6" fill="#e32e30"/><polygon points="1663.6,680.7 1661.2,693.3 1644.8,689.1" fill="#e32e30"/><polygon points="1642.8,690.3 1661.8,695.7 1664.2,713.9 1649.2,708.3" fill="#e63434"/><polygon points="1649.5,711 1662.5,715.7 1646.2,726.3" fill="#e32e30"/><polygon points="1663.2,716.6 1663.7,732 1646.9,727.3" fill="#e32e30"/><polygon points="1646.8,729.6 1663.3,734.1 1663.7,741.2" fill="#e12b2d"/><polygon points="1645.9,729.8 1662.8,741.3 1643.7,738" fill="#e12b2d"/><polygon points="1643.9,740.3 1663.3,743.7 1656.8,758.7" fill="#e63434"/><polygon points="1643.3,740.9 1656.2,759.3 1650,756.7" fill="#e63434"/><polygon points="1650.4,759.8 1656.4,762.4 1650.7,768.6" fill="#e32e30"/><polygon points="1656.9,763.2 1660,776.1 1651.2,769.3" fill="#e32e30"/><polygon points="1650.3,772 1659.3,778.7 1647.9,788.9" fill="#e83a38"/><polygon points="1659.7,779.5 1659.7,788.8 1648.4,789.7" fill="#e83a38"/><polygon points="1647.8,792 1658.9,791.2 1644.5,799.2" fill="#e32e30"/><polygon points="1659.6,791.8 1661.9,804.4 1645.2,799.8" fill="#e32e30"/><polygon points="1665.2,542.7 1676.7,552.2 1667,561.1" fill="#e12b2d"/><polygon points="1677.2,553.3 1675.1,565.2 1667.5,562.2" fill="#e12b2d"/><polygon points="1666.8,564.6 1674,567.4 1663.1,569.3" fill="#dd2426"/><polygon points="1674.5,567.9 1677.3,576.5 1663.6,569.8" fill="#dd2426"/><polygon points="1661.9,570.5 1678,578.6 1677,592.1 1664.8,590.2" fill="#e12b2d"/><polygon points="1664.9,591.8 1676.7,593.6 1677.7,604.8 1664.7,601.3" fill="#e32e30"/><polygon points="1664.3,602.7 1677.7,606.4 1680,624.1 1662.1,622.5" fill="#e32e30"/><polygon points="1662.2,623.9 1679.7,625.2 1672,634.5 1664.4,633" fill="#e83a38"/><polygon points="1664,634.6 1672,636.3 1674.9,652.6 1660.7,649.9" fill="#e83a38"/><polygon points="1662,652.4 1674.5,654.9 1678.3,669.1" fill="#dd2426"/><polygon points="1661.5,653.1 1677.7,669.8 1662.5,669.7" fill="#dd2426"/><polygon points="1663,672.2 1677.9,672.2 1666.8,678.2" fill="#e83a38"/><polygon points="1678.7,672.8 1679.5,684.5 1667.6,678.7" fill="#e83a38"/><polygon points="1665.9,680 1679.9,686.7 1675.3,705.3 1663.6,694.6" fill="#e32e30"/><polygon points="1663.1,695.9 1674.7,706.9 1679.7,722.2 1665.7,714.1" fill="#e12b2d"/><polygon points="1665.4,715.6 1679.3,723.3 1672.8,727.7 1665.7,733" fill="#e0282a"/><polygon points="1666.3,734.6 1672.6,730.3 1666.6,741.1" fill="#e0282a"/><polygon points="1673.1,730.9 1677.4,746.3 1667.1,741.6" fill="#e0282a"/><polygon points="1666.6,744.5 1677.1,748.8 1672.7,757.8" fill="#e32e30"/><polygon points="1665.8,745 1671.9,758.3 1659.3,759.9" fill="#e32e30"/><polygon points="1658.3,762 1672.8,760.6 1674.6,777.1 1661.8,777.1" fill="#e12b2d"/><polygon points="1661.9,778.7 1674.8,778.7 1677.9,799.6 1661.9,789.6" fill="#dd2426"/><polygon points="1661.6,790.9 1677.5,800.7 1673.5,811.9 1664.5,805.3" fill="#e83a38"/><polygon points="1680.3,553.3 1693.3,553.1 1687.7,566.5" fill="#e12b2d"/><polygon points="1679.6,553.9 1686.9,567.1 1677.2,565.8" fill="#e12b2d"/><polygon points="1676.6,567.7 1687.6,569.6 1693,585.1 1679.8,577.5" fill="#e0282a"/><polygon points="1679.4,578.9 1692.7,586.3 1694.2,600.6 1678.5,592.6" fill="#e0282a"/><polygon points="1678.1,593.8 1693.8,601.8 1688,615.9 1679.4,605.4" fill="#e63434"/><polygon points="1678.9,606.5 1687.6,617.7 1695.9,628.8 1681.4,624.1" fill="#e83a38"/><polygon points="1681.2,625.8 1695.8,630 1694.6,649 1673.6,635.4" fill="#dd2426"/><polygon points="1673.2,636.2 1694.1,649.9 1691.2,658.1 1676.5,653" fill="#e12b2d"/><polygon points="1676.2,654.3 1691.1,659.7 1692.9,678.1 1680.8,670.6" fill="#e0282a"/><polygon points="1680.6,672.2 1692.5,679.5 1691.2,692.3 1681.7,685.6" fill="#dd2426"/><polygon points="1681.3,687.1 1690.9,693.9 1695.9,706.5 1676.4,705.7" fill="#dd2426"/><polygon points="1676.4,706.9 1695.8,707.8 1695.4,719.8 1680.9,722.2" fill="#e0282a"/><polygon points="1681.1,723.8 1695.4,721.1 1692.8,740.5 1674.5,728.5" fill="#e83a38"/><polygon points="1674.1,729.4 1692.3,741.6 1691,750.6 1679.5,747.3" fill="#e0282a"/><polygon points="1679.3,749 1690.7,752 1689.9,766.4 1674.4,759.4" fill="#e32e30"/><polygon points="1674,760.6 1689.6,767.8 1690.9,782.7 1676.2,777.2" fill="#e0282a"/><polygon points="1676,778.7 1690.7,784.3 1689.6,799.4 1679,799.6" fill="#dd2426"/><polygon points="1679.1,801.3 1689.4,801 1689.2,812 1674.8,812.3" fill="#e83a38"/><polygon points="1695.3,552.8 1703.6,560.5 1704.6,571.8 1689.1,568.3" fill="#e32e30"/><polygon points="1688.9,569.5 1704.5,573.3 1705,589.1 1694.3,585" fill="#e83a38"/><polygon points="1694.8,587.5 1704,591 1695.9,599.7" fill="#e12b2d"/><polygon points="1704.5,591.7 1705.7,602.6 1696.4,600.4" fill="#e12b2d"/><polygon points="1695.6,603.1 1704.9,605.2 1690.2,615.4" fill="#e83a38"/><polygon points="1705.5,606 1708.9,619.8 1690.9,616.2" fill="#e83a38"/><polygon points="1689.2,617.5 1709.7,621.7 1705.6,631.1 1697.4,628.7" fill="#e83a38"/><polygon points="1697.1,630.5 1705.8,632.8 1708.1,649.3 1695.7,649.1" fill="#e83a38"/><polygon points="1697,651.1 1707.4,651.2 1708.5,660.3" fill="#e12b2d"/><polygon points="1696.4,651.4 1707.9,660.6 1693.7,658.3" fill="#e12b2d"/><polygon points="1693.7,660.5 1708.1,662.8 1703.2,672.9" fill="#e83a38"/><polygon points="1693.1,661.2 1702.5,673.6 1694.3,677.1" fill="#e83a38"/><polygon points="1695.3,680.1 1703.5,676.8 1709,692" fill="#e63434"/><polygon points="1694.8,680.9 1708.5,692.7 1693.3,692" fill="#e63434"/><polygon points="1692.5,693.9 1710,694.7 1709.7,711.2 1697.4,706.5" fill="#e32e30"/><polygon points="1697.8,708.8 1708.5,712.8 1697.8,719.2" fill="#e83a38"/><polygon points="1709.1,713.7 1710.9,727.7 1698.4,720.1" fill="#e83a38"/><polygon points="1697.3,722.6 1709.8,730.1 1695,739.5" fill="#e63434"/><polygon points="1710.4,730.9 1709.7,738.9 1695.6,740.2" fill="#e63434"/><polygon points="1694.2,742.1 1710.4,740.6 1710.9,757.4 1692.6,751" fill="#e12b2d"/><polygon points="1692.2,752.3 1710.6,758.6 1703.4,774.8 1691.4,766.8" fill="#e0282a"/><polygon points="1692.1,769.4 1702.4,776.5 1704.2,787.6" fill="#dd2426"/><polygon points="1691.7,769.7 1703.8,787.9 1692.8,782.6" fill="#dd2426"/><polygon points="1692,784.4 1704.6,790.4 1703,802 1691,799.6" fill="#e32e30"/><polygon points="1690.8,801.1 1702.8,803.6 1707,818.9 1690.9,812.2" fill="#e63434"/><polygon points="1691.4,814.7 1705.5,820.6 1693.4,832.5" fill="#e63434"/><polygon points="1706.4,821.5 1709.3,833.4 1694.2,833.4" fill="#e63434"/><polygon points="1705.3,560.7 1724.2,566.1 1724.4,579.8 1706.3,572.3" fill="#e0282a"/><polygon points="1705.9,573.5 1724.2,580.9 1719.2,594.5 1706.5,589.4" fill="#e63434"/><polygon points="1706.8,591.6 1717.8,596.1 1708.1,602.5" fill="#dd2426"/><polygon points="1718.3,596.8 1718.2,606.6 1708.6,603.2" fill="#dd2426"/><polygon points="1707.5,604.9 1718.8,609.1 1725.8,625.8 1711.4,620.6" fill="#dd2426"/><polygon points="1711.4,622.2 1725.5,627 1724.9,639.6 1707.3,631.7" fill="#e0282a"/><polygon points="1708.6,633.8 1724,640.9 1726.2,651" fill="#e83a38"/><polygon points="1708,634.2 1725.5,651.4 1710.2,648.9" fill="#e83a38"/><polygon points="1709.5,650.9 1727.1,653.7 1726.7,672.8 1711,661.6" fill="#dd2426"/><polygon points="1710.9,663.8 1724.6,673.3 1706.2,674.3" fill="#e83a38"/><polygon points="1725,674.2 1719.8,682.4 1706.6,675.1" fill="#e83a38"/><polygon points="1704.7,675.8 1719.8,684.6 1722.2,696.6 1711.3,693.1" fill="#e0282a"/><polygon points="1711.3,694.9 1722.4,698.3 1726.2,719.6 1711.1,711.3" fill="#e12b2d"/><polygon points="1711.7,713.9 1724.5,720.8 1713.4,727.9" fill="#e32e30"/><polygon points="1725.1,721.4 1724.5,727.3 1714,728.5" fill="#e32e30"/><polygon points="1713.9,731.3 1724.6,730 1724.6,749.1" fill="#e63434"/><polygon points="1713.4,731.8 1724.1,749.5 1712.8,739.7" fill="#e63434"/><polygon points="1711.7,740.9 1724.6,752.2 1725,766.4 1712.5,757.7" fill="#e63434"/><polygon points="1712,759.1 1724.5,767.7 1727,780.6 1704.8,775.4" fill="#e0282a"/><polygon points="1704.6,776.4 1726.7,781.7 1724.9,792 1706.5,789.4" fill="#e0282a"/><polygon points="1706.3,790.6 1724.8,793.1 1725.2,807.6 1704.5,802.5" fill="#e63434"/><polygon points="1705.9,804.6 1724,809.1 1720.2,820.4" fill="#e83a38"/><polygon points="1705.2,805 1719.5,820.8 1708.8,818.4" fill="#e83a38"/><polygon points="1708.4,820.4 1720.6,823.3 1721.1,834.7 1711.6,833.8" fill="#dd2426"/><polygon points="1725.8,566.5 1740.3,570 1736.9,582 1726,579.8" fill="#e83a38"/><polygon points="1725.8,581.3 1736.7,583.5 1741.4,593.1 1720.6,594.9" fill="#e0282a"/><polygon points="1721.5,596.5 1739.7,594.8 1721.2,606.6" fill="#e32e30"/><polygon points="1740.5,595.5 1738.3,611.6 1722,607.3" fill="#e32e30"/><polygon points="1720,608.9 1738.8,614 1735.5,629.7 1727,625.7" fill="#dd2426"/><polygon points="1727.4,628.2 1734.6,631.7 1726.9,638.9" fill="#e63434"/><polygon points="1735.2,632.4 1740.2,643.1 1727.5,639.6" fill="#e63434"/><polygon points="1726.3,641.2 1740.9,645.1 1738.9,661.1 1728.9,652.6" fill="#e12b2d"/><polygon points="1728.3,654.1 1738.4,662.6 1734.7,675.6 1727.9,672.8" fill="#e83a38"/><polygon points="1727.7,675.2 1733.3,677.5 1722.5,683.1" fill="#dd2426"/><polygon points="1733.8,678 1737.5,686.8 1722.9,683.6" fill="#dd2426"/><polygon points="1721.4,684.9 1738.3,688.7 1736.2,704.2 1723.8,696.9" fill="#e83a38"/><polygon points="1723.4,698.3 1736,705.8 1734.9,721.8 1727.1,719.5" fill="#e12b2d"/><polygon points="1727.6,721.8 1734,723.7 1727.2,727.6" fill="#e63434"/><polygon points="1734.5,724.5 1737.1,737.7 1727.7,728.4" fill="#e63434"/><polygon points="1726.3,729.1 1737.4,740.4 1742.5,755 1726.3,751.1" fill="#dd2426"/><polygon points="1726.3,752.6 1742.2,756.1 1734.8,763.1 1726.2,766.6" fill="#dd2426"/><polygon points="1726.2,768.1 1735.1,764.9 1739.6,786.4 1728.3,780.5" fill="#e0282a"/><polygon points="1728.3,782.3 1739.2,787.6 1739.5,796.6 1726.7,792.2" fill="#e63434"/><polygon points="1727.6,794.5 1738.9,798.6 1740.5,812" fill="#e63434"/><polygon points="1727,795 1739.9,812.4 1727.5,807.3" fill="#e63434"/><polygon points="1726.5,809.2 1740.9,814.8 1739.2,828.3 1722.3,822.2" fill="#dd2426"/><polygon points="1722.8,824.1 1737.5,829.6 1723.4,834.5" fill="#dd2426"/><polygon points="1738.4,830.6 1741.5,845.1 1724.3,835.5" fill="#dd2426"/><polygon points="1741.9,570.2 1753.8,569.1 1757.8,583.9 1738.3,582.3" fill="#dd2426"/><polygon points="1739.9,584 1756.7,585.4 1753.7,595.2" fill="#e0282a"/><polygon points="1739.3,584.4 1753.1,595.5 1743.5,592.7" fill="#e0282a"/><polygon points="1742.8,594.5 1754.2,597.8 1752.3,616.8 1740.4,612.6" fill="#e12b2d"/><polygon points="1740.6,615.2 1750.7,618.8 1737.6,628.9" fill="#e83a38"/><polygon points="1751.3,619.6 1753,632.4 1738.2,629.7" fill="#e83a38"/><polygon points="1737.8,632 1752.4,634.8 1742.8,642.8" fill="#dd2426"/><polygon points="1753.2,635.5 1753.9,647.6 1743.6,643.6" fill="#dd2426"/><polygon points="1742.3,645.5 1754.4,649.8 1751.8,665.7 1740.1,661.3" fill="#e83a38"/><polygon points="1740,662.8 1751.3,667.1 1754.9,674.5 1735.8,676.1" fill="#e32e30"/><polygon points="1735.9,677.1 1755.1,675.7 1756.8,691.6 1740.1,687.5" fill="#e83a38"/><polygon points="1741.1,690.1 1755.8,693.4 1752.8,708.5" fill="#e83a38"/><polygon points="1740.3,690.6 1751.9,709 1738.5,704.1" fill="#e83a38"/><polygon points="1737.5,705.9 1752.8,711.6 1757.3,722.9 1736.2,722.2" fill="#e12b2d"/><polygon points="1737.2,724.1 1755.6,724.7 1739.6,737.7" fill="#e12b2d"/><polygon points="1756.3,725.4 1751.7,739 1740.3,738.4" fill="#e12b2d"/><polygon points="1738.9,740.5 1752,741.4 1755.4,755.8 1743.7,754.9" fill="#dd2426"/><polygon points="1743.7,756.7 1755.4,757.2 1755.8,776.1 1736.4,763.9" fill="#e12b2d"/><polygon points="1736,764.8 1755.4,777.1 1749.9,784.5 1740.7,786.4" fill="#dd2426"/><polygon points="1741.3,788.3 1749.3,786.9 1741.5,796.1" fill="#e83a38"/><polygon points="1750,787.6 1755.6,804.5 1742.2,796.9" fill="#e83a38"/><polygon points="1740.8,798.2 1756.2,806.9 1757.9,817.4 1742.7,813.8" fill="#dd2426"/><polygon points="1742.4,815.2 1757.8,818.7 1751.8,833.8 1740.7,828.6" fill="#e83a38"/><polygon points="1740.4,830 1751.6,835.7 1756.9,852.2 1743.8,846.3" fill="#e32e30"/><polygon points="1759.1,585.5 1767.8,589.6 1769.9,604.7 1755.9,596.6" fill="#dd2426"/><polygon points="1755.4,597.9 1769.5,606.2 1769.5,621.9 1753.5,617.2" fill="#e0282a"/><polygon points="1753.3,618.6 1769.2,623.3 1766.6,638 1755.3,633.2" fill="#e12b2d"/><polygon points="1756.3,635.9 1766.1,640.1 1770,653.5" fill="#e63434"/><polygon points="1755.8,636.2 1769.6,653.9 1756.6,648.3" fill="#e63434"/><polygon points="1755.8,650.1 1770.6,656.3 1769.9,667.8 1753.1,666.1" fill="#dd2426"/><polygon points="1753.1,667.3 1769.7,669.2 1772.4,685.1 1756.9,674.8" fill="#e0282a"/><polygon points="1757.2,677 1770.8,686 1759,690.8" fill="#e32e30"/><polygon points="1771.3,687.1 1767.3,699.7 1759.5,691.9" fill="#e32e30"/><polygon points="1757.9,693.3 1766.9,702.1 1766.5,710.8 1754.5,710.4" fill="#e83a38"/><polygon points="1755.2,712.3 1765.8,712.9 1759.1,721.9" fill="#e32e30"/><polygon points="1766.6,713.7 1771.5,728.6 1759.9,722.6" fill="#e32e30"/><polygon points="1758.5,724.5 1772.1,730.9 1766.5,747.2 1753.6,740.1" fill="#e12b2d"/><polygon points="1753.3,741.3 1765.8,748.6 1770,756.2 1756.9,755.8" fill="#dd2426"/><polygon points="1756.8,757.4 1770.2,757.6 1768,773.8 1757,776.1" fill="#e32e30"/><polygon points="1757.1,777.8 1767.8,775.4 1767.4,792.6 1751.5,785.1" fill="#dd2426"/><polygon points="1751.2,786.2 1767,793.9 1766.7,802.2 1757.6,805.6" fill="#e0282a"/><polygon points="1758,807.3 1767.2,803.9 1772.7,823.8 1759.5,817.4" fill="#e63434"/><polygon points="1759.1,819.1 1772.4,825.2 1769.3,841.1 1753.2,834.4" fill="#e32e30"/><polygon points="1752.9,835.6 1768.9,842.6 1771,856.9 1758.2,852.3" fill="#e12b2d"/><polygon points="1766.3,570 1785.3,577.6 1785.6,598.4 1769.4,588.3" fill="#e0282a"/><polygon points="1769.2,589.7 1785.1,599.4 1786.9,606.1 1771.3,605" fill="#e12b2d"/><polygon points="1772.4,607.3 1786.2,608.2 1784.3,624.6" fill="#e0282a"/><polygon points="1771.7,608 1783.6,625.3 1771.5,621.6" fill="#e0282a"/><polygon points="1771.7,624.7 1783.7,628.3 1780.7,642.4" fill="#e12b2d"/><polygon points="1770.9,625.2 1779.9,642.8 1768.7,638" fill="#e12b2d"/><polygon points="1767.8,639.7 1780.7,645.6 1787.3,657.7 1772.3,655" fill="#e63434"/><polygon points="1772.3,656.6 1787.3,659 1785.1,673 1771.5,668.1" fill="#dd2426"/><polygon points="1772.4,670.4 1784.2,674.8 1783.4,686.3" fill="#e32e30"/><polygon points="1771.9,670.9 1783,686.7 1774.1,684.5" fill="#e32e30"/><polygon points="1773.6,686.8 1783.8,689.2 1784.8,701.4 1768.7,701.1" fill="#e63434"/><polygon points="1768.7,702.3 1784.7,702.7 1784.4,714.3 1768.1,711.2" fill="#dd2426"/><polygon points="1767.9,712.3 1784.5,715.7 1785.8,731.7 1773.6,729.6" fill="#dd2426"/><polygon points="1773.7,732.2 1784.4,733.6 1768.6,746.2" fill="#e63434"/><polygon points="1784.8,734.2 1782.1,745 1769,746.8" fill="#e63434"/><polygon points="1767.7,748.7 1782.7,747.1 1787.1,765.1 1771.9,756.4" fill="#e12b2d"/><polygon points="1772,758.8 1785.4,766.2 1770.3,773.1" fill="#e12b2d"/><polygon points="1786,767.2 1785,779.6 1771,774.1" fill="#e12b2d"/><polygon points="1769.2,775.5 1785.3,781.9 1785.6,794.8 1768.8,792.8" fill="#e12b2d"/><polygon points="1770.1,795.1 1784.6,796.7 1782.3,811.4" fill="#dd2426"/><polygon points="1769.3,795.4 1781.5,811.7 1769.2,802.8" fill="#dd2426"/><polygon points="1768.1,803.8 1782.4,814.4 1786.8,824.3 1773.8,823.8" fill="#e32e30"/><polygon points="1773.8,825.6 1786.8,825.7 1781.7,839.8 1770.5,841.2" fill="#e63434"/><polygon points="1770.6,842.7 1781.7,841.7 1787.4,857 1772.3,856.9" fill="#e63434"/><polygon points="1786.7,577.9 1798.8,583.6 1804.8,602.5 1786.8,598.5" fill="#dd2426"/><polygon points="1786.9,599.9 1804.4,603.6 1798,613.5 1788.8,606.6" fill="#e32e30"/><polygon points="1788.1,607.7 1797.7,615.2 1797.4,633.1 1786,626.5" fill="#e32e30"/><polygon points="1785.7,628.2 1796.9,634.7 1798.2,648.6 1782.3,644.3" fill="#e63434"/><polygon points="1782.2,645.5 1797.8,649.9 1797.6,657.7 1788.7,657.5" fill="#e83a38"/><polygon points="1788.7,659.3 1797.8,659.2 1798.9,674.3 1786.4,673.1" fill="#e0282a"/><polygon points="1786.3,674.7 1798.8,675.9 1798.9,690.4 1785.4,687.8" fill="#e32e30"/><polygon points="1785.3,689.2 1798.7,691.9 1799.4,703.6 1786.4,701.5" fill="#e83a38"/><polygon points="1786.2,703 1799.4,705.1 1801.6,724.9 1786.2,714.6" fill="#dd2426"/><polygon points="1785.8,715.8 1801.1,725.9 1797.9,734.2 1787.3,731.8" fill="#e63434"/><polygon points="1787,733.4 1797.7,735.7 1796.2,749.6 1784.2,745.7" fill="#e83a38"/><polygon points="1784,747.1 1796.2,751.4 1800.6,770.5 1788.3,764.9" fill="#e83a38"/><polygon points="1788.8,767.6 1799.3,772.2 1787.8,779.9" fill="#e12b2d"/><polygon points="1800,773.2 1803.5,787.9 1788.5,780.9" fill="#e12b2d"/><polygon points="1786.9,782.2 1804,789.9 1797.3,797.1 1787.2,795" fill="#e83a38"/><polygon points="1787.7,797.2 1796.7,799.2 1797,809.9" fill="#dd2426"/><polygon points="1787.1,797.8 1796.4,810.6 1784.7,812.3" fill="#dd2426"/><polygon points="1784.1,814.5 1797.6,812.7 1796.2,830.3 1788.3,824.2" fill="#e83a38"/><polygon points="1788.1,826.9 1795.2,832.2 1784,839.5" fill="#e12b2d"/><polygon points="1795.9,833.4 1803.3,851 1784.7,840.6" fill="#e12b2d"/><polygon points="1784.1,842.7 1802.6,852.9 1789.4,856.1" fill="#e32e30"/><polygon points="1803.1,853.6 1796.2,858.3 1789.9,856.8" fill="#e32e30"/><polygon points="1788.6,858.6 1796.1,860.5 1799.1,880.6 1783.9,872.2" fill="#e63434"/></g><polygon points="1487,513 1771.7,597 1771.7,845 1487.5,720" fill="none" stroke="#e23434" stroke-width="3"/><polygon points="1771.7,597 2068,491 2068,664 1771.7,845" fill="#dd3032"/><ellipse cx="2068" cy="499.6" rx="2.8" ry="8" fill="#dd3032"/><ellipse cx="2068" cy="517" rx="2.8" ry="8" fill="#dd3032"/><ellipse cx="2068" cy="534.2" rx="2.8" ry="8" fill="#dd3032"/><ellipse cx="2068" cy="551.5" rx="2.8" ry="8" fill="#dd3032"/><ellipse cx="2068" cy="568.9" rx="2.8" ry="8" fill="#dd3032"/><ellipse cx="2068" cy="586.1" rx="2.8" ry="8" fill="#dd3032"/><ellipse cx="2068" cy="603.5" rx="2.8" ry="8" fill="#dd3032"/><ellipse cx="2068" cy="620.8" rx="2.8" ry="8" fill="#dd3032"/><ellipse cx="2068" cy="638" rx="2.8" ry="8" fill="#dd3032"/><ellipse cx="2068" cy="655.4" rx="2.8" ry="8" fill="#dd3032"/><polygon points="1771.7,600 2068,493.1 2068,496.2 1771.7,604.4" fill="#ee6862" opacity="0.62"/><polygon points="1771.7,604.4 2068,496.2 2068,499 1771.7,608.4" fill="#e84644" opacity="0.55"/><polygon points="1771.7,616.3 2068,504.5 2068,508.8 1771.7,622.5" fill="#c02224" opacity="0.62"/><polygon points="1771.7,624.8 2068,510.4 2068,513.5 1771.7,629.2" fill="#ee6862" opacity="0.62"/><polygon points="1771.7,629.2 2068,513.5 2068,516.3 1771.7,633.2" fill="#e84644" opacity="0.55"/><polygon points="1771.7,641.1 2068,521.8 2068,526.1 1771.7,647.3" fill="#c02224" opacity="0.62"/><polygon points="1771.7,649.6 2068,527.7 2068,530.8 1771.7,654" fill="#ee6862" opacity="0.62"/><polygon points="1771.7,654 2068,530.8 2068,533.6 1771.7,658" fill="#e84644" opacity="0.55"/><polygon points="1771.7,665.9 2068,539.1 2068,543.4 1771.7,672.1" fill="#c02224" opacity="0.62"/><polygon points="1771.7,674.4 2068,545 2068,548.1 1771.7,678.8" fill="#ee6862" opacity="0.62"/><polygon points="1771.7,678.8 2068,548.1 2068,550.9 1771.7,682.8" fill="#e84644" opacity="0.55"/><polygon points="1771.7,690.7 2068,556.4 2068,560.7 1771.7,696.9" fill="#c02224" opacity="0.62"/><polygon points="1771.7,699.2 2068,562.3 2068,565.4 1771.7,703.6" fill="#ee6862" opacity="0.62"/><polygon points="1771.7,703.6 2068,565.4 2068,568.2 1771.7,707.6" fill="#e84644" opacity="0.55"/><polygon points="1771.7,715.5 2068,573.7 2068,578 1771.7,721.7" fill="#c02224" opacity="0.62"/><polygon points="1771.7,724 2068,579.6 2068,582.7 1771.7,728.4" fill="#ee6862" opacity="0.62"/><polygon points="1771.7,728.4 2068,582.7 2068,585.5 1771.7,732.4" fill="#e84644" opacity="0.55"/><polygon points="1771.7,740.3 2068,591 2068,595.3 1771.7,746.5" fill="#c02224" opacity="0.62"/><polygon points="1771.7,748.8 2068,596.9 2068,600 1771.7,753.2" fill="#ee6862" opacity="0.62"/><polygon points="1771.7,753.2 2068,600 2068,602.8 1771.7,757.2" fill="#e84644" opacity="0.55"/><polygon points="1771.7,765.1 2068,608.3 2068,612.6 1771.7,771.3" fill="#c02224" opacity="0.62"/><polygon points="1771.7,773.6 2068,614.2 2068,617.3 1771.7,778" fill="#ee6862" opacity="0.62"/><polygon points="1771.7,778 2068,617.3 2068,620.1 1771.7,782" fill="#e84644" opacity="0.55"/><polygon points="1771.7,789.9 2068,625.6 2068,629.9 1771.7,796.1" fill="#c02224" opacity="0.62"/><polygon points="1771.7,798.4 2068,631.5 2068,634.6 1771.7,802.8" fill="#ee6862" opacity="0.62"/><polygon points="1771.7,802.8 2068,634.6 2068,637.4 1771.7,806.8" fill="#e84644" opacity="0.55"/><polygon points="1771.7,814.7 2068,642.9 2068,647.2 1771.7,820.9" fill="#c02224" opacity="0.62"/><polygon points="1771.7,823.2 2068,648.8 2068,651.9 1771.7,827.6" fill="#ee6862" opacity="0.62"/><polygon points="1771.7,827.6 2068,651.9 2068,654.7 1771.7,831.6" fill="#e84644" opacity="0.55"/><polygon points="1771.7,839.5 2068,660.2 2068,664.5 1771.7,845.7" fill="#c02224" opacity="0.62"/><line x1="1771.7" y1="597" x2="1771.7" y2="845" stroke="#f8908a" stroke-width="2.6"/><polygon points="1493,350 1771.4,362.5 1771.4,469.5 1740,460 1700,455 1642,452 1599,444 1564,449 1545,439 1527,432 1508,435 1493,443" fill="#f8d8c8"/><polygon points="1771.4,362.5 2058.4,349.5 2058.4,432 2040,433 2015,429.5 1986,444 1943,441 1900,452 1866,441 1843,452 1822,463 1800,472 1771.4,469.5" fill="#f0ae9f"/><g clip-path="url(#k16)"><path d="M1447,373.5 C1453.5,373.5 1459.5,391 1472,391 C1484.5,391 1490.5,373.6 1497,373.6 C1503.6,373.6 1509.7,391.4 1522.3,391.4 C1534.9,391.4 1541,374.2 1547.6,374.2 C1554.3,374.2 1560.4,392.2 1573.3,392.2 C1586.2,392.2 1592.3,374.8 1599,374.8 C1605.6,374.8 1611.6,392.9 1624.2,392.9 C1636.9,392.9 1642.9,375.5 1649.5,375.5 C1655.8,375.5 1661.6,393.6 1673.8,393.6 C1685.9,393.6 1691.7,376.1 1698,376.1 C1704.4,376.1 1710.2,394.3 1722.5,394.3 C1734.8,394.3 1740.6,376.7 1747,376.7 C1753,376.7 1758.5,395 1770,395 C1781.5,395 1787,377 1793,377 C1799,377 1804.5,395 1816,395 C1827.5,395 1833,377 1839,377 L1839,343 L1413,330 L1447,373.5 Z" fill="url(#epiL33)"/></g><g clip-path="url(#k17)"><path d="M1753.4,385 C1759.8,385 1765.8,401.4 1778.2,401.4 C1790.5,401.4 1796.5,383 1802.9,383 C1809.1,383 1814.9,397.4 1826.9,397.4 C1838.9,397.4 1844.7,380 1850.9,380 C1857.8,380 1864.2,393.1 1877.4,393.1 C1890.7,393.1 1897,376.7 1903.9,376.7 C1911.1,376.7 1917.7,388.6 1931.4,388.6 C1945.2,388.6 1951.8,373.2 1958.9,373.2 C1965,373.2 1970.7,384.4 1982.4,384.4 C1994.2,384.4 1999.8,370.3 2005.9,370.3 C2010.5,370.3 2014.7,380.9 2023.4,380.9 C2032.2,380.9 2036.4,368.1 2040.9,368.1 C2044.2,368.1 2047.2,378.4 2053.4,378.4 C2059.7,378.4 2062.7,367 2065.9,367 C2069.2,367 2072.3,378 2078.7,378 C2085,378 2088.1,367 2091.4,367 L2091.4,328 L1691.4,343 L1753.4,385 Z" fill="url(#epiR33)"/></g><polygon points="1493,350 1785.4,337 2058.4,349.5 1771.4,362.5" fill="#f6d3b9"/><polyline points="1493,353 1771.4,366" fill="none" stroke="#e6a184" stroke-width="4" opacity="0.75"/><polyline points="1771.4,365.5 2058.4,351.5" fill="none" stroke="#d2642f" stroke-width="3" opacity="0.75"/><line x1="1494" y1="351" x2="1494" y2="437" stroke="#ecb39a" stroke-width="3" opacity="0.8"/><path d="M1493,437C1495.5,435.7 1502.3,430.8 1508,429C1513.7,427.2 1520.8,425.3 1527,426C1533.2,426.7 1538.8,430.2 1545,433C1551.2,435.8 1555,442.2 1564,443C1573,443.8 1586,437.5 1599,438C1612,438.5 1625.2,444.2 1642,446C1658.8,447.8 1683.7,447.7 1700,449C1716.3,450.3 1728.1,451.6 1740,454C1751.9,456.4 1766.2,461.9 1771.4,463.5 L1771.4,600.4 L1737,590.3 L1707,584 L1676,572.3 L1647,563.7 L1612,553.4 L1583,545 L1560,538 L1520,526.2 L1493,518.3Z" fill="#ba8a26"/><path d="M1771.4,463.5C1776.2,463.9 1791.6,467.1 1800,466C1808.4,464.9 1814.8,460.3 1822,457C1829.2,453.7 1835.7,449.7 1843,446C1850.3,442.3 1856.5,435 1866,435C1875.5,435 1887.2,446 1900,446C1912.8,446 1928.7,436.3 1943,435C1957.3,433.7 1974,439.9 1986,438C1998,436.1 2006,425.3 2015,423.5C2024,421.7 2032.8,426.6 2040,427C2047.2,427.4 2055.3,426.2 2058.4,426 L2058.4,499.3 L1771.7,601 Z" fill="#a26c14"/><g clip-path="url(#k18)"><use href="#a0" x="1778.3" y="556.6"/><use href="#c1" x="1695.5" y="527.3"/><use href="#d1" x="1579" y="499.8"/><use href="#c0" x="1685.5" y="481.9"/><use href="#d2" x="1555.4" y="510.5"/><use href="#a0" x="1700.5" y="555.7"/><use href="#a0" x="1773.1" y="456.5"/><use href="#b2" x="1585.8" y="485"/><use href="#b1" x="1593.7" y="555.9"/><use href="#b2" x="1516.2" y="485"/><use href="#d0" x="1541.7" y="442.9"/><use href="#a0" x="1575.8" y="437.5"/><use href="#d2" x="1778.5" y="589"/><use href="#a1" x="1761.7" y="585.3"/><use href="#c1" x="1707.2" y="517.5"/><use href="#b0" x="1683" y="555"/><use href="#a0" x="1608.7" y="532.1"/><use href="#a1" x="1775.3" y="570.7"/><use href="#a1" x="1727.7" y="500.6"/><use href="#c0" x="1738.7" y="577.3"/><use href="#d2" x="1684.1" y="468.3"/><use href="#a1" x="1666.2" y="559.3"/><use href="#d1" x="1670.5" y="575.2"/><use href="#d0" x="1686.2" y="516.9"/><use href="#a0" x="1754.9" y="454"/><use href="#d0" x="1700.8" y="469.4"/><use href="#b0" x="1507.9" y="440.4"/><use href="#b1" x="1752.4" y="480.9"/><use href="#d0" x="1749.3" y="559.6"/><use href="#a1" x="1743" y="481.7"/><use href="#a1" x="1720.3" y="453.2"/><use href="#b0" x="1770" y="602.7"/><use href="#d2" x="1546.1" y="529.6"/><use href="#a1" x="1749.6" y="524.8"/><use href="#d1" x="1623.6" y="456.9"/><use href="#a1" x="1654.8" y="482.6"/><use href="#c1" x="1514" y="525.5"/><use href="#b0" x="1645" y="559.9"/><use href="#b2" x="1501.9" y="487.6"/><use href="#d2" x="1714.6" y="585.4"/><use href="#a1" x="1682.9" y="501.5"/><use href="#c1" x="1763.3" y="554.7"/><use href="#b1" x="1498" y="427.7"/><use href="#a2" x="1737.4" y="510.3"/><use href="#c2" x="1614.4" y="559.7"/><use href="#a1" x="1660.3" y="467.4"/><use href="#d2" x="1729.7" y="469.4"/><use href="#a2" x="1566.6" y="517.7"/><use href="#b2" x="1723.1" y="546.5"/><use href="#b2" x="1689.1" y="543.6"/><use href="#d2" x="1555.1" y="456.7"/><use href="#b2" x="1606.5" y="485.5"/><use href="#d2" x="1589.3" y="453.4"/><use href="#b0" x="1556.7" y="484"/><use href="#b1" x="1517" y="422"/><use href="#b2" x="1500.5" y="450.2"/><use href="#a2" x="1758.6" y="574.1"/><use href="#a1" x="1734" y="530.1"/><use href="#d1" x="1603.7" y="515.1"/><use href="#a0" x="1747.9" y="494.9"/><use href="#d1" x="1766.2" y="471.4"/><use href="#d1" x="1575.9" y="471.1"/><use href="#c1" x="1754" y="547.6"/><use href="#c1" x="1714.2" y="528.7"/><use href="#a1" x="1669" y="544.5"/><use href="#b1" x="1616.8" y="547.8"/><use href="#a1" x="1700.5" y="442.8"/><use href="#d2" x="1636.5" y="452.5"/><use href="#d1" x="1753.2" y="515.8"/><use href="#c1" x="1723.9" y="512.8"/><use href="#a2" x="1598" y="465.9"/><use href="#a1" x="1648.3" y="531"/><use href="#a1" x="1746.8" y="468.4"/><use href="#d1" x="1690.4" y="571.1"/><use href="#a2" x="1646.6" y="472.1"/><use href="#a2" x="1688" y="455.4"/><use href="#b1" x="1720.2" y="484.2"/><use href="#d0" x="1501.3" y="516.3"/><use href="#a2" x="1532" y="420.2"/><use href="#c0" x="1562.3" y="435.9"/><use href="#d1" x="1619.5" y="483.6"/><use href="#a1" x="1637.3" y="487"/><use href="#d1" x="1729.1" y="587.9"/><use href="#c1" x="1634.3" y="543.9"/><use href="#a1" x="1715.9" y="558"/><use href="#a1" x="1601.6" y="452.7"/><use href="#a2" x="1516.9" y="449.7"/><use href="#d1" x="1568.1" y="451.7"/><use href="#b0" x="1642.3" y="501"/><use href="#d1" x="1529.9" y="469.4"/><use href="#a1" x="1537.4" y="487.7"/><use href="#c1" x="1608.4" y="438.5"/><use href="#b0" x="1720.7" y="574.1"/><use href="#b2" x="1527.3" y="497.9"/><use href="#c1" x="1626.8" y="531.4"/><use href="#a1" x="1530.9" y="440.2"/><use href="#d1" x="1630.9" y="557.9"/><use href="#b1" x="1495.2" y="468.8"/><use href="#a1" x="1537.6" y="509.6"/><use href="#c0" x="1509.6" y="494.9"/><use href="#b1" x="1626.3" y="469.3"/><use href="#a1" x="1773.8" y="547"/><use href="#a1" x="1531.2" y="525.3"/><use href="#b1" x="1670.7" y="457.4"/><use href="#a0" x="1677" y="442.4"/><use href="#c0" x="1703.4" y="546.8"/><use href="#b1" x="1773.2" y="487.1"/><use href="#a0" x="1675.6" y="482.9"/><use href="#a0" x="1589.5" y="545.9"/><use href="#b1" x="1659" y="498"/><use href="#a1" x="1746.9" y="585.3"/><use href="#b1" x="1671" y="516.1"/><use href="#b2" x="1717.7" y="465.9"/><use href="#a0" x="1762.8" y="529"/><use href="#c0" x="1699.9" y="495.2"/><use href="#b1" x="1624.4" y="516.2"/><use href="#d0" x="1705.1" y="452.4"/><use href="#a1" x="1736.4" y="453.6"/><use href="#d0" x="1654.7" y="510.6"/><use href="#b2" x="1656.5" y="543.6"/><use href="#a0" x="1593" y="530.5"/><use href="#b1" x="1651.5" y="455.7"/><use href="#d1" x="1771.3" y="510.3"/><use href="#a2" x="1497" y="442.1"/><use href="#c2" x="1578.4" y="527.6"/><use href="#d2" x="1559.2" y="499.7"/><use href="#c1" x="1522.3" y="512.2"/><use href="#a1" x="1562.4" y="531.2"/><use href="#a1" x="1601.6" y="547.5"/><use href="#d0" x="1492" y="525.2"/><use href="#b1" x="1709" y="486.8"/><use href="#a1" x="1569.1" y="483.5"/><use href="#b1" x="1509.7" y="472.9"/><use href="#a2" x="1715" y="494.9"/><use href="#c0" x="1768.5" y="501.4"/><use href="#a2" x="1675.9" y="526.9"/><use href="#d1" x="1740.9" y="544"/><use href="#a1" x="1598.4" y="438.7"/><use href="#b0" x="1588.4" y="511.8"/><use href="#c1" x="1630.6" y="437.8"/><use href="#a0" x="1542.3" y="500.9"/><use href="#c0" x="1542.1" y="467.3"/><use href="#a1" x="1729.7" y="555.5"/><use href="#d2" x="1536" y="456.8"/><use href="#c2" x="1634.9" y="512.8"/><use href="#d0" x="1665.2" y="526.2"/><use href="#a0" x="1558.3" y="466"/><use href="#d2" x="1703.7" y="570.2"/><use href="#d2" x="1694" y="585.3"/><use href="#a0" x="1571.3" y="545.3"/><use href="#a0" x="1647.7" y="442.4"/><use href="#d1" x="1608.8" y="467.6"/><use href="#d1" x="1493.3" y="498.1"/><use href="#d0" x="1625.8" y="502.3"/><use href="#d1" x="1612.7" y="496.1"/><use href="#d2" x="1598" y="501.4"/><circle cx="1786.8" cy="561.6" r="3.6" fill="#96660f" opacity="0.6"/><circle cx="1602.2" cy="560.9" r="4.6" fill="#96660f" opacity="0.6"/><circle cx="1617.2" cy="537.1" r="3.6" fill="#96660f" opacity="0.6"/><circle cx="1763.4" cy="459" r="3.6" fill="#96660f" opacity="0.6"/><circle cx="1554.6" cy="534.6" r="5.6" fill="#96660f" opacity="0.6"/><circle cx="1691.4" cy="506.5" r="4.6" fill="#96660f" opacity="0.6"/><circle cx="1731.6" cy="551.5" r="5.6" fill="#96660f" opacity="0.6"/><circle cx="1767.1" cy="579.1" r="5.6" fill="#96660f" opacity="0.6"/><circle cx="1677.5" cy="549.5" r="4.6" fill="#96660f" opacity="0.6"/><circle cx="1755.3" cy="473.4" r="4.6" fill="#96660f" opacity="0.6"/><circle cx="1628" cy="488.6" r="4.6" fill="#96660f" opacity="0.6"/><circle cx="1650.8" cy="506" r="3.6" fill="#96660f" opacity="0.6"/><circle cx="1639.4" cy="562.9" r="4.6" fill="#96660f" opacity="0.6"/><circle cx="1685.5" cy="447.4" r="3.6" fill="#96660f" opacity="0.6"/><circle cx="1726.2" cy="470.9" r="5.6" fill="#96660f" opacity="0.6"/><circle cx="1601.5" cy="535.5" r="3.6" fill="#96660f" opacity="0.6"/><circle cx="1610.1" cy="552.5" r="4.6" fill="#96660f" opacity="0.6"/><circle cx="1749.4" cy="549" r="4.6" fill="#96660f" opacity="0.6"/><circle cx="1643.4" cy="517.8" r="5.6" fill="#96660f" opacity="0.6"/><circle cx="1501.8" cy="503.1" r="4.6" fill="#96660f" opacity="0.6"/></g><g clip-path="url(#k19)"><use href="#b1" x="1910.9" y="465.5"/><use href="#c1" x="1882.7" y="477.1"/><use href="#c0" x="1777.4" y="543.6"/><use href="#b1" x="1958.9" y="529.2"/><use href="#c0" x="2042.7" y="465.4"/><use href="#c1" x="1808.2" y="464.3"/><use href="#a1" x="1986.1" y="451"/><use href="#a1" x="1929.7" y="540.9"/><use href="#b1" x="1880.4" y="514.9"/><use href="#a2" x="2044" y="440.3"/><use href="#c0" x="1896.4" y="448.8"/><use href="#c0" x="1970" y="484.4"/><use href="#b2" x="2061.3" y="434.5"/><use href="#c1" x="1795.9" y="600.4"/><use href="#b1" x="2031.5" y="454.3"/><use href="#e2" x="1802" y="582.1"/><use href="#b2" x="2061.4" y="495.9"/><use href="#c2" x="1876.9" y="552"/><use href="#b0" x="1793.2" y="573.4"/><use href="#e1" x="1998.6" y="423.6"/><use href="#b1" x="1929.8" y="448.8"/><use href="#b0" x="1876.9" y="495.9"/><use href="#b0" x="1863.4" y="568.1"/><use href="#c0" x="1792.8" y="482.6"/><use href="#c2" x="1900.9" y="478.4"/><use href="#c1" x="1947.8" y="450.2"/><use href="#b1" x="1857.1" y="433.4"/><use href="#b1" x="1781.9" y="477.3"/><use href="#b2" x="1871.9" y="527.9"/><use href="#a0" x="1944.1" y="433.5"/><use href="#e1" x="2011.1" y="464.4"/><use href="#e1" x="1972.6" y="496.1"/><use href="#b0" x="1881.8" y="454.3"/><use href="#c2" x="1835.2" y="465.4"/><use href="#c0" x="2054.3" y="421.1"/><use href="#c1" x="1769.3" y="556.8"/><use href="#b0" x="1866.7" y="450.5"/><use href="#b1" x="2002.4" y="484.1"/><use href="#a1" x="1910.8" y="438.8"/><use href="#c1" x="2052" y="509.1"/><use href="#b1" x="1946.4" y="512.3"/><use href="#c2" x="1788" y="469.8"/><use href="#e1" x="1917.7" y="452.1"/><use href="#a1" x="2017.7" y="479.5"/><use href="#c0" x="1996.6" y="433.9"/><use href="#b2" x="1912" y="542"/><use href="#b2" x="1922.1" y="527.7"/><use href="#b1" x="2034.5" y="424"/><use href="#b1" x="1830.8" y="511"/><use href="#c2" x="1808.8" y="493.8"/><use href="#a0" x="1769.9" y="500"/><use href="#e0" x="1785.9" y="553"/><use href="#e2" x="1918.9" y="484.3"/><use href="#c0" x="1819" y="523.7"/><use href="#c0" x="1896.1" y="542"/><use href="#c1" x="2017.3" y="513.6"/><use href="#e1" x="1848.4" y="567.6"/><use href="#e1" x="1863.3" y="512.4"/><use href="#a2" x="1773.5" y="585.9"/><use href="#c1" x="1774.2" y="464"/><use href="#a2" x="2013.6" y="439.7"/><use href="#a1" x="1846.2" y="510.7"/><use href="#a1" x="1832.3" y="453.2"/><use href="#c1" x="1822.5" y="556.9"/><use href="#b0" x="1995.7" y="523.1"/><use href="#c2" x="1841" y="553.3"/><use href="#b0" x="1771.2" y="526.6"/><use href="#c1" x="1855.3" y="552.8"/><use href="#e1" x="1963" y="515"/><use href="#a1" x="1795" y="541.6"/><use href="#c1" x="1861" y="539.3"/><use href="#b2" x="2014.1" y="455.4"/><use href="#a0" x="1892.3" y="465.4"/><use href="#b2" x="1814.1" y="539.4"/><use href="#e1" x="2045.5" y="494.6"/><use href="#b1" x="1909" y="496.7"/><use href="#c2" x="1857.7" y="525"/><use href="#a0" x="2012.1" y="492.4"/><use href="#e0" x="1879.7" y="544.5"/><use href="#b2" x="2001.8" y="453.3"/><use href="#e0" x="1893.6" y="522.7"/><use href="#c1" x="1766.3" y="541"/><use href="#b1" x="1811.6" y="511.7"/><use href="#b2" x="1794.5" y="514.6"/><use href="#c1" x="1974" y="530.3"/><use href="#c0" x="1788.6" y="530.3"/><use href="#b1" x="1926.1" y="466.6"/><use href="#b0" x="1934" y="483.9"/><use href="#a1" x="1845" y="484.7"/><use href="#b1" x="1858.8" y="499"/><use href="#c1" x="2000" y="508.6"/><use href="#c2" x="1849.7" y="451.5"/><use href="#c1" x="1764.6" y="481.9"/><use href="#b1" x="1923.3" y="496.9"/><use href="#c1" x="1814.9" y="572"/><use href="#c1" x="2063.4" y="468.8"/><use href="#e0" x="1943.7" y="530.2"/><use href="#b2" x="1877" y="435.3"/><use href="#e1" x="1947.4" y="537.7"/><use href="#e1" x="1803.4" y="528"/><use href="#c0" x="1912.5" y="515.2"/><use href="#a0" x="2036.9" y="485.5"/><use href="#c1" x="1821.8" y="584.1"/><use href="#e0" x="1990.3" y="497.5"/><use href="#b2" x="1976.2" y="468.2"/><use href="#c1" x="1838.6" y="523.7"/><use href="#a0" x="1938.6" y="493.6"/><use href="#b2" x="1801.9" y="558.1"/><use href="#e1" x="2050" y="478.9"/><use href="#c1" x="1988" y="508.6"/><use href="#e2" x="1824.2" y="462.4"/><use href="#c2" x="1815" y="481.2"/><use href="#c1" x="2025.2" y="496.6"/><use href="#e1" x="1857" y="469.3"/><use href="#b1" x="1972.9" y="437.7"/><use href="#b2" x="1788.4" y="582.5"/><use href="#c1" x="1956" y="469.4"/><use href="#c2" x="1830.1" y="571.5"/><use href="#e1" x="1835.6" y="494.1"/><use href="#c0" x="1945.9" y="479.5"/><use href="#c1" x="1865.6" y="477.3"/><use href="#b1" x="1905.1" y="558.7"/><use href="#c0" x="1830.8" y="538.3"/><use href="#b2" x="1872.5" y="464.7"/><use href="#c1" x="1967.2" y="450.5"/><use href="#b1" x="1790.2" y="493.4"/><use href="#a1" x="1776.2" y="603.5"/><use href="#b1" x="2052.5" y="449.1"/><use href="#b2" x="1962.6" y="438"/><use href="#b1" x="1938.2" y="470.1"/><use href="#a2" x="1957.7" y="492.7"/><use href="#b1" x="1905.1" y="525.2"/><use href="#e1" x="1935.4" y="508.1"/><use href="#c1" x="1778.8" y="508"/><use href="#a1" x="2032.9" y="508.4"/><use href="#c0" x="1900.9" y="512.7"/><use href="#c1" x="2028.8" y="440.6"/><use href="#c2" x="1985.1" y="482.6"/><use href="#b2" x="2018.2" y="423.2"/><use href="#b1" x="2005.9" y="524.5"/><use href="#c1" x="1833.7" y="482"/><use href="#b1" x="1994.9" y="464.5"/><use href="#a2" x="2030.1" y="462.9"/><use href="#b0" x="1926.2" y="439.8"/><use href="#b2" x="1777.1" y="570.4"/><use href="#a0" x="1893.7" y="553.7"/><use href="#b2" x="1848.6" y="543.5"/><use href="#b0" x="1889.1" y="499"/><use href="#c0" x="1823.9" y="496.9"/><circle cx="1919.4" cy="470.5" r="4.6" fill="#86540c" opacity="0.6"/><circle cx="1938.2" cy="545.9" r="4.6" fill="#86540c" opacity="0.6"/><circle cx="2040" cy="459.3" r="4.6" fill="#86540c" opacity="0.6"/><circle cx="1885.4" cy="500.9" r="3.6" fill="#86540c" opacity="0.6"/><circle cx="1880.4" cy="532.9" r="5.6" fill="#86540c" opacity="0.6"/><circle cx="1777.8" cy="561.8" r="4.6" fill="#86540c" opacity="0.6"/><circle cx="1926.2" cy="457.1" r="4.6" fill="#86540c" opacity="0.6"/><circle cx="1817.3" cy="498.8" r="5.6" fill="#86540c" opacity="0.6"/><circle cx="1856.9" cy="572.6" r="4.6" fill="#86540c" opacity="0.6"/><circle cx="1831" cy="561.9" r="4.6" fill="#86540c" opacity="0.6"/><circle cx="1869.5" cy="544.3" r="4.6" fill="#86540c" opacity="0.6"/><circle cx="2020.6" cy="497.4" r="3.6" fill="#86540c" opacity="0.6"/><circle cx="1982.5" cy="535.3" r="4.6" fill="#86540c" opacity="0.6"/><circle cx="1858.2" cy="456.5" r="5.6" fill="#86540c" opacity="0.6"/><circle cx="1955.9" cy="542.7" r="4.6" fill="#86540c" opacity="0.6"/><circle cx="1847.1" cy="528.7" r="4.6" fill="#86540c" opacity="0.6"/><circle cx="2033.7" cy="501.6" r="4.6" fill="#86540c" opacity="0.6"/><circle cx="1954.4" cy="484.5" r="3.6" fill="#86540c" opacity="0.6"/><circle cx="1784.7" cy="608.5" r="4.6" fill="#86540c" opacity="0.6"/><circle cx="1787.3" cy="513" r="4.6" fill="#86540c" opacity="0.6"/><circle cx="1842.2" cy="487" r="4.6" fill="#86540c" opacity="0.6"/><circle cx="1897.6" cy="504" r="3.6" fill="#86540c" opacity="0.6"/></g><g clip-path="url(#k20)"><use href="#b0" x="1493.3" y="439.3"/><use href="#b1" x="1505.9" y="436"/><use href="#c1" x="1518.3" y="432.9"/><use href="#b1" x="1529.6" y="432.5"/><use href="#d1" x="1543.7" y="437.7"/><use href="#a1" x="1559.4" y="443.3"/><use href="#b0" x="1574.5" y="444.7"/><use href="#b1" x="1587.8" y="443.5"/><use href="#a0" x="1601.3" y="441.9"/><use href="#a0" x="1613.1" y="443.6"/><use href="#d1" x="1626.3" y="447.4"/><use href="#d1" x="1639.8" y="450.7"/><use href="#d1" x="1654.1" y="450"/><use href="#d0" x="1665.6" y="450.6"/><use href="#a1" x="1676.7" y="452.7"/><use href="#a1" x="1689.1" y="452.1"/><use href="#a0" x="1701.6" y="455.2"/><use href="#a0" x="1717.2" y="453.7"/><use href="#c1" x="1732.1" y="457.2"/><use href="#c1" x="1744.3" y="458.1"/><use href="#a1" x="1756.1" y="463.4"/><use href="#c1" x="1767.9" y="466.3"/></g><g clip-path="url(#k21)"><use href="#b0" x="1773.9" y="469.5"/><use href="#a1" x="1788.6" y="469.4"/><use href="#e1" x="1801.3" y="468.4"/><use href="#c1" x="1814.8" y="463.8"/><use href="#b1" x="1828.4" y="458"/><use href="#b0" x="1842.1" y="449.3"/><use href="#c1" x="1854.4" y="446.3"/><use href="#a0" x="1866.1" y="437.9"/><use href="#c1" x="1877.6" y="441.9"/><use href="#c1" x="1892.6" y="446.9"/><use href="#e0" x="1904.6" y="447.5"/><use href="#a0" x="1918.9" y="444.7"/><use href="#a1" x="1933.5" y="443.2"/><use href="#c0" x="1948" y="439.2"/><use href="#c1" x="1962.3" y="439"/><use href="#c1" x="1973.5" y="442.7"/><use href="#c1" x="1988.3" y="439.8"/><use href="#b1" x="2002.9" y="433.2"/><use href="#c0" x="2017" y="429.6"/><use href="#b1" x="2030.6" y="429.6"/><use href="#b1" x="2042.2" y="429.6"/><use href="#e1" x="2054.2" y="430.8"/></g><path d="M1771.4,463.5C1776.2,463.9 1791.6,467.1 1800,466C1808.4,464.9 1814.8,460.3 1822,457C1829.2,453.7 1835.7,449.7 1843,446C1850.3,442.3 1856.5,435 1866,435C1875.5,435 1887.2,446 1900,446C1912.8,446 1928.7,436.3 1943,435C1957.3,433.7 1974,439.9 1986,438C1998,436.1 2006,425.3 2015,423.5C2024,421.7 2032.8,426.6 2040,427C2047.2,427.4 2055.3,426.2 2058.4,426 L2058.4,499.3 L1771.7,601 Z" fill="#d27a1a" opacity="0.13"/></g><g filter="url(#soft2)" fill="none" stroke="#a6c3d7" stroke-width="3.6" stroke-linecap="butt"><path d="M609,433.5 H748"/><path d="M611,597.5 H748"/><path d="M1341,436 H1475.5"/><path d="M1341,597 H1419.5 V531 H1475"/></g><g filter="url(#soft)"><path d="M1419.5,540 Q1423,552 1429.5,563.5 L1422.3,562.5 V593 H1416.7 V562.5 L1409.5,563.5 Q1416,552 1419.5,540 Z" fill="#2987bd"/></g><g filter="url(#soft2)"><path d="M398,121 L410,117.5 L433,115.5 L436,123.5 L438.5,123.5 L441,111.5 L469,109.5 L472,118.5 L475,118.5 L478,109 L506,107.5 L509,115.5 L512,115.5 L514,106.5 L564,104.5 L564,176.5 L514,181 L511.5,172.5 L509,172.5 L506,183 L478,185 L475,176 L472.5,176 L469.5,186.5 L441,188.5 L438.5,179.5 L436,179.5 L433.5,190 L410,190.5 L398,190 Z" fill="url(#dCable)"/><rect x="527" y="118" width="37" height="48" fill="#9c9c9c" opacity="0.35"/><path d="M454,121.5 Q445,147 455,174" fill="none" stroke="#4c4c4c" stroke-width="2.8" opacity="0.85"/><path d="M458.5,123 Q449.5,147 459.5,172" fill="none" stroke="#dcdcdc" stroke-width="4" opacity="0.55"/><path d="M490.5,120.1 Q481.5,147 491.5,172.6" fill="none" stroke="#4c4c4c" stroke-width="2.8" opacity="0.85"/><path d="M495,123 Q486,147 496,172" fill="none" stroke="#dcdcdc" stroke-width="4" opacity="0.55"/><path d="M526,118.6 Q517,147 527,171.1" fill="none" stroke="#4c4c4c" stroke-width="2.8" opacity="0.85"/><path d="M530.5,123 Q521.5,147 531.5,172" fill="none" stroke="#dcdcdc" stroke-width="4" opacity="0.55"/><circle cx="437.2" cy="124" r="2.6" fill="#6a6a6a" opacity="0.8"/><circle cx="437.2" cy="178.5" r="2.6" fill="#555" opacity="0.85"/><rect x="435.5" y="124" width="3.4" height="54.5" fill="#8a8a8a" opacity="0.3"/><circle cx="473.6" cy="119" r="2.6" fill="#6a6a6a" opacity="0.8"/><circle cx="473.6" cy="175" r="2.6" fill="#555" opacity="0.85"/><rect x="471.9" y="119" width="3.4" height="56" fill="#8a8a8a" opacity="0.3"/><circle cx="510.4" cy="116" r="2.6" fill="#6a6a6a" opacity="0.8"/><circle cx="510.4" cy="171.5" r="2.6" fill="#555" opacity="0.85"/><rect x="508.7" y="116" width="3.4" height="55.5" fill="#8a8a8a" opacity="0.3"/><rect x="392" y="100" width="60" height="100" fill="url(#dCableFade)"/><path d="M564,99.5 L592,92 L636,92 L636,187 L600,187.5 L564,181 Z" fill="url(#dCollar)"/><path d="M564,99.5 L592,92 L636,92 L636,187 L600,187.5 L564,181 Z" fill="url(#dCollarV)"/><path d="M635,94 L690,94 L664,187 L635,187 Z" fill="#d8d8d8"/><path d="M635,94 L690,94 L664,187 L635,187 Z" fill="url(#dCollarV)"/><line x1="635.5" y1="94" x2="635.5" y2="187" stroke="#bdbdbd" stroke-width="1.5"/><path d="M722,40 L1172,40 Q1188,41 1188,54 L1188,66 Q1186,79 1152,80.5 L903,87 Q876,88 875,108 L876,135 Q878,170 908,171 L1156,169 Q1176,168 1182,152 Q1186,140 1194,141 L1297,203 L1300,224 L1287,236 L1292,250 Q1290,268 1270,269 L914,269 L840,258 L678,250 Q661,249 660,234 L660,188 L686,92 Z" fill="url(#dBody)"/><g clip-path="url(#k22)"><path d="M660,188 L686,92 L722,40 L900,40 L900,56 L770,56 Q742,58 729,80 L700,139 L672,139 Z" fill="#e7e7e7"/><path d="M900,173 L1160,171" fill="none" stroke="#f2f2f2" stroke-width="5" opacity="0.7"/><rect x="850" y="38" width="345" height="52" fill="url(#dHandle)"/><rect x="850" y="38" width="80" height="52" fill="url(#dHandleL)"/><rect x="1130" y="38" width="62" height="52" fill="url(#dHandleR)"/><g mask="url(#mWall)"><path d="M1152,80.5 L903,87 Q876,88 875,108 L876,135 Q878,170 908,171 L935,170.8" fill="none" stroke="#707070" stroke-width="50" opacity="0.1" stroke-linejoin="round"/><path d="M1152,80.5 L903,87 Q876,88 875,108 L876,135 Q878,170 908,171 L935,170.8" fill="none" stroke="#707070" stroke-width="40" opacity="0.13" stroke-linejoin="round"/><path d="M1152,80.5 L903,87 Q876,88 875,108 L876,135 Q878,170 908,171 L935,170.8" fill="none" stroke="#707070" stroke-width="30" opacity="0.16" stroke-linejoin="round"/><path d="M1152,80.5 L903,87 Q876,88 875,108 L876,135 Q878,170 908,171 L935,170.8" fill="none" stroke="#707070" stroke-width="21" opacity="0.2" stroke-linejoin="round"/><path d="M1152,80.5 L903,87 Q876,88 875,108 L876,135 Q878,170 908,171 L935,170.8" fill="none" stroke="#707070" stroke-width="13" opacity="0.24" stroke-linejoin="round"/><path d="M1152,80.5 L903,87 Q876,88 875,108 L876,135 Q878,170 908,171 L935,170.8" fill="none" stroke="#707070" stroke-width="6" opacity="0.3" stroke-linejoin="round"/></g><path d="M876,120 L876,135 Q878,170 908,171 L945,170.6" fill="none" stroke="#8a8a8a" stroke-width="1.8" opacity="0.75"/><rect x="640" y="223" width="700" height="60" fill="url(#dLow)"/><g mask="url(#mLow)"><rect x="640" y="223" width="700" height="60" fill="url(#dLowDark)"/></g><rect x="870" y="168" width="330" height="56" fill="url(#dUnder)"/><rect x="660" y="203" width="550" height="19" fill="url(#dBandX)" opacity="0.35"/><rect x="660" y="208" width="550" height="14" fill="url(#dBandX)" opacity="0.5"/><rect x="660" y="213" width="550" height="9" fill="url(#dBandX)" opacity="0.7"/><rect x="1060" y="223" width="245" height="30" fill="url(#dLowR)"/><rect x="960" y="242" width="180" height="30" fill="url(#dMidLight)"/><line x1="660" y1="222.5" x2="1302" y2="222.5" stroke="#8e8e8e" stroke-width="2"/><path d="M1170,168 L1182,152 Q1186,140 1194,141 L1297,203 L1300,222 L1170,222 Z" fill="url(#dNoseG)"/><path d="M1178,158 Q1186,138 1196,141.5 L1299,203.5" fill="none" stroke="#f6f6f6" stroke-width="13" opacity="0.85"/><g mask="url(#mNoseSh)"><rect x="1100" y="204" width="210" height="18" fill="url(#dNoseSh)"/></g><path d="M1219,156 L1226,151 L1254,168 L1246,172 Z" fill="#a8a8a8"/><line x1="1240" y1="173" x2="1266.6" y2="189" stroke="#505050" stroke-width="2" opacity="0.9"/><line x1="1266.6" y1="189" x2="1282.8" y2="198.8" stroke="#8c8c8c" stroke-width="1.8" opacity="0.7"/><line x1="1239.8" y1="177.2" x2="1263.6" y2="191.5" stroke="#505050" stroke-width="2" opacity="0.9"/><line x1="1263.6" y1="191.5" x2="1278.2" y2="200.3" stroke="#8c8c8c" stroke-width="1.8" opacity="0.7"/><line x1="1239.6" y1="181.4" x2="1260.7" y2="194.1" stroke="#505050" stroke-width="2" opacity="0.9"/><line x1="1260.7" y1="194.1" x2="1273.5" y2="201.8" stroke="#8c8c8c" stroke-width="1.8" opacity="0.7"/><line x1="1239.4" y1="185.6" x2="1257.7" y2="196.6" stroke="#505050" stroke-width="2" opacity="0.9"/><line x1="1257.7" y1="196.6" x2="1268.9" y2="203.4" stroke="#8c8c8c" stroke-width="1.8" opacity="0.7"/><line x1="1239.2" y1="189.8" x2="1254.7" y2="199.2" stroke="#505050" stroke-width="2" opacity="0.9"/><line x1="1254.7" y1="199.2" x2="1264.2" y2="204.9" stroke="#8c8c8c" stroke-width="1.8" opacity="0.7"/><line x1="1239" y1="194" x2="1251.8" y2="201.7" stroke="#505050" stroke-width="2" opacity="0.9"/><line x1="1251.8" y1="201.7" x2="1259.6" y2="206.4" stroke="#8c8c8c" stroke-width="1.8" opacity="0.7"/><line x1="1238.8" y1="198.2" x2="1248.8" y2="204.2" stroke="#505050" stroke-width="2" opacity="0.9"/><line x1="1248.8" y1="204.2" x2="1254.9" y2="207.9" stroke="#8c8c8c" stroke-width="1.8" opacity="0.7"/><line x1="1238.6" y1="202.4" x2="1245.9" y2="206.8" stroke="#505050" stroke-width="2" opacity="0.9"/><line x1="1245.9" y1="206.8" x2="1250.3" y2="209.4" stroke="#8c8c8c" stroke-width="1.8" opacity="0.7"/><line x1="1150" y1="222.5" x2="1302" y2="222.5" stroke="#7c7c7c" stroke-width="2.2"/></g><path d="M636,139 L700,139 L729,80 Q742,58 770,56 L862,56" fill="none" stroke="#9c9c9c" stroke-width="1.6"/><path d="M686,92 L722,40" stroke="#f4f4f4" stroke-width="3" fill="none"/><rect x="689.4" y="184.5" width="7.2" height="16.5" rx="3.6" fill="#0a0a0a"/><rect x="703.8" y="169.5" width="7.2" height="31.5" rx="3.6" fill="#0a0a0a"/><rect x="718.2" y="155.5" width="7.2" height="45.5" rx="3.6" fill="#0a0a0a"/><rect x="732.6" y="147" width="7.2" height="54" rx="3.6" fill="#0a0a0a"/><rect x="747" y="141.5" width="7.2" height="59.5" rx="3.6" fill="#0a0a0a"/><rect x="761.4" y="136.5" width="7.2" height="64.5" rx="3.6" fill="#0a0a0a"/><rect x="775.6" y="138.5" width="7.2" height="62.5" rx="3.6" fill="#0a0a0a"/><rect x="790" y="141.5" width="7.2" height="59.5" rx="3.6" fill="#0a0a0a"/><rect x="804.4" y="146.5" width="7.2" height="54.5" rx="3.6" fill="#0a0a0a"/><rect x="818.8" y="154.5" width="7.2" height="46.5" rx="3.6" fill="#0a0a0a"/><rect x="833" y="165" width="7.2" height="36" rx="3.6" fill="#0a0a0a"/><rect x="847.4" y="185.5" width="7.2" height="15.5" rx="3.6" fill="#0a0a0a"/><rect x="936.5" y="147.5" width="22" height="4.5" fill="#787878"/><rect x="939.5" y="151" width="16" height="14.5" fill="#9c9c9c"/><rect x="942" y="151" width="4" height="14.5" fill="#c4c4c4"/><rect x="950.5" y="151" width="3.5" height="14.5" fill="#808080"/></g><g filter="url(#soft2)" stroke-linecap="round"><path d="M930,338 L1160,338 L1222,470 Q1044,505 866,470 Z" fill="#fff" opacity="0.13"/><path d="M892,412 Q1044,486 1219,404" fill="none" stroke="#8a6a78" stroke-width="4" opacity="0.2"/><path d="M914,418 Q1044,455 1200,416" fill="none" stroke="#8a6a78" stroke-width="3.5" opacity="0.16"/><path d="M939,306.7 Q1043,330.3 1151,305.7 L1151,309.1 Q1043,343.9 939,310.1 Z" fill="#ffffff" opacity="0.5"/><path d="M937,300.7 Q1043,324.2 1153,299.7 L1153,303.1 Q1043,336 937,304.1 Z" fill="#6fa9dd" opacity="1.0"/><path d="M939,330 Q1043,349.3 1151,330 L1151,333.4 Q1043,362.9 939,333.4 Z" fill="#ffffff" opacity="0.5"/><path d="M937,324 Q1043,343.2 1153,324 L1153,327.4 Q1043,355 937,327.4 Z" fill="#6fa9dd" opacity="1.0"/><path d="M941,356.3 Q1042.5,377.5 1150,355.3 L1150,358.7 Q1042.5,391.9 941,359.7 Z" fill="#ffffff" opacity="0.5"/><path d="M939,350.3 Q1042.5,371.4 1152,349.3 L1152,352.7 Q1042.5,384 939,353.7 Z" fill="#6fa9dd" opacity="1.0"/><path d="M940,375.7 Q1042.5,400.9 1151,374.7 L1151,378.1 Q1042.5,415.3 940,379.1 Z" fill="#ffffff" opacity="0.5"/><path d="M938,369.7 Q1042.5,394.8 1153,368.7 L1153,372.1 Q1042.5,407.4 938,373.1 Z" fill="#6fa9dd" opacity="1.0"/><path d="M916,403.9 Q1043.8,434.3 1172.4,402.9 L1172.4,406.3 Q1043.8,449.5 916,407.3 Z" fill="#ffffff" opacity="0.5"/><path d="M914,397.9 Q1043.8,428.2 1174.4,396.9 L1174.4,400.3 Q1043.8,441.6 914,401.3 Z" fill="#6fa9dd" opacity="1.0"/><path d="M893.5,447.6 Q1042.4,479 1197.7,446.7 L1197.7,450.1 Q1042.4,492.6 893.5,451 Z" fill="#ffffff" opacity="0.5"/><path d="M891.5,441.6 Q1042.4,472.9 1199.7,440.7 L1199.7,444.1 Q1042.4,484.7 891.5,445 Z" fill="#6fa9dd" opacity="1.0"/><path d="M869,483.6 Q1045,520 1217,482.6 L1217,486 Q1045,531.6 869,487 Z" fill="#ffffff" opacity="0.5"/><path d="M867,477.6 Q1045,513.9 1219,476.6 L1219,480 Q1045,523.7 867,481 Z" fill="#6fa9dd" opacity="1.0"/></g></svg>
<div class="t h" style="left:0;top:911.6px"><span style="left:49.8px;transform:scale(0.7824,0.9677);-webkit-text-stroke-width:1.04px">B</span><span style="left:110.8px;transform:scale(0.6496,0.9473);-webkit-text-stroke-width:1.90px">E</span><span style="left:165.2px;transform:scale(0.6704,0.9510);-webkit-text-stroke-width:1.74px">F</span><span style="left:212.2px;transform:scale(1.0221,0.9860);-webkit-text-stroke-width:0.30px">O</span><span style="left:300.6px;transform:scale(0.7229,0.9594);-webkit-text-stroke-width:1.38px">R</span><span style="left:364.2px;transform:scale(0.6663,0.9503);-webkit-text-stroke-width:1.77px">E</span></div>
<div class="t h" style="left:0;top:911.3px"><span style="left:798.0px;transform:scale(0.9582,0.9860);-webkit-text-stroke-width:0.30px">D</span><span style="left:878.6px;transform:scale(0.7539,0.9639);-webkit-text-stroke-width:1.20px">U</span><span style="left:945.2px;transform:scale(0.7312,0.9606);-webkit-text-stroke-width:1.33px">R</span><span style="left:1002.4px;transform:scale(1.0700,0.9860);-webkit-text-stroke-width:0.30px">I</span><span style="left:1029.7px;transform:scale(0.9714,0.9860);-webkit-text-stroke-width:0.30px">N</span><span style="left:1107.9px;transform:scale(1.0514,0.9860);-webkit-text-stroke-width:0.30px">G</span></div>
<div class="t h" style="left:0;top:911.9px"><span style="left:1524.3px;transform:scale(0.9158,0.9828);-webkit-text-stroke-width:0.43px">A</span><span style="left:1596.3px;transform:scale(0.6725,0.9514);-webkit-text-stroke-width:1.72px">F</span><span style="left:1644.9px;transform:scale(0.5875,0.9449);-webkit-text-stroke-width:2.00px">T</span><span style="left:1689.7px;transform:scale(0.6367,0.9450);-webkit-text-stroke-width:2.00px">E</span><span style="left:1741.6px;transform:scale(0.7112,0.9576);-webkit-text-stroke-width:1.46px">R</span></div>
<div class="t b" style="left:0;top:1050.6px"><span style="left:55.2px;transform:scale(1.0343,0.965)">Skin,</span> <span style="left:185.5px;transform:scale(1.0839,0.965)">fat</span> <span style="left:261.7px;transform:scale(1.2513,0.965)">and</span> <span style="left:379.7px;transform:scale(1.1523,0.965)">muscle</span> <span style="left:580.0px;transform:scale(1.1526,0.965)">form</span></div>
<div class="t b" style="left:0;top:1119.9px"><span style="left:58.3px;transform:scale(1.1258,0.965)">your</span> <span style="left:183.1px;transform:scale(1.1817,0.965)">overall</span> <span style="left:370.7px;transform:scale(1.2358,0.965)">body</span></div>
<div class="t b" style="left:0;top:1188.8px"><span style="left:55.8px;transform:scale(1.2349,0.965)">appearance.</span></div>
<div class="t b" style="left:0;top:1048.8px"><span style="left:805.9px;transform:scale(0.9639,0.965)">The</span> <span style="left:905.8px;transform:scale(1.0424,0.965)">skin</span> <span style="left:1011.8px;transform:scale(1.1688,0.965)">remains</span></div>
<div class="t b" style="left:0;top:1117.5px"><span style="left:802.4px;transform:scale(1.2028,0.965)">unnaffected</span> <span style="left:1131.4px;transform:scale(1.1402,0.965)">while</span> <span style="left:1276.5px;transform:scale(1.1235,0.965)">the</span></div>
<div class="t b" style="left:0;top:1186.3px"><span style="left:803.7px;transform:scale(1.1391,0.965)">energy</span> <span style="left:1001.2px;transform:scale(1.1392,0.965)">penetrates</span> <span style="left:1284.1px;transform:scale(1.1475,0.965)">to</span> <span style="left:1348.9px;transform:scale(1.1464,0.965)">fat</span></div>
<div class="t b" style="left:0;top:1255.0px"><span style="left:803.5px;transform:scale(1.2526,0.965)">and</span> <span style="left:922.6px;transform:scale(1.1386,0.965)">muscle</span> <span style="left:1118.8px;transform:scale(1.1236,0.965)">layers,</span></div>
<div class="t b" style="left:0;top:1042.5px"><span style="left:1523.9px;transform:scale(0.9185,0.965)">This</span> <span style="left:1623.9px;transform:scale(1.0469,0.965)">results</span> <span style="left:1790.8px;transform:scale(1.2121,0.965)">in</span> <span style="left:1851.1px;transform:scale(1.1413,0.965)">substantial</span></div>
<div class="t b" style="left:0;top:1111.6px"><span style="left:1522.8px;transform:scale(1.1808,0.965)">improvement</span> <span style="left:1878.2px;transform:scale(1.1100,0.965)">of</span> <span style="left:1944.0px;transform:scale(1.1464,0.965)">your</span></div>
<div class="t b" style="left:0;top:1180.3px"><span style="left:1522.3px;transform:scale(1.2423,0.965)">appearance</span> <span style="left:1864.6px;transform:scale(1.2190,0.965)">due</span> <span style="left:1978.0px;transform:scale(1.2122,0.965)">to&#39;</span></div>
<div class="t b" style="left:0;top:1249.9px"><span style="left:1522.6px;transform:scale(1.2313,0.965)">building</span> <span style="left:1746.6px;transform:scale(1.1327,0.965)">muscle</span> <span style="left:1943.1px;transform:scale(1.2718,0.965)">and</span></div>
<div class="t b" style="left:0;top:1319.0px"><span style="left:1522.8px;transform:scale(1.1683,0.965)">burning</span> <span style="left:1736.7px;transform:scale(1.1385,0.965)">fat.</span></div>
</body></html>
